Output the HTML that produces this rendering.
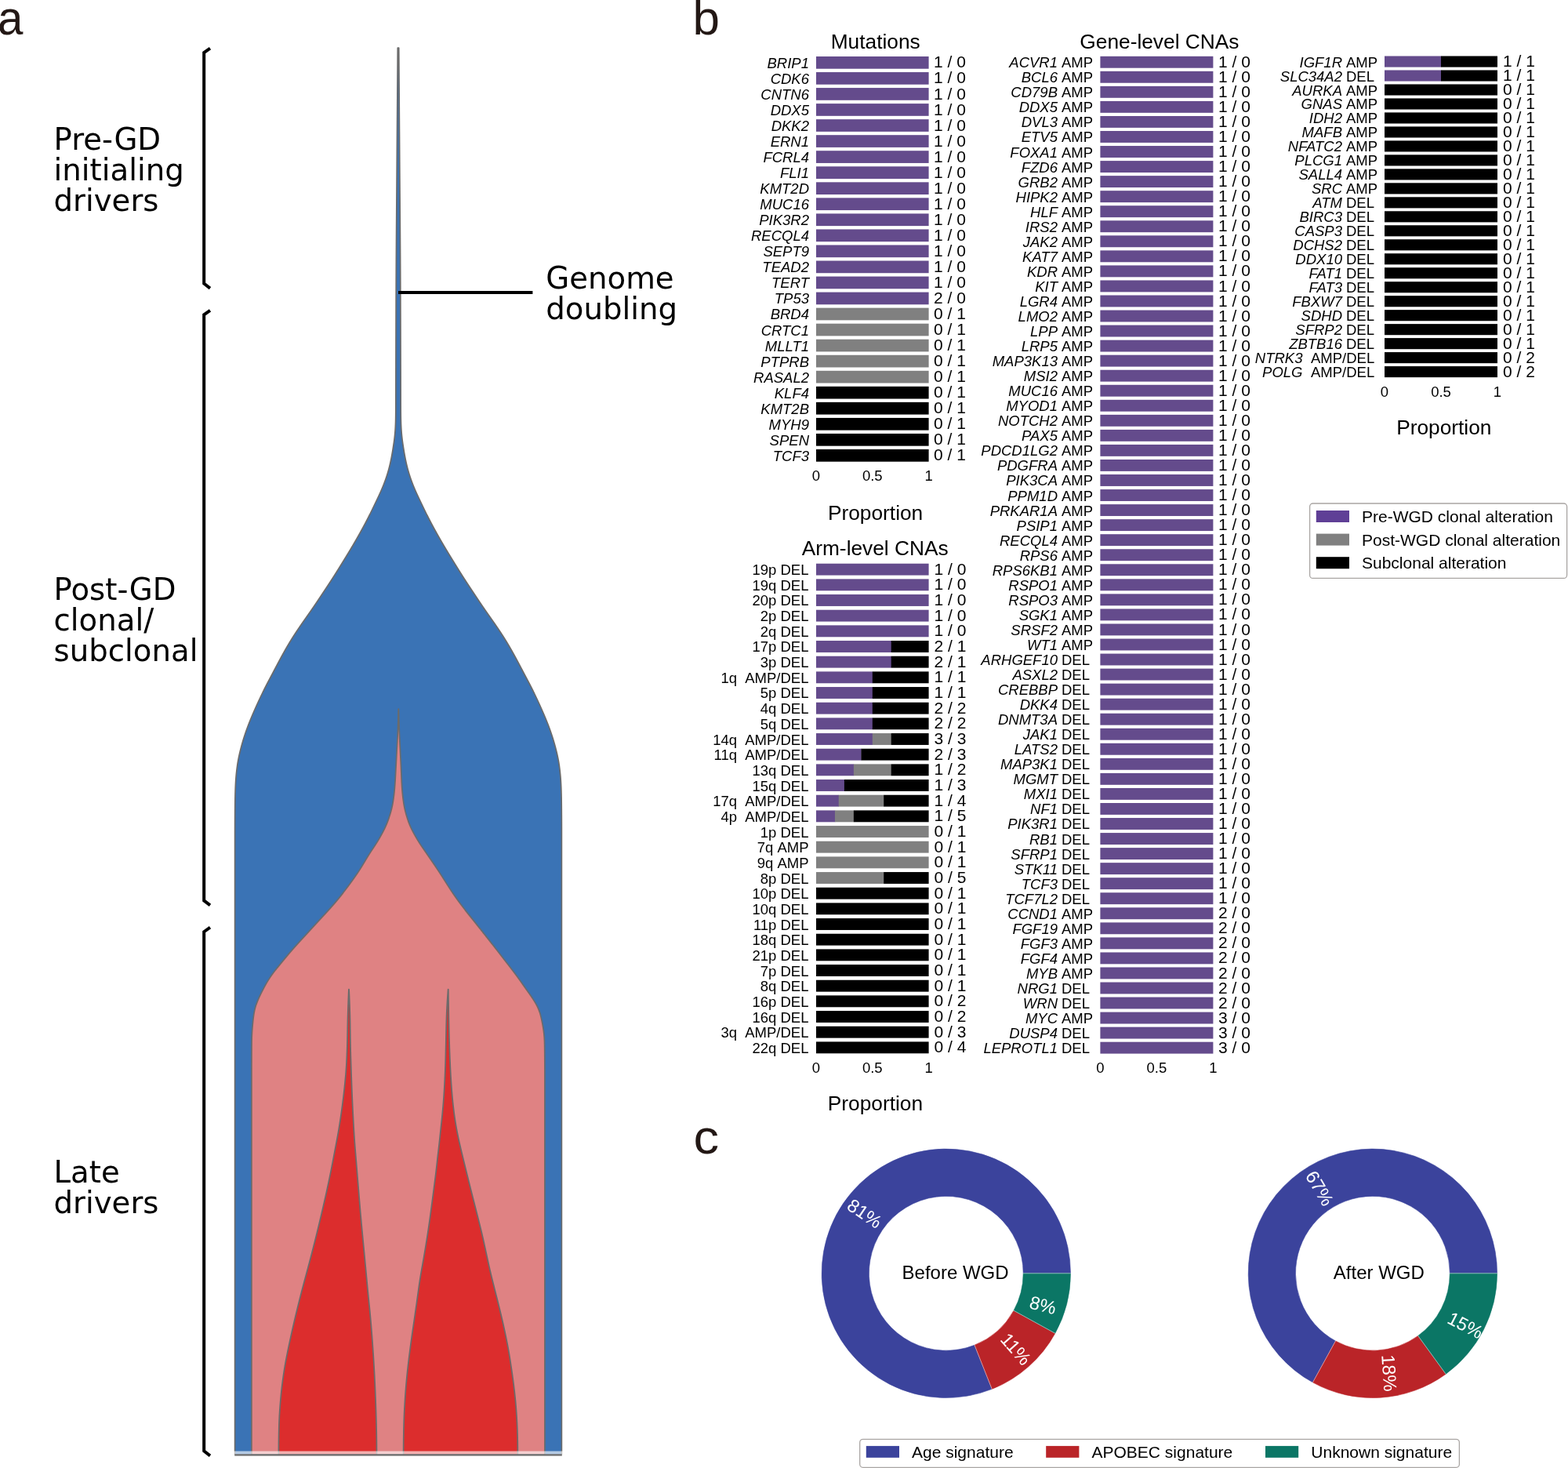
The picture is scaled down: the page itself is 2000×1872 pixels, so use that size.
<!DOCTYPE html>
<html><head><meta charset="utf-8"><title>Figure</title>
<style>html,body{margin:0;padding:0;background:#fff;}svg{display:block;}</style>
</head><body>
<svg xmlns="http://www.w3.org/2000/svg" width="2000" height="1872" viewBox="0 0 2000 1872">
<rect width="2000" height="1872" fill="#ffffff"/>
<g font-family="'Liberation Sans', Arial, Helvetica, sans-serif" font-size="62" fill="#231815">
<text transform="translate(-3.0,44.4) scale(0.94,1)">a</text>
<text x="883.5" y="44.2">b</text>
<text transform="translate(884.5,1470.8) scale(1.05,1)">c</text>
</g>
<g>
<path d="M299.6,1854.2 L299.6,1854 L299.6,1853 L299.6,1852 L299.6,1851 L299.6,1850 L299.6,1849 L299.6,1848 L299.6,1847 L299.6,1846 L299.6,1845 L299.6,1844 L299.6,1843 L299.6,1842 L299.6,1841 L299.6,1840 L299.6,1839 L299.6,1838 L299.6,1837 L299.6,1836 L299.6,1835 L299.6,1834 L299.6,1833 L299.6,1832 L299.6,1831 L299.6,1830 L299.6,1829 L299.6,1828 L299.6,1827 L299.6,1826 L299.6,1825 L299.6,1824 L299.6,1823 L299.6,1822 L299.6,1821 L299.6,1820 L299.6,1819 L299.6,1818 L299.6,1817 L299.6,1816 L299.6,1815 L299.6,1814 L299.6,1813 L299.6,1812 L299.6,1811 L299.6,1810 L299.6,1809 L299.6,1808 L299.6,1807 L299.6,1806 L299.6,1805 L299.6,1804 L299.6,1803 L299.6,1802 L299.6,1801 L299.6,1800 L299.6,1799 L299.6,1798 L299.6,1797 L299.6,1796 L299.6,1795 L299.6,1794 L299.6,1793 L299.6,1792 L299.6,1791 L299.6,1790 L299.6,1789 L299.6,1788 L299.6,1787 L299.6,1786 L299.6,1785 L299.6,1784 L299.6,1783 L299.6,1782 L299.6,1781 L299.6,1780 L299.6,1779 L299.6,1778 L299.6,1777 L299.6,1776 L299.6,1775 L299.6,1774 L299.6,1773 L299.6,1772 L299.6,1771 L299.6,1770 L299.6,1769 L299.6,1768 L299.6,1767 L299.6,1766 L299.6,1765 L299.6,1764 L299.6,1763 L299.6,1762 L299.6,1761 L299.6,1760 L299.6,1759 L299.6,1758 L299.6,1757 L299.6,1756 L299.6,1755 L299.6,1754 L299.6,1753 L299.6,1752 L299.6,1751 L299.6,1750 L299.6,1749 L299.6,1748 L299.6,1747 L299.6,1746 L299.6,1745 L299.6,1744 L299.6,1743 L299.6,1742 L299.6,1741 L299.6,1740 L299.6,1739 L299.6,1738 L299.6,1737 L299.6,1736 L299.6,1735 L299.6,1734 L299.6,1733 L299.6,1732 L299.6,1731 L299.6,1730 L299.6,1729 L299.6,1728 L299.6,1727 L299.6,1726 L299.6,1725 L299.6,1724 L299.6,1723 L299.6,1722 L299.6,1721 L299.6,1720 L299.6,1719 L299.6,1718 L299.6,1717 L299.6,1716 L299.6,1715 L299.6,1714 L299.6,1713 L299.6,1712 L299.6,1711 L299.6,1710 L299.6,1709 L299.6,1708 L299.6,1707 L299.6,1706 L299.6,1705 L299.6,1704 L299.6,1703 L299.6,1702 L299.6,1701 L299.6,1700 L299.6,1699 L299.6,1698 L299.6,1697 L299.6,1696 L299.6,1695 L299.6,1694 L299.6,1693 L299.6,1692 L299.6,1691 L299.6,1690 L299.6,1689 L299.6,1688 L299.6,1687 L299.6,1686 L299.6,1685 L299.6,1684 L299.6,1683 L299.6,1682 L299.6,1681 L299.6,1680 L299.6,1679 L299.6,1678 L299.6,1677 L299.6,1676 L299.6,1675 L299.6,1674 L299.6,1673 L299.6,1672 L299.6,1671 L299.6,1670 L299.6,1669 L299.6,1668 L299.6,1667 L299.6,1666 L299.6,1665 L299.6,1664 L299.6,1663 L299.6,1662 L299.6,1661 L299.6,1660 L299.6,1659 L299.6,1658 L299.6,1657 L299.6,1656 L299.6,1655 L299.6,1654 L299.6,1653 L299.6,1652 L299.6,1651 L299.6,1650 L299.6,1649 L299.6,1648 L299.6,1647 L299.6,1646 L299.6,1645 L299.6,1644 L299.6,1643 L299.6,1642 L299.6,1641 L299.6,1640 L299.6,1639 L299.6,1638 L299.6,1637 L299.6,1636 L299.6,1635 L299.6,1634 L299.6,1633 L299.6,1632 L299.6,1631 L299.6,1630 L299.6,1629 L299.6,1628 L299.6,1627 L299.6,1626 L299.6,1625 L299.6,1624 L299.6,1623 L299.6,1622 L299.6,1621 L299.6,1620 L299.6,1619 L299.6,1618 L299.6,1617 L299.6,1616 L299.6,1615 L299.6,1614 L299.6,1613 L299.6,1612 L299.6,1611 L299.6,1610 L299.6,1609 L299.6,1608 L299.6,1607 L299.6,1606 L299.6,1605 L299.6,1604 L299.6,1603 L299.6,1602 L299.6,1601 L299.6,1600 L299.6,1599 L299.6,1598 L299.6,1597 L299.6,1596 L299.6,1595 L299.6,1594 L299.6,1593 L299.6,1592 L299.6,1591 L299.6,1590 L299.6,1589 L299.6,1588 L299.6,1587 L299.6,1586 L299.6,1585 L299.6,1584 L299.6,1583 L299.6,1582 L299.6,1581 L299.6,1580 L299.6,1579 L299.6,1578 L299.6,1577 L299.6,1576 L299.6,1575 L299.6,1574 L299.6,1573 L299.6,1572 L299.6,1571 L299.6,1570 L299.6,1569 L299.6,1568 L299.6,1567 L299.6,1566 L299.6,1565 L299.6,1564 L299.6,1563 L299.6,1562 L299.6,1561 L299.6,1560 L299.6,1559 L299.6,1558 L299.6,1557 L299.6,1556 L299.6,1555 L299.6,1554 L299.6,1553 L299.6,1552 L299.6,1551 L299.6,1550 L299.6,1549 L299.6,1548 L299.6,1547 L299.6,1546 L299.6,1545 L299.6,1544 L299.6,1543 L299.6,1542 L299.6,1541 L299.6,1540 L299.6,1539 L299.6,1538 L299.6,1537 L299.6,1536 L299.6,1535 L299.6,1534 L299.6,1533 L299.6,1532 L299.6,1531 L299.6,1530 L299.6,1529 L299.6,1528 L299.6,1527 L299.6,1526 L299.6,1525 L299.6,1524 L299.6,1523 L299.6,1522 L299.6,1521 L299.6,1520 L299.6,1519 L299.6,1518 L299.6,1517 L299.6,1516 L299.6,1515 L299.6,1514 L299.6,1513 L299.6,1512 L299.6,1511 L299.6,1510 L299.6,1509 L299.6,1508 L299.6,1507 L299.6,1506 L299.6,1505 L299.6,1504 L299.6,1503 L299.6,1502 L299.6,1501 L299.6,1500 L299.6,1499 L299.6,1498 L299.6,1497 L299.6,1496 L299.6,1495 L299.6,1494 L299.6,1493 L299.6,1492 L299.6,1491 L299.6,1490 L299.6,1489 L299.6,1488 L299.6,1487 L299.6,1486 L299.6,1485 L299.6,1484 L299.6,1483 L299.6,1482 L299.6,1481 L299.6,1480 L299.6,1479 L299.6,1478 L299.6,1477 L299.6,1476 L299.6,1475 L299.6,1474 L299.6,1473 L299.6,1472 L299.6,1471 L299.6,1470 L299.6,1469 L299.6,1468 L299.6,1467 L299.6,1466 L299.6,1465 L299.6,1464 L299.6,1463 L299.6,1462 L299.6,1461 L299.6,1460 L299.6,1459 L299.6,1458 L299.6,1457 L299.6,1456 L299.6,1455 L299.6,1454 L299.6,1453 L299.6,1452 L299.6,1451 L299.6,1450 L299.6,1449 L299.6,1448 L299.6,1447 L299.6,1446 L299.6,1445 L299.6,1444 L299.6,1443 L299.6,1442 L299.6,1441 L299.6,1440 L299.6,1439 L299.6,1438 L299.6,1437 L299.6,1436 L299.6,1435 L299.6,1434 L299.6,1433 L299.6,1432 L299.6,1431 L299.6,1430 L299.6,1429 L299.6,1428 L299.6,1427 L299.6,1426 L299.6,1425 L299.6,1424 L299.6,1423 L299.6,1422 L299.6,1421 L299.6,1420 L299.6,1419 L299.6,1418 L299.6,1417 L299.6,1416 L299.6,1415 L299.6,1414 L299.6,1413 L299.6,1412 L299.6,1411 L299.6,1410 L299.6,1409 L299.6,1408 L299.6,1407 L299.6,1406 L299.6,1405 L299.6,1404 L299.6,1403 L299.6,1402 L299.6,1401 L299.6,1400 L299.6,1399 L299.6,1398 L299.6,1397 L299.6,1396 L299.6,1395 L299.6,1394 L299.6,1393 L299.6,1392 L299.6,1391 L299.6,1390 L299.6,1389 L299.6,1388 L299.6,1387 L299.6,1386 L299.6,1385 L299.6,1384 L299.6,1383 L299.6,1382 L299.6,1381 L299.6,1380 L299.6,1379 L299.6,1378 L299.6,1377 L299.6,1376 L299.6,1375 L299.6,1374 L299.6,1373 L299.6,1372 L299.6,1371 L299.6,1370 L299.6,1369 L299.6,1368 L299.6,1367 L299.6,1366 L299.6,1365 L299.6,1364 L299.6,1363 L299.6,1362 L299.6,1361 L299.6,1360 L299.6,1359 L299.6,1358 L299.6,1357 L299.6,1356 L299.6,1355 L299.6,1354 L299.6,1353 L299.6,1352 L299.6,1351 L299.6,1350 L299.6,1349 L299.6,1348 L299.6,1347 L299.6,1346 L299.6,1345 L299.6,1344 L299.6,1343 L299.6,1342 L299.6,1341 L299.6,1340 L299.6,1339 L299.6,1338 L299.6,1337 L299.6,1336 L299.6,1335 L299.6,1334 L299.6,1333 L299.6,1332 L299.6,1331 L299.6,1330 L299.6,1329 L299.6,1328 L299.6,1327 L299.6,1326 L299.6,1325 L299.6,1324 L299.6,1323 L299.6,1322 L299.6,1321 L299.6,1320 L299.6,1319 L299.6,1318 L299.6,1317 L299.6,1316 L299.6,1315 L299.6,1314 L299.6,1313 L299.6,1312 L299.6,1311 L299.6,1310 L299.6,1309 L299.6,1308 L299.6,1307 L299.6,1306 L299.6,1305 L299.6,1304 L299.6,1303 L299.6,1302 L299.6,1301 L299.6,1300 L299.6,1299 L299.6,1298 L299.6,1297 L299.6,1296 L299.6,1295 L299.6,1294 L299.6,1293 L299.6,1292 L299.6,1291 L299.6,1290 L299.6,1289 L299.6,1288 L299.6,1287 L299.6,1286 L299.6,1285 L299.6,1284 L299.6,1283 L299.6,1282 L299.6,1281 L299.6,1280 L299.6,1279 L299.6,1278 L299.6,1277 L299.6,1276 L299.6,1275 L299.6,1274 L299.6,1273 L299.6,1272 L299.6,1271 L299.6,1270 L299.6,1269 L299.6,1268 L299.6,1267 L299.6,1266 L299.6,1265 L299.6,1264 L299.6,1263 L299.6,1262 L299.6,1261 L299.6,1260 L299.6,1259 L299.6,1258 L299.6,1257 L299.6,1256 L299.6,1255 L299.6,1254 L299.6,1253 L299.6,1252 L299.6,1251 L299.6,1250 L299.6,1249 L299.6,1248 L299.6,1247 L299.6,1246 L299.6,1245 L299.6,1244 L299.6,1243 L299.6,1242 L299.6,1241 L299.6,1240 L299.6,1239 L299.6,1238 L299.6,1237 L299.6,1236 L299.6,1235 L299.6,1234 L299.6,1233 L299.6,1232 L299.6,1231 L299.6,1230 L299.6,1229 L299.6,1228 L299.6,1227 L299.6,1226 L299.6,1225 L299.6,1224 L299.6,1223 L299.6,1222 L299.6,1221 L299.6,1220 L299.6,1219 L299.6,1218 L299.6,1217 L299.6,1216 L299.6,1215 L299.6,1214 L299.6,1213 L299.6,1212 L299.6,1211 L299.6,1210 L299.6,1209 L299.6,1208 L299.6,1207 L299.6,1206 L299.6,1205 L299.6,1204 L299.6,1203 L299.6,1202 L299.6,1201 L299.6,1200 L299.6,1199 L299.6,1198 L299.6,1197 L299.6,1196 L299.6,1195 L299.6,1194 L299.6,1193 L299.6,1192 L299.6,1191 L299.6,1190 L299.6,1189 L299.6,1188 L299.6,1187 L299.6,1186 L299.6,1185 L299.6,1184 L299.6,1183 L299.6,1182 L299.6,1181 L299.6,1180 L299.6,1179 L299.6,1178 L299.6,1177 L299.6,1176 L299.6,1175 L299.6,1174 L299.6,1173 L299.6,1172 L299.6,1171 L299.6,1170 L299.6,1169 L299.6,1168 L299.6,1167 L299.6,1166 L299.6,1165 L299.6,1164 L299.6,1163 L299.6,1162 L299.6,1161 L299.6,1160 L299.6,1159 L299.6,1158 L299.6,1157 L299.6,1156 L299.6,1155 L299.6,1154 L299.6,1153 L299.6,1152 L299.6,1151 L299.6,1150 L299.6,1149 L299.6,1148 L299.6,1147 L299.6,1146 L299.6,1145 L299.6,1144 L299.6,1143 L299.6,1142 L299.6,1141 L299.6,1140 L299.6,1139 L299.6,1138 L299.6,1137 L299.6,1136 L299.6,1135 L299.6,1134 L299.6,1133 L299.6,1132 L299.6,1131 L299.6,1130 L299.6,1129 L299.6,1128 L299.6,1127 L299.6,1126 L299.6,1125 L299.6,1124 L299.6,1123 L299.6,1122 L299.6,1121 L299.6,1120 L299.6,1119 L299.6,1118 L299.6,1117 L299.6,1116 L299.6,1115 L299.6,1114 L299.6,1113 L299.6,1112 L299.6,1111 L299.6,1110 L299.6,1109 L299.6,1108 L299.6,1107 L299.6,1106 L299.6,1105 L299.6,1104 L299.6,1103 L299.6,1102 L299.6,1101 L299.6,1100 L299.6,1099 L299.6,1098 L299.6,1097 L299.6,1096 L299.6,1095 L299.6,1094 L299.6,1093 L299.6,1092 L299.6,1091 L299.6,1090 L299.6,1089 L299.6,1088 L299.6,1087 L299.6,1086 L299.6,1085 L299.6,1084 L299.6,1083 L299.6,1082 L299.6,1081 L299.6,1080 L299.6,1079 L299.6,1078 L299.6,1077 L299.6,1076 L299.6,1075 L299.6,1074 L299.6,1073 L299.6,1072 L299.6,1071 L299.6,1070 L299.6,1069 L299.6,1068 L299.6,1067 L299.6,1066 L299.6,1065 L299.6,1064 L299.6,1063 L299.6,1062 L299.6,1061 L299.61,1060 L299.61,1059 L299.61,1058 L299.61,1057 L299.61,1056 L299.61,1055 L299.62,1054 L299.62,1053 L299.62,1052 L299.62,1051 L299.63,1050 L299.63,1049 L299.63,1048 L299.64,1047 L299.64,1046 L299.65,1045 L299.65,1044 L299.66,1043 L299.66,1042 L299.67,1041 L299.67,1040 L299.68,1039 L299.69,1038 L299.69,1037 L299.7,1036 L299.71,1035 L299.71,1034 L299.72,1033 L299.73,1032 L299.74,1031 L299.75,1030 L299.76,1029 L299.77,1028 L299.78,1027 L299.79,1026 L299.8,1025 L299.81,1024 L299.82,1023 L299.84,1022 L299.85,1021 L299.87,1020 L299.88,1019 L299.9,1018 L299.92,1017 L299.94,1016 L299.96,1015 L299.98,1014 L300,1013 L300.03,1012 L300.05,1011 L300.08,1010 L300.11,1009 L300.14,1008 L300.17,1007 L300.21,1006 L300.24,1005 L300.28,1004 L300.32,1003 L300.37,1002 L300.41,1001 L300.46,1000 L300.51,999 L300.57,998 L300.62,997 L300.68,996 L300.75,995 L300.82,994 L300.89,993 L300.96,992 L301.04,991 L301.12,990 L301.21,989 L301.3,988 L301.4,987 L301.5,986 L301.6,985 L301.71,984 L301.82,983 L301.93,982 L302.05,981 L302.18,980 L302.31,979 L302.44,978 L302.58,977 L302.73,976 L302.88,975 L303.03,974 L303.19,973 L303.36,972 L303.53,971 L303.71,970 L303.89,969 L304.09,968 L304.28,967 L304.48,966 L304.69,965 L304.9,964 L305.12,963 L305.34,962 L305.57,961 L305.8,960 L306.04,959 L306.28,958 L306.53,957 L306.78,956 L307.03,955 L307.29,954 L307.55,953 L307.82,952 L308.09,951 L308.36,950 L308.64,949 L308.92,948 L309.21,947 L309.5,946 L309.79,945 L310.09,944 L310.4,943 L310.7,942 L311.02,941 L311.33,940 L311.65,939 L311.98,938 L312.31,937 L312.64,936 L312.98,935 L313.32,934 L313.66,933 L314.01,932 L314.36,931 L314.72,930 L315.08,929 L315.45,928 L315.82,927 L316.19,926 L316.57,925 L316.95,924 L317.34,923 L317.73,922 L318.13,921 L318.53,920 L318.93,919 L319.33,918 L319.74,917 L320.16,916 L320.57,915 L320.99,914 L321.41,913 L321.84,912 L322.26,911 L322.69,910 L323.13,909 L323.56,908 L324,907 L324.43,906 L324.88,905 L325.32,904 L325.76,903 L326.21,902 L326.66,901 L327.11,900 L327.56,899 L328.01,898 L328.47,897 L328.93,896 L329.39,895 L329.85,894 L330.32,893 L330.78,892 L331.25,891 L331.73,890 L332.2,889 L332.68,888 L333.16,887 L333.64,886 L334.13,885 L334.62,884 L335.11,883 L335.61,882 L336.1,881 L336.6,880 L337.11,879 L337.61,878 L338.12,877 L338.63,876 L339.15,875 L339.66,874 L340.18,873 L340.7,872 L341.22,871 L341.75,870 L342.27,869 L342.8,868 L343.33,867 L343.86,866 L344.39,865 L344.92,864 L345.45,863 L345.98,862 L346.51,861 L347.04,860 L347.57,859 L348.1,858 L348.63,857 L349.16,856 L349.68,855 L350.21,854 L350.74,853 L351.27,852 L351.8,851 L352.32,850 L352.85,849 L353.38,848 L353.91,847 L354.44,846 L354.97,845 L355.5,844 L356.04,843 L356.57,842 L357.11,841 L357.65,840 L358.19,839 L358.73,838 L359.27,837 L359.82,836 L360.37,835 L360.92,834 L361.48,833 L362.04,832 L362.6,831 L363.16,830 L363.73,829 L364.3,828 L364.87,827 L365.45,826 L366.03,825 L366.61,824 L367.2,823 L367.79,822 L368.38,821 L368.98,820 L369.58,819 L370.19,818 L370.8,817 L371.42,816 L372.04,815 L372.66,814 L373.29,813 L373.92,812 L374.56,811 L375.2,810 L375.85,809 L376.5,808 L377.15,807 L377.81,806 L378.47,805 L379.14,804 L379.81,803 L380.48,802 L381.16,801 L381.84,800 L382.52,799 L383.2,798 L383.89,797 L384.58,796 L385.27,795 L385.97,794 L386.66,793 L387.36,792 L388.06,791 L388.76,790 L389.47,789 L390.17,788 L390.87,787 L391.58,786 L392.28,785 L392.99,784 L393.69,783 L394.39,782 L395.09,781 L395.79,780 L396.49,779 L397.19,778 L397.88,777 L398.57,776 L399.26,775 L399.95,774 L400.64,773 L401.32,772 L402,771 L402.67,770 L403.35,769 L404.02,768 L404.69,767 L405.36,766 L406.03,765 L406.7,764 L407.37,763 L408.03,762 L408.7,761 L409.36,760 L410.03,759 L410.69,758 L411.36,757 L412.02,756 L412.68,755 L413.35,754 L414.01,753 L414.68,752 L415.34,751 L416,750 L416.67,749 L417.33,748 L417.99,747 L418.65,746 L419.31,745 L419.96,744 L420.62,743 L421.28,742 L421.93,741 L422.58,740 L423.23,739 L423.87,738 L424.52,737 L425.16,736 L425.8,735 L426.44,734 L427.07,733 L427.71,732 L428.34,731 L428.97,730 L429.6,729 L430.22,728 L430.85,727 L431.47,726 L432.1,725 L432.72,724 L433.34,723 L433.96,722 L434.58,721 L435.2,720 L435.82,719 L436.43,718 L437.05,717 L437.67,716 L438.29,715 L438.9,714 L439.52,713 L440.13,712 L440.75,711 L441.36,710 L441.97,709 L442.59,708 L443.2,707 L443.81,706 L444.42,705 L445.02,704 L445.63,703 L446.23,702 L446.83,701 L447.43,700 L448.03,699 L448.63,698 L449.22,697 L449.82,696 L450.41,695 L450.99,694 L451.58,693 L452.16,692 L452.75,691 L453.33,690 L453.9,689 L454.48,688 L455.05,687 L455.63,686 L456.2,685 L456.76,684 L457.33,683 L457.89,682 L458.46,681 L459.02,680 L459.57,679 L460.13,678 L460.68,677 L461.24,676 L461.79,675 L462.33,674 L462.88,673 L463.42,672 L463.96,671 L464.5,670 L465.04,669 L465.57,668 L466.1,667 L466.63,666 L467.15,665 L467.67,664 L468.19,663 L468.71,662 L469.22,661 L469.73,660 L470.23,659 L470.73,658 L471.23,657 L471.73,656 L472.22,655 L472.71,654 L473.2,653 L473.69,652 L474.18,651 L474.66,650 L475.14,649 L475.62,648 L476.1,647 L476.58,646 L477.06,645 L477.54,644 L478.01,643 L478.49,642 L478.97,641 L479.45,640 L479.92,639 L480.4,638 L480.88,637 L481.35,636 L481.83,635 L482.3,634 L482.77,633 L483.24,632 L483.71,631 L484.17,630 L484.63,629 L485.08,628 L485.53,627 L485.97,626 L486.41,625 L486.84,624 L487.27,623 L487.69,622 L488.11,621 L488.52,620 L488.92,619 L489.32,618 L489.71,617 L490.09,616 L490.47,615 L490.84,614 L491.21,613 L491.57,612 L491.93,611 L492.28,610 L492.62,609 L492.96,608 L493.29,607 L493.61,606 L493.93,605 L494.24,604 L494.54,603 L494.84,602 L495.13,601 L495.42,600 L495.69,599 L495.97,598 L496.23,597 L496.49,596 L496.74,595 L496.99,594 L497.23,593 L497.47,592 L497.7,591 L497.92,590 L498.14,589 L498.36,588 L498.57,587 L498.77,586 L498.98,585 L499.17,584 L499.37,583 L499.56,582 L499.74,581 L499.93,580 L500.11,579 L500.28,578 L500.46,577 L500.63,576 L500.79,575 L500.96,574 L501.12,573 L501.28,572 L501.44,571 L501.59,570 L501.74,569 L501.89,568 L502.04,567 L502.19,566 L502.33,565 L502.47,564 L502.6,563 L502.74,562 L502.87,561 L502.99,560 L503.11,559 L503.23,558 L503.34,557 L503.45,556 L503.55,555 L503.65,554 L503.74,553 L503.83,552 L503.91,551 L503.99,550 L504.07,549 L504.13,548 L504.2,547 L504.26,546 L504.31,545 L504.36,544 L504.41,543 L504.45,542 L504.49,541 L504.53,540 L504.56,539 L504.59,538 L504.62,537 L504.64,536 L504.67,535 L504.69,534 L504.71,533 L504.72,532 L504.74,531 L504.75,530 L504.76,529 L504.77,528 L504.78,527 L504.79,526 L504.8,525 L504.81,524 L504.81,523 L504.82,522 L504.82,521 L504.83,520 L504.83,519 L504.83,518 L504.84,517 L504.84,516 L504.84,515 L504.84,514 L504.85,513 L504.85,512 L504.85,511 L504.85,510 L504.85,509 L504.86,508 L504.86,507 L504.86,506 L504.86,505 L504.86,504 L504.86,503 L504.87,502 L504.87,501 L504.87,500 L504.87,499 L504.87,498 L504.87,497 L504.87,496 L504.88,495 L504.88,494 L504.88,493 L504.88,492 L504.88,491 L504.88,490 L504.89,489 L504.89,488 L504.89,487 L504.89,486 L504.89,485 L504.89,484 L504.9,483 L504.9,482 L504.9,481 L504.9,480 L504.9,479 L504.91,478 L504.91,477 L504.91,476 L504.91,475 L504.91,474 L504.92,473 L504.92,472 L504.92,471 L504.92,470 L504.93,469 L504.93,468 L504.93,467 L504.93,466 L504.93,465 L504.94,464 L504.94,463 L504.94,462 L504.94,461 L504.95,460 L504.95,459 L504.95,458 L504.95,457 L504.95,456 L504.96,455 L504.96,454 L504.96,453 L504.96,452 L504.97,451 L504.97,450 L504.97,449 L504.97,448 L504.98,447 L504.98,446 L504.98,445 L504.98,444 L504.99,443 L504.99,442 L504.99,441 L504.99,440 L505,439 L505,438 L505,437 L505,436 L505,435 L505.01,434 L505.01,433 L505.01,432 L505.01,431 L505.02,430 L505.02,429 L505.02,428 L505.03,427 L505.03,426 L505.03,425 L505.03,424 L505.04,423 L505.04,422 L505.04,421 L505.04,420 L505.05,419 L505.05,418 L505.05,417 L505.05,416 L505.06,415 L505.06,414 L505.06,413 L505.07,412 L505.07,411 L505.07,410 L505.07,409 L505.08,408 L505.08,407 L505.08,406 L505.09,405 L505.09,404 L505.09,403 L505.09,402 L505.1,401 L505.1,400 L505.1,399 L505.11,398 L505.11,397 L505.11,396 L505.12,395 L505.12,394 L505.12,393 L505.12,392 L505.13,391 L505.13,390 L505.13,389 L505.14,388 L505.14,387 L505.14,386 L505.15,385 L505.15,384 L505.15,383 L505.16,382 L505.16,381 L505.16,380 L505.17,379 L505.17,378 L505.18,377 L505.18,376 L505.18,375 L505.19,374 L505.19,373 L505.19,372 L505.2,371 L505.2,370 L505.21,369 L505.21,368 L505.21,367 L505.22,366 L505.22,365 L505.23,364 L505.23,363 L505.23,362 L505.24,361 L505.24,360 L505.25,359 L505.25,358 L505.26,357 L505.26,356 L505.26,355 L505.27,354 L505.27,353 L505.28,352 L505.28,351 L505.29,350 L505.29,349 L505.3,348 L505.3,347 L505.31,346 L505.31,345 L505.32,344 L505.32,343 L505.33,342 L505.33,341 L505.34,340 L505.34,339 L505.35,338 L505.35,337 L505.36,336 L505.37,335 L505.37,334 L505.38,333 L505.38,332 L505.39,331 L505.39,330 L505.4,329 L505.4,328 L505.41,327 L505.42,326 L505.42,325 L505.43,324 L505.43,323 L505.44,322 L505.45,321 L505.45,320 L505.46,319 L505.46,318 L505.47,317 L505.48,316 L505.48,315 L505.49,314 L505.5,313 L505.5,312 L505.51,311 L505.52,310 L505.52,309 L505.53,308 L505.53,307 L505.54,306 L505.55,305 L505.55,304 L505.56,303 L505.57,302 L505.57,301 L505.58,300 L505.59,299 L505.59,298 L505.6,297 L505.61,296 L505.62,295 L505.62,294 L505.63,293 L505.64,292 L505.64,291 L505.65,290 L505.66,289 L505.66,288 L505.67,287 L505.68,286 L505.68,285 L505.69,284 L505.7,283 L505.71,282 L505.71,281 L505.72,280 L505.73,279 L505.73,278 L505.74,277 L505.75,276 L505.76,275 L505.76,274 L505.77,273 L505.78,272 L505.79,271 L505.79,270 L505.8,269 L505.81,268 L505.81,267 L505.82,266 L505.83,265 L505.84,264 L505.84,263 L505.85,262 L505.86,261 L505.87,260 L505.87,259 L505.88,258 L505.89,257 L505.89,256 L505.9,255 L505.91,254 L505.92,253 L505.92,252 L505.93,251 L505.94,250 L505.95,249 L505.95,248 L505.96,247 L505.97,246 L505.98,245 L505.98,244 L505.99,243 L506,242 L506.01,241 L506.01,240 L506.02,239 L506.03,238 L506.04,237 L506.04,236 L506.05,235 L506.06,234 L506.06,233 L506.07,232 L506.08,231 L506.09,230 L506.09,229 L506.1,228 L506.11,227 L506.12,226 L506.12,225 L506.13,224 L506.14,223 L506.14,222 L506.15,221 L506.16,220 L506.17,219 L506.17,218 L506.18,217 L506.19,216 L506.19,215 L506.2,214 L506.21,213 L506.22,212 L506.22,211 L506.23,210 L506.24,209 L506.24,208 L506.25,207 L506.26,206 L506.27,205 L506.27,204 L506.28,203 L506.29,202 L506.29,201 L506.3,200 L506.31,199 L506.31,198 L506.32,197 L506.33,196 L506.33,195 L506.34,194 L506.35,193 L506.35,192 L506.36,191 L506.37,190 L506.38,189 L506.38,188 L506.39,187 L506.4,186 L506.4,185 L506.41,184 L506.42,183 L506.42,182 L506.43,181 L506.44,180 L506.44,179 L506.45,178 L506.46,177 L506.47,176 L506.47,175 L506.48,174 L506.49,173 L506.49,172 L506.5,171 L506.51,170 L506.51,169 L506.52,168 L506.53,167 L506.54,166 L506.54,165 L506.55,164 L506.56,163 L506.56,162 L506.57,161 L506.58,160 L506.58,159 L506.59,158 L506.6,157 L506.61,156 L506.61,155 L506.62,154 L506.63,153 L506.63,152 L506.64,151 L506.65,150 L506.66,149 L506.66,148 L506.67,147 L506.68,146 L506.68,145 L506.69,144 L506.7,143 L506.71,142 L506.71,141 L506.72,140 L506.73,139 L506.73,138 L506.74,137 L506.75,136 L506.76,135 L506.76,134 L506.77,133 L506.78,132 L506.78,131 L506.79,130 L506.8,129 L506.81,128 L506.81,127 L506.82,126 L506.83,125 L506.84,124 L506.84,123 L506.85,122 L506.86,121 L506.86,120 L506.87,119 L506.88,118 L506.89,117 L506.89,116 L506.9,115 L506.91,114 L506.91,113 L506.92,112 L506.93,111 L506.94,110 L506.94,109 L506.95,108 L506.96,107 L506.97,106 L506.97,105 L506.98,104 L506.99,103 L507,102 L507,101 L507.01,100 L507.02,99 L507.02,98 L507.03,97 L507.04,96 L507.05,95 L507.05,94 L507.06,93 L507.07,92 L507.08,91 L507.08,90 L507.09,89 L507.1,88 L507.11,87 L507.11,86 L507.12,85 L507.13,84 L507.14,83 L507.14,82 L507.15,81 L507.16,80 L507.17,79 L507.17,78 L507.18,77 L507.19,76 L507.19,75 L507.2,74 L507.21,73 L507.22,72 L507.22,71 L507.23,70 L507.24,69 L507.25,68 L507.25,67 L507.26,66 L507.27,65 L507.28,64 L507.28,63 L507.29,62 L507.3,61 L508.7,61 L508.71,62 L508.72,63 L508.72,64 L508.73,65 L508.74,66 L508.75,67 L508.75,68 L508.76,69 L508.77,70 L508.78,71 L508.78,72 L508.79,73 L508.8,74 L508.81,75 L508.81,76 L508.82,77 L508.83,78 L508.83,79 L508.84,80 L508.85,81 L508.86,82 L508.86,83 L508.87,84 L508.88,85 L508.89,86 L508.89,87 L508.9,88 L508.91,89 L508.92,90 L508.92,91 L508.93,92 L508.94,93 L508.95,94 L508.95,95 L508.96,96 L508.97,97 L508.98,98 L508.98,99 L508.99,100 L509,101 L509,102 L509.01,103 L509.02,104 L509.03,105 L509.03,106 L509.04,107 L509.05,108 L509.06,109 L509.06,110 L509.07,111 L509.08,112 L509.09,113 L509.09,114 L509.1,115 L509.11,116 L509.11,117 L509.12,118 L509.13,119 L509.14,120 L509.14,121 L509.15,122 L509.16,123 L509.16,124 L509.17,125 L509.18,126 L509.19,127 L509.19,128 L509.2,129 L509.21,130 L509.22,131 L509.22,132 L509.23,133 L509.24,134 L509.24,135 L509.25,136 L509.26,137 L509.27,138 L509.27,139 L509.28,140 L509.29,141 L509.29,142 L509.3,143 L509.31,144 L509.32,145 L509.32,146 L509.33,147 L509.34,148 L509.34,149 L509.35,150 L509.36,151 L509.37,152 L509.37,153 L509.38,154 L509.39,155 L509.39,156 L509.4,157 L509.41,158 L509.42,159 L509.42,160 L509.43,161 L509.44,162 L509.44,163 L509.45,164 L509.46,165 L509.46,166 L509.47,167 L509.48,168 L509.49,169 L509.49,170 L509.5,171 L509.51,172 L509.51,173 L509.52,174 L509.53,175 L509.53,176 L509.54,177 L509.55,178 L509.56,179 L509.56,180 L509.57,181 L509.58,182 L509.58,183 L509.59,184 L509.6,185 L509.6,186 L509.61,187 L509.62,188 L509.62,189 L509.63,190 L509.64,191 L509.65,192 L509.65,193 L509.66,194 L509.67,195 L509.67,196 L509.68,197 L509.69,198 L509.69,199 L509.7,200 L509.71,201 L509.71,202 L509.72,203 L509.73,204 L509.73,205 L509.74,206 L509.75,207 L509.76,208 L509.76,209 L509.77,210 L509.78,211 L509.78,212 L509.79,213 L509.8,214 L509.81,215 L509.81,216 L509.82,217 L509.83,218 L509.83,219 L509.84,220 L509.85,221 L509.86,222 L509.86,223 L509.87,224 L509.88,225 L509.88,226 L509.89,227 L509.9,228 L509.91,229 L509.91,230 L509.92,231 L509.93,232 L509.94,233 L509.94,234 L509.95,235 L509.96,236 L509.96,237 L509.97,238 L509.98,239 L509.99,240 L509.99,241 L510,242 L510.01,243 L510.02,244 L510.02,245 L510.03,246 L510.04,247 L510.05,248 L510.05,249 L510.06,250 L510.07,251 L510.08,252 L510.08,253 L510.09,254 L510.1,255 L510.11,256 L510.11,257 L510.12,258 L510.13,259 L510.13,260 L510.14,261 L510.15,262 L510.16,263 L510.16,264 L510.17,265 L510.18,266 L510.19,267 L510.19,268 L510.2,269 L510.21,270 L510.21,271 L510.22,272 L510.23,273 L510.24,274 L510.24,275 L510.25,276 L510.26,277 L510.27,278 L510.27,279 L510.28,280 L510.29,281 L510.29,282 L510.3,283 L510.31,284 L510.32,285 L510.32,286 L510.33,287 L510.34,288 L510.34,289 L510.35,290 L510.36,291 L510.36,292 L510.37,293 L510.38,294 L510.38,295 L510.39,296 L510.4,297 L510.41,298 L510.41,299 L510.42,300 L510.43,301 L510.43,302 L510.44,303 L510.45,304 L510.45,305 L510.46,306 L510.47,307 L510.47,308 L510.48,309 L510.48,310 L510.49,311 L510.5,312 L510.5,313 L510.51,314 L510.52,315 L510.52,316 L510.53,317 L510.54,318 L510.54,319 L510.55,320 L510.55,321 L510.56,322 L510.57,323 L510.57,324 L510.58,325 L510.58,326 L510.59,327 L510.6,328 L510.6,329 L510.61,330 L510.61,331 L510.62,332 L510.62,333 L510.63,334 L510.63,335 L510.64,336 L510.65,337 L510.65,338 L510.66,339 L510.66,340 L510.67,341 L510.67,342 L510.68,343 L510.68,344 L510.69,345 L510.69,346 L510.7,347 L510.7,348 L510.71,349 L510.71,350 L510.72,351 L510.72,352 L510.73,353 L510.73,354 L510.74,355 L510.74,356 L510.74,357 L510.75,358 L510.75,359 L510.76,360 L510.76,361 L510.77,362 L510.77,363 L510.77,364 L510.78,365 L510.78,366 L510.79,367 L510.79,368 L510.79,369 L510.8,370 L510.8,371 L510.81,372 L510.81,373 L510.81,374 L510.82,375 L510.82,376 L510.82,377 L510.83,378 L510.83,379 L510.84,380 L510.84,381 L510.84,382 L510.85,383 L510.85,384 L510.85,385 L510.86,386 L510.86,387 L510.86,388 L510.87,389 L510.87,390 L510.87,391 L510.88,392 L510.88,393 L510.88,394 L510.88,395 L510.89,396 L510.89,397 L510.89,398 L510.9,399 L510.9,400 L510.9,401 L510.91,402 L510.91,403 L510.91,404 L510.91,405 L510.92,406 L510.92,407 L510.92,408 L510.93,409 L510.93,410 L510.93,411 L510.93,412 L510.94,413 L510.94,414 L510.94,415 L510.95,416 L510.95,417 L510.95,418 L510.95,419 L510.96,420 L510.96,421 L510.96,422 L510.96,423 L510.97,424 L510.97,425 L510.97,426 L510.97,427 L510.98,428 L510.98,429 L510.98,430 L510.99,431 L510.99,432 L510.99,433 L510.99,434 L511,435 L511,436 L511,437 L511,438 L511,439 L511.01,440 L511.01,441 L511.01,442 L511.01,443 L511.02,444 L511.02,445 L511.02,446 L511.02,447 L511.03,448 L511.03,449 L511.03,450 L511.03,451 L511.04,452 L511.04,453 L511.04,454 L511.04,455 L511.05,456 L511.05,457 L511.05,458 L511.05,459 L511.05,460 L511.06,461 L511.06,462 L511.06,463 L511.06,464 L511.07,465 L511.07,466 L511.07,467 L511.07,468 L511.07,469 L511.08,470 L511.08,471 L511.08,472 L511.08,473 L511.09,474 L511.09,475 L511.09,476 L511.09,477 L511.09,478 L511.1,479 L511.1,480 L511.1,481 L511.1,482 L511.1,483 L511.11,484 L511.11,485 L511.11,486 L511.11,487 L511.11,488 L511.11,489 L511.12,490 L511.12,491 L511.12,492 L511.12,493 L511.12,494 L511.12,495 L511.13,496 L511.13,497 L511.13,498 L511.13,499 L511.13,500 L511.13,501 L511.13,502 L511.14,503 L511.14,504 L511.14,505 L511.14,506 L511.14,507 L511.14,508 L511.15,509 L511.15,510 L511.15,511 L511.15,512 L511.15,513 L511.16,514 L511.16,515 L511.16,516 L511.16,517 L511.17,518 L511.17,519 L511.17,520 L511.18,521 L511.18,522 L511.19,523 L511.19,524 L511.2,525 L511.21,526 L511.22,527 L511.23,528 L511.24,529 L511.25,530 L511.26,531 L511.28,532 L511.29,533 L511.31,534 L511.33,535 L511.36,536 L511.38,537 L511.41,538 L511.44,539 L511.47,540 L511.51,541 L511.55,542 L511.59,543 L511.64,544 L511.69,545 L511.74,546 L511.8,547 L511.87,548 L511.93,549 L512.01,550 L512.09,551 L512.17,552 L512.26,553 L512.35,554 L512.45,555 L512.55,556 L512.66,557 L512.77,558 L512.89,559 L513.01,560 L513.13,561 L513.26,562 L513.4,563 L513.53,564 L513.67,565 L513.81,566 L513.96,567 L514.11,568 L514.26,569 L514.41,570 L514.56,571 L514.72,572 L514.88,573 L515.04,574 L515.21,575 L515.37,576 L515.54,577 L515.72,578 L515.89,579 L516.07,580 L516.26,581 L516.44,582 L516.63,583 L516.83,584 L517.02,585 L517.23,586 L517.43,587 L517.64,588 L517.86,589 L518.08,590 L518.3,591 L518.53,592 L518.77,593 L519.01,594 L519.26,595 L519.51,596 L519.77,597 L520.03,598 L520.31,599 L520.58,600 L520.87,601 L521.16,602 L521.46,603 L521.76,604 L522.07,605 L522.39,606 L522.71,607 L523.04,608 L523.38,609 L523.72,610 L524.07,611 L524.43,612 L524.79,613 L525.16,614 L525.53,615 L525.91,616 L526.29,617 L526.68,618 L527.08,619 L527.48,620 L527.89,621 L528.31,622 L528.73,623 L529.16,624 L529.59,625 L530.03,626 L530.47,627 L530.92,628 L531.37,629 L531.83,630 L532.29,631 L532.76,632 L533.23,633 L533.7,634 L534.17,635 L534.65,636 L535.12,637 L535.6,638 L536.08,639 L536.55,640 L537.03,641 L537.51,642 L537.99,643 L538.46,644 L538.94,645 L539.42,646 L539.9,647 L540.38,648 L540.86,649 L541.34,650 L541.82,651 L542.31,652 L542.8,653 L543.29,654 L543.78,655 L544.27,656 L544.77,657 L545.27,658 L545.77,659 L546.27,660 L546.78,661 L547.29,662 L547.81,663 L548.33,664 L548.85,665 L549.37,666 L549.9,667 L550.43,668 L550.96,669 L551.5,670 L552.04,671 L552.58,672 L553.12,673 L553.67,674 L554.21,675 L554.76,676 L555.32,677 L555.87,678 L556.43,679 L556.98,680 L557.54,681 L558.11,682 L558.67,683 L559.24,684 L559.8,685 L560.37,686 L560.95,687 L561.52,688 L562.1,689 L562.67,690 L563.25,691 L563.84,692 L564.42,693 L565.01,694 L565.59,695 L566.18,696 L566.78,697 L567.37,698 L567.97,699 L568.57,700 L569.17,701 L569.77,702 L570.37,703 L570.98,704 L571.58,705 L572.19,706 L572.8,707 L573.41,708 L574.03,709 L574.64,710 L575.25,711 L575.87,712 L576.48,713 L577.1,714 L577.71,715 L578.33,716 L578.95,717 L579.57,718 L580.18,719 L580.8,720 L581.42,721 L582.04,722 L582.66,723 L583.28,724 L583.9,725 L584.53,726 L585.15,727 L585.78,728 L586.4,729 L587.03,730 L587.66,731 L588.29,732 L588.93,733 L589.56,734 L590.2,735 L590.84,736 L591.48,737 L592.13,738 L592.77,739 L593.42,740 L594.07,741 L594.72,742 L595.38,743 L596.04,744 L596.69,745 L597.35,746 L598.01,747 L598.67,748 L599.33,749 L600,750 L600.66,751 L601.32,752 L601.99,753 L602.65,754 L603.32,755 L603.98,756 L604.64,757 L605.31,758 L605.97,759 L606.64,760 L607.3,761 L607.97,762 L608.63,763 L609.3,764 L609.97,765 L610.64,766 L611.31,767 L611.98,768 L612.65,769 L613.33,770 L614,771 L614.68,772 L615.36,773 L616.05,774 L616.74,775 L617.43,776 L618.12,777 L618.81,778 L619.51,779 L620.21,780 L620.91,781 L621.61,782 L622.31,783 L623.01,784 L623.72,785 L624.42,786 L625.13,787 L625.83,788 L626.53,789 L627.24,790 L627.94,791 L628.64,792 L629.34,793 L630.03,794 L630.73,795 L631.42,796 L632.11,797 L632.8,798 L633.48,799 L634.16,800 L634.84,801 L635.52,802 L636.19,803 L636.86,804 L637.53,805 L638.19,806 L638.85,807 L639.5,808 L640.15,809 L640.8,810 L641.44,811 L642.08,812 L642.71,813 L643.34,814 L643.96,815 L644.58,816 L645.2,817 L645.81,818 L646.42,819 L647.02,820 L647.62,821 L648.21,822 L648.8,823 L649.39,824 L649.97,825 L650.55,826 L651.13,827 L651.7,828 L652.27,829 L652.84,830 L653.4,831 L653.96,832 L654.52,833 L655.08,834 L655.63,835 L656.18,836 L656.73,837 L657.27,838 L657.81,839 L658.35,840 L658.89,841 L659.43,842 L659.96,843 L660.5,844 L661.03,845 L661.56,846 L662.09,847 L662.62,848 L663.15,849 L663.68,850 L664.2,851 L664.73,852 L665.26,853 L665.79,854 L666.32,855 L666.84,856 L667.37,857 L667.9,858 L668.43,859 L668.96,860 L669.49,861 L670.02,862 L670.55,863 L671.08,864 L671.61,865 L672.14,866 L672.67,867 L673.2,868 L673.73,869 L674.25,870 L674.78,871 L675.3,872 L675.82,873 L676.34,874 L676.85,875 L677.37,876 L677.88,877 L678.39,878 L678.89,879 L679.4,880 L679.9,881 L680.39,882 L680.89,883 L681.38,884 L681.87,885 L682.36,886 L682.84,887 L683.32,888 L683.8,889 L684.27,890 L684.75,891 L685.22,892 L685.68,893 L686.15,894 L686.61,895 L687.07,896 L687.53,897 L687.99,898 L688.44,899 L688.89,900 L689.34,901 L689.79,902 L690.24,903 L690.68,904 L691.12,905 L691.57,906 L692,907 L692.44,908 L692.87,909 L693.31,910 L693.74,911 L694.16,912 L694.59,913 L695.01,914 L695.43,915 L695.84,916 L696.26,917 L696.67,918 L697.07,919 L697.47,920 L697.87,921 L698.27,922 L698.66,923 L699.05,924 L699.43,925 L699.81,926 L700.18,927 L700.55,928 L700.92,929 L701.28,930 L701.64,931 L701.99,932 L702.34,933 L702.68,934 L703.02,935 L703.36,936 L703.69,937 L704.02,938 L704.35,939 L704.67,940 L704.98,941 L705.3,942 L705.6,943 L705.91,944 L706.21,945 L706.5,946 L706.79,947 L707.08,948 L707.36,949 L707.64,950 L707.91,951 L708.18,952 L708.45,953 L708.71,954 L708.97,955 L709.22,956 L709.47,957 L709.72,958 L709.96,959 L710.2,960 L710.43,961 L710.66,962 L710.88,963 L711.1,964 L711.31,965 L711.52,966 L711.72,967 L711.91,968 L712.11,969 L712.29,970 L712.47,971 L712.64,972 L712.81,973 L712.97,974 L713.12,975 L713.27,976 L713.42,977 L713.56,978 L713.69,979 L713.82,980 L713.95,981 L714.07,982 L714.18,983 L714.29,984 L714.4,985 L714.5,986 L714.6,987 L714.7,988 L714.79,989 L714.88,990 L714.96,991 L715.04,992 L715.11,993 L715.18,994 L715.25,995 L715.32,996 L715.38,997 L715.43,998 L715.49,999 L715.54,1000 L715.59,1001 L715.63,1002 L715.68,1003 L715.72,1004 L715.76,1005 L715.79,1006 L715.83,1007 L715.86,1008 L715.89,1009 L715.92,1010 L715.95,1011 L715.97,1012 L716,1013 L716.02,1014 L716.04,1015 L716.06,1016 L716.08,1017 L716.1,1018 L716.12,1019 L716.13,1020 L716.15,1021 L716.16,1022 L716.18,1023 L716.19,1024 L716.2,1025 L716.21,1026 L716.22,1027 L716.23,1028 L716.24,1029 L716.25,1030 L716.26,1031 L716.27,1032 L716.28,1033 L716.29,1034 L716.29,1035 L716.3,1036 L716.31,1037 L716.31,1038 L716.32,1039 L716.33,1040 L716.33,1041 L716.34,1042 L716.34,1043 L716.35,1044 L716.35,1045 L716.36,1046 L716.36,1047 L716.37,1048 L716.37,1049 L716.37,1050 L716.38,1051 L716.38,1052 L716.38,1053 L716.38,1054 L716.39,1055 L716.39,1056 L716.39,1057 L716.39,1058 L716.39,1059 L716.39,1060 L716.4,1061 L716.4,1062 L716.4,1063 L716.4,1064 L716.4,1065 L716.4,1066 L716.4,1067 L716.4,1068 L716.4,1069 L716.4,1070 L716.4,1071 L716.4,1072 L716.4,1073 L716.4,1074 L716.4,1075 L716.4,1076 L716.4,1077 L716.4,1078 L716.4,1079 L716.4,1080 L716.4,1081 L716.4,1082 L716.4,1083 L716.4,1084 L716.4,1085 L716.4,1086 L716.4,1087 L716.4,1088 L716.4,1089 L716.4,1090 L716.4,1091 L716.4,1092 L716.4,1093 L716.4,1094 L716.4,1095 L716.4,1096 L716.4,1097 L716.4,1098 L716.4,1099 L716.4,1100 L716.4,1101 L716.4,1102 L716.4,1103 L716.4,1104 L716.4,1105 L716.4,1106 L716.4,1107 L716.4,1108 L716.4,1109 L716.4,1110 L716.4,1111 L716.4,1112 L716.4,1113 L716.4,1114 L716.4,1115 L716.4,1116 L716.4,1117 L716.4,1118 L716.4,1119 L716.4,1120 L716.4,1121 L716.4,1122 L716.4,1123 L716.4,1124 L716.4,1125 L716.4,1126 L716.4,1127 L716.4,1128 L716.4,1129 L716.4,1130 L716.4,1131 L716.4,1132 L716.4,1133 L716.4,1134 L716.4,1135 L716.4,1136 L716.4,1137 L716.4,1138 L716.4,1139 L716.4,1140 L716.4,1141 L716.4,1142 L716.4,1143 L716.4,1144 L716.4,1145 L716.4,1146 L716.4,1147 L716.4,1148 L716.4,1149 L716.4,1150 L716.4,1151 L716.4,1152 L716.4,1153 L716.4,1154 L716.4,1155 L716.4,1156 L716.4,1157 L716.4,1158 L716.4,1159 L716.4,1160 L716.4,1161 L716.4,1162 L716.4,1163 L716.4,1164 L716.4,1165 L716.4,1166 L716.4,1167 L716.4,1168 L716.4,1169 L716.4,1170 L716.4,1171 L716.4,1172 L716.4,1173 L716.4,1174 L716.4,1175 L716.4,1176 L716.4,1177 L716.4,1178 L716.4,1179 L716.4,1180 L716.4,1181 L716.4,1182 L716.4,1183 L716.4,1184 L716.4,1185 L716.4,1186 L716.4,1187 L716.4,1188 L716.4,1189 L716.4,1190 L716.4,1191 L716.4,1192 L716.4,1193 L716.4,1194 L716.4,1195 L716.4,1196 L716.4,1197 L716.4,1198 L716.4,1199 L716.4,1200 L716.4,1201 L716.4,1202 L716.4,1203 L716.4,1204 L716.4,1205 L716.4,1206 L716.4,1207 L716.4,1208 L716.4,1209 L716.4,1210 L716.4,1211 L716.4,1212 L716.4,1213 L716.4,1214 L716.4,1215 L716.4,1216 L716.4,1217 L716.4,1218 L716.4,1219 L716.4,1220 L716.4,1221 L716.4,1222 L716.4,1223 L716.4,1224 L716.4,1225 L716.4,1226 L716.4,1227 L716.4,1228 L716.4,1229 L716.4,1230 L716.4,1231 L716.4,1232 L716.4,1233 L716.4,1234 L716.4,1235 L716.4,1236 L716.4,1237 L716.4,1238 L716.4,1239 L716.4,1240 L716.4,1241 L716.4,1242 L716.4,1243 L716.4,1244 L716.4,1245 L716.4,1246 L716.4,1247 L716.4,1248 L716.4,1249 L716.4,1250 L716.4,1251 L716.4,1252 L716.4,1253 L716.4,1254 L716.4,1255 L716.4,1256 L716.4,1257 L716.4,1258 L716.4,1259 L716.4,1260 L716.4,1261 L716.4,1262 L716.4,1263 L716.4,1264 L716.4,1265 L716.4,1266 L716.4,1267 L716.4,1268 L716.4,1269 L716.4,1270 L716.4,1271 L716.4,1272 L716.4,1273 L716.4,1274 L716.4,1275 L716.4,1276 L716.4,1277 L716.4,1278 L716.4,1279 L716.4,1280 L716.4,1281 L716.4,1282 L716.4,1283 L716.4,1284 L716.4,1285 L716.4,1286 L716.4,1287 L716.4,1288 L716.4,1289 L716.4,1290 L716.4,1291 L716.4,1292 L716.4,1293 L716.4,1294 L716.4,1295 L716.4,1296 L716.4,1297 L716.4,1298 L716.4,1299 L716.4,1300 L716.4,1301 L716.4,1302 L716.4,1303 L716.4,1304 L716.4,1305 L716.4,1306 L716.4,1307 L716.4,1308 L716.4,1309 L716.4,1310 L716.4,1311 L716.4,1312 L716.4,1313 L716.4,1314 L716.4,1315 L716.4,1316 L716.4,1317 L716.4,1318 L716.4,1319 L716.4,1320 L716.4,1321 L716.4,1322 L716.4,1323 L716.4,1324 L716.4,1325 L716.4,1326 L716.4,1327 L716.4,1328 L716.4,1329 L716.4,1330 L716.4,1331 L716.4,1332 L716.4,1333 L716.4,1334 L716.4,1335 L716.4,1336 L716.4,1337 L716.4,1338 L716.4,1339 L716.4,1340 L716.4,1341 L716.4,1342 L716.4,1343 L716.4,1344 L716.4,1345 L716.4,1346 L716.4,1347 L716.4,1348 L716.4,1349 L716.4,1350 L716.4,1351 L716.4,1352 L716.4,1353 L716.4,1354 L716.4,1355 L716.4,1356 L716.4,1357 L716.4,1358 L716.4,1359 L716.4,1360 L716.4,1361 L716.4,1362 L716.4,1363 L716.4,1364 L716.4,1365 L716.4,1366 L716.4,1367 L716.4,1368 L716.4,1369 L716.4,1370 L716.4,1371 L716.4,1372 L716.4,1373 L716.4,1374 L716.4,1375 L716.4,1376 L716.4,1377 L716.4,1378 L716.4,1379 L716.4,1380 L716.4,1381 L716.4,1382 L716.4,1383 L716.4,1384 L716.4,1385 L716.4,1386 L716.4,1387 L716.4,1388 L716.4,1389 L716.4,1390 L716.4,1391 L716.4,1392 L716.4,1393 L716.4,1394 L716.4,1395 L716.4,1396 L716.4,1397 L716.4,1398 L716.4,1399 L716.4,1400 L716.4,1401 L716.4,1402 L716.4,1403 L716.4,1404 L716.4,1405 L716.4,1406 L716.4,1407 L716.4,1408 L716.4,1409 L716.4,1410 L716.4,1411 L716.4,1412 L716.4,1413 L716.4,1414 L716.4,1415 L716.4,1416 L716.4,1417 L716.4,1418 L716.4,1419 L716.4,1420 L716.4,1421 L716.4,1422 L716.4,1423 L716.4,1424 L716.4,1425 L716.4,1426 L716.4,1427 L716.4,1428 L716.4,1429 L716.4,1430 L716.4,1431 L716.4,1432 L716.4,1433 L716.4,1434 L716.4,1435 L716.4,1436 L716.4,1437 L716.4,1438 L716.4,1439 L716.4,1440 L716.4,1441 L716.4,1442 L716.4,1443 L716.4,1444 L716.4,1445 L716.4,1446 L716.4,1447 L716.4,1448 L716.4,1449 L716.4,1450 L716.4,1451 L716.4,1452 L716.4,1453 L716.4,1454 L716.4,1455 L716.4,1456 L716.4,1457 L716.4,1458 L716.4,1459 L716.4,1460 L716.4,1461 L716.4,1462 L716.4,1463 L716.4,1464 L716.4,1465 L716.4,1466 L716.4,1467 L716.4,1468 L716.4,1469 L716.4,1470 L716.4,1471 L716.4,1472 L716.4,1473 L716.4,1474 L716.4,1475 L716.4,1476 L716.4,1477 L716.4,1478 L716.4,1479 L716.4,1480 L716.4,1481 L716.4,1482 L716.4,1483 L716.4,1484 L716.4,1485 L716.4,1486 L716.4,1487 L716.4,1488 L716.4,1489 L716.4,1490 L716.4,1491 L716.4,1492 L716.4,1493 L716.4,1494 L716.4,1495 L716.4,1496 L716.4,1497 L716.4,1498 L716.4,1499 L716.4,1500 L716.4,1501 L716.4,1502 L716.4,1503 L716.4,1504 L716.4,1505 L716.4,1506 L716.4,1507 L716.4,1508 L716.4,1509 L716.4,1510 L716.4,1511 L716.4,1512 L716.4,1513 L716.4,1514 L716.4,1515 L716.4,1516 L716.4,1517 L716.4,1518 L716.4,1519 L716.4,1520 L716.4,1521 L716.4,1522 L716.4,1523 L716.4,1524 L716.4,1525 L716.4,1526 L716.4,1527 L716.4,1528 L716.4,1529 L716.4,1530 L716.4,1531 L716.4,1532 L716.4,1533 L716.4,1534 L716.4,1535 L716.4,1536 L716.4,1537 L716.4,1538 L716.4,1539 L716.4,1540 L716.4,1541 L716.4,1542 L716.4,1543 L716.4,1544 L716.4,1545 L716.4,1546 L716.4,1547 L716.4,1548 L716.4,1549 L716.4,1550 L716.4,1551 L716.4,1552 L716.4,1553 L716.4,1554 L716.4,1555 L716.4,1556 L716.4,1557 L716.4,1558 L716.4,1559 L716.4,1560 L716.4,1561 L716.4,1562 L716.4,1563 L716.4,1564 L716.4,1565 L716.4,1566 L716.4,1567 L716.4,1568 L716.4,1569 L716.4,1570 L716.4,1571 L716.4,1572 L716.4,1573 L716.4,1574 L716.4,1575 L716.4,1576 L716.4,1577 L716.4,1578 L716.4,1579 L716.4,1580 L716.4,1581 L716.4,1582 L716.4,1583 L716.4,1584 L716.4,1585 L716.4,1586 L716.4,1587 L716.4,1588 L716.4,1589 L716.4,1590 L716.4,1591 L716.4,1592 L716.4,1593 L716.4,1594 L716.4,1595 L716.4,1596 L716.4,1597 L716.4,1598 L716.4,1599 L716.4,1600 L716.4,1601 L716.4,1602 L716.4,1603 L716.4,1604 L716.4,1605 L716.4,1606 L716.4,1607 L716.4,1608 L716.4,1609 L716.4,1610 L716.4,1611 L716.4,1612 L716.4,1613 L716.4,1614 L716.4,1615 L716.4,1616 L716.4,1617 L716.4,1618 L716.4,1619 L716.4,1620 L716.4,1621 L716.4,1622 L716.4,1623 L716.4,1624 L716.4,1625 L716.4,1626 L716.4,1627 L716.4,1628 L716.4,1629 L716.4,1630 L716.4,1631 L716.4,1632 L716.4,1633 L716.4,1634 L716.4,1635 L716.4,1636 L716.4,1637 L716.4,1638 L716.4,1639 L716.4,1640 L716.4,1641 L716.4,1642 L716.4,1643 L716.4,1644 L716.4,1645 L716.4,1646 L716.4,1647 L716.4,1648 L716.4,1649 L716.4,1650 L716.4,1651 L716.4,1652 L716.4,1653 L716.4,1654 L716.4,1655 L716.4,1656 L716.4,1657 L716.4,1658 L716.4,1659 L716.4,1660 L716.4,1661 L716.4,1662 L716.4,1663 L716.4,1664 L716.4,1665 L716.4,1666 L716.4,1667 L716.4,1668 L716.4,1669 L716.4,1670 L716.4,1671 L716.4,1672 L716.4,1673 L716.4,1674 L716.4,1675 L716.4,1676 L716.4,1677 L716.4,1678 L716.4,1679 L716.4,1680 L716.4,1681 L716.4,1682 L716.4,1683 L716.4,1684 L716.4,1685 L716.4,1686 L716.4,1687 L716.4,1688 L716.4,1689 L716.4,1690 L716.4,1691 L716.4,1692 L716.4,1693 L716.4,1694 L716.4,1695 L716.4,1696 L716.4,1697 L716.4,1698 L716.4,1699 L716.4,1700 L716.4,1701 L716.4,1702 L716.4,1703 L716.4,1704 L716.4,1705 L716.4,1706 L716.4,1707 L716.4,1708 L716.4,1709 L716.4,1710 L716.4,1711 L716.4,1712 L716.4,1713 L716.4,1714 L716.4,1715 L716.4,1716 L716.4,1717 L716.4,1718 L716.4,1719 L716.4,1720 L716.4,1721 L716.4,1722 L716.4,1723 L716.4,1724 L716.4,1725 L716.4,1726 L716.4,1727 L716.4,1728 L716.4,1729 L716.4,1730 L716.4,1731 L716.4,1732 L716.4,1733 L716.4,1734 L716.4,1735 L716.4,1736 L716.4,1737 L716.4,1738 L716.4,1739 L716.4,1740 L716.4,1741 L716.4,1742 L716.4,1743 L716.4,1744 L716.4,1745 L716.4,1746 L716.4,1747 L716.4,1748 L716.4,1749 L716.4,1750 L716.4,1751 L716.4,1752 L716.4,1753 L716.4,1754 L716.4,1755 L716.4,1756 L716.4,1757 L716.4,1758 L716.4,1759 L716.4,1760 L716.4,1761 L716.4,1762 L716.4,1763 L716.4,1764 L716.4,1765 L716.4,1766 L716.4,1767 L716.4,1768 L716.4,1769 L716.4,1770 L716.4,1771 L716.4,1772 L716.4,1773 L716.4,1774 L716.4,1775 L716.4,1776 L716.4,1777 L716.4,1778 L716.4,1779 L716.4,1780 L716.4,1781 L716.4,1782 L716.4,1783 L716.4,1784 L716.4,1785 L716.4,1786 L716.4,1787 L716.4,1788 L716.4,1789 L716.4,1790 L716.4,1791 L716.4,1792 L716.4,1793 L716.4,1794 L716.4,1795 L716.4,1796 L716.4,1797 L716.4,1798 L716.4,1799 L716.4,1800 L716.4,1801 L716.4,1802 L716.4,1803 L716.4,1804 L716.4,1805 L716.4,1806 L716.4,1807 L716.4,1808 L716.4,1809 L716.4,1810 L716.4,1811 L716.4,1812 L716.4,1813 L716.4,1814 L716.4,1815 L716.4,1816 L716.4,1817 L716.4,1818 L716.4,1819 L716.4,1820 L716.4,1821 L716.4,1822 L716.4,1823 L716.4,1824 L716.4,1825 L716.4,1826 L716.4,1827 L716.4,1828 L716.4,1829 L716.4,1830 L716.4,1831 L716.4,1832 L716.4,1833 L716.4,1834 L716.4,1835 L716.4,1836 L716.4,1837 L716.4,1838 L716.4,1839 L716.4,1840 L716.4,1841 L716.4,1842 L716.4,1843 L716.4,1844 L716.4,1845 L716.4,1846 L716.4,1847 L716.4,1848 L716.4,1849 L716.4,1850 L716.4,1851 L716.4,1852 L716.4,1853 L716.4,1854 L716.4,1854.2 Z" fill="#3a73b5"/>
<path d="M299.6,1854.2 L299.6,1854 L299.6,1853 L299.6,1852 L299.6,1851 L299.6,1850 L299.6,1849 L299.6,1848 L299.6,1847 L299.6,1846 L299.6,1845 L299.6,1844 L299.6,1843 L299.6,1842 L299.6,1841 L299.6,1840 L299.6,1839 L299.6,1838 L299.6,1837 L299.6,1836 L299.6,1835 L299.6,1834 L299.6,1833 L299.6,1832 L299.6,1831 L299.6,1830 L299.6,1829 L299.6,1828 L299.6,1827 L299.6,1826 L299.6,1825 L299.6,1824 L299.6,1823 L299.6,1822 L299.6,1821 L299.6,1820 L299.6,1819 L299.6,1818 L299.6,1817 L299.6,1816 L299.6,1815 L299.6,1814 L299.6,1813 L299.6,1812 L299.6,1811 L299.6,1810 L299.6,1809 L299.6,1808 L299.6,1807 L299.6,1806 L299.6,1805 L299.6,1804 L299.6,1803 L299.6,1802 L299.6,1801 L299.6,1800 L299.6,1799 L299.6,1798 L299.6,1797 L299.6,1796 L299.6,1795 L299.6,1794 L299.6,1793 L299.6,1792 L299.6,1791 L299.6,1790 L299.6,1789 L299.6,1788 L299.6,1787 L299.6,1786 L299.6,1785 L299.6,1784 L299.6,1783 L299.6,1782 L299.6,1781 L299.6,1780 L299.6,1779 L299.6,1778 L299.6,1777 L299.6,1776 L299.6,1775 L299.6,1774 L299.6,1773 L299.6,1772 L299.6,1771 L299.6,1770 L299.6,1769 L299.6,1768 L299.6,1767 L299.6,1766 L299.6,1765 L299.6,1764 L299.6,1763 L299.6,1762 L299.6,1761 L299.6,1760 L299.6,1759 L299.6,1758 L299.6,1757 L299.6,1756 L299.6,1755 L299.6,1754 L299.6,1753 L299.6,1752 L299.6,1751 L299.6,1750 L299.6,1749 L299.6,1748 L299.6,1747 L299.6,1746 L299.6,1745 L299.6,1744 L299.6,1743 L299.6,1742 L299.6,1741 L299.6,1740 L299.6,1739 L299.6,1738 L299.6,1737 L299.6,1736 L299.6,1735 L299.6,1734 L299.6,1733 L299.6,1732 L299.6,1731 L299.6,1730 L299.6,1729 L299.6,1728 L299.6,1727 L299.6,1726 L299.6,1725 L299.6,1724 L299.6,1723 L299.6,1722 L299.6,1721 L299.6,1720 L299.6,1719 L299.6,1718 L299.6,1717 L299.6,1716 L299.6,1715 L299.6,1714 L299.6,1713 L299.6,1712 L299.6,1711 L299.6,1710 L299.6,1709 L299.6,1708 L299.6,1707 L299.6,1706 L299.6,1705 L299.6,1704 L299.6,1703 L299.6,1702 L299.6,1701 L299.6,1700 L299.6,1699 L299.6,1698 L299.6,1697 L299.6,1696 L299.6,1695 L299.6,1694 L299.6,1693 L299.6,1692 L299.6,1691 L299.6,1690 L299.6,1689 L299.6,1688 L299.6,1687 L299.6,1686 L299.6,1685 L299.6,1684 L299.6,1683 L299.6,1682 L299.6,1681 L299.6,1680 L299.6,1679 L299.6,1678 L299.6,1677 L299.6,1676 L299.6,1675 L299.6,1674 L299.6,1673 L299.6,1672 L299.6,1671 L299.6,1670 L299.6,1669 L299.6,1668 L299.6,1667 L299.6,1666 L299.6,1665 L299.6,1664 L299.6,1663 L299.6,1662 L299.6,1661 L299.6,1660 L299.6,1659 L299.6,1658 L299.6,1657 L299.6,1656 L299.6,1655 L299.6,1654 L299.6,1653 L299.6,1652 L299.6,1651 L299.6,1650 L299.6,1649 L299.6,1648 L299.6,1647 L299.6,1646 L299.6,1645 L299.6,1644 L299.6,1643 L299.6,1642 L299.6,1641 L299.6,1640 L299.6,1639 L299.6,1638 L299.6,1637 L299.6,1636 L299.6,1635 L299.6,1634 L299.6,1633 L299.6,1632 L299.6,1631 L299.6,1630 L299.6,1629 L299.6,1628 L299.6,1627 L299.6,1626 L299.6,1625 L299.6,1624 L299.6,1623 L299.6,1622 L299.6,1621 L299.6,1620 L299.6,1619 L299.6,1618 L299.6,1617 L299.6,1616 L299.6,1615 L299.6,1614 L299.6,1613 L299.6,1612 L299.6,1611 L299.6,1610 L299.6,1609 L299.6,1608 L299.6,1607 L299.6,1606 L299.6,1605 L299.6,1604 L299.6,1603 L299.6,1602 L299.6,1601 L299.6,1600 L299.6,1599 L299.6,1598 L299.6,1597 L299.6,1596 L299.6,1595 L299.6,1594 L299.6,1593 L299.6,1592 L299.6,1591 L299.6,1590 L299.6,1589 L299.6,1588 L299.6,1587 L299.6,1586 L299.6,1585 L299.6,1584 L299.6,1583 L299.6,1582 L299.6,1581 L299.6,1580 L299.6,1579 L299.6,1578 L299.6,1577 L299.6,1576 L299.6,1575 L299.6,1574 L299.6,1573 L299.6,1572 L299.6,1571 L299.6,1570 L299.6,1569 L299.6,1568 L299.6,1567 L299.6,1566 L299.6,1565 L299.6,1564 L299.6,1563 L299.6,1562 L299.6,1561 L299.6,1560 L299.6,1559 L299.6,1558 L299.6,1557 L299.6,1556 L299.6,1555 L299.6,1554 L299.6,1553 L299.6,1552 L299.6,1551 L299.6,1550 L299.6,1549 L299.6,1548 L299.6,1547 L299.6,1546 L299.6,1545 L299.6,1544 L299.6,1543 L299.6,1542 L299.6,1541 L299.6,1540 L299.6,1539 L299.6,1538 L299.6,1537 L299.6,1536 L299.6,1535 L299.6,1534 L299.6,1533 L299.6,1532 L299.6,1531 L299.6,1530 L299.6,1529 L299.6,1528 L299.6,1527 L299.6,1526 L299.6,1525 L299.6,1524 L299.6,1523 L299.6,1522 L299.6,1521 L299.6,1520 L299.6,1519 L299.6,1518 L299.6,1517 L299.6,1516 L299.6,1515 L299.6,1514 L299.6,1513 L299.6,1512 L299.6,1511 L299.6,1510 L299.6,1509 L299.6,1508 L299.6,1507 L299.6,1506 L299.6,1505 L299.6,1504 L299.6,1503 L299.6,1502 L299.6,1501 L299.6,1500 L299.6,1499 L299.6,1498 L299.6,1497 L299.6,1496 L299.6,1495 L299.6,1494 L299.6,1493 L299.6,1492 L299.6,1491 L299.6,1490 L299.6,1489 L299.6,1488 L299.6,1487 L299.6,1486 L299.6,1485 L299.6,1484 L299.6,1483 L299.6,1482 L299.6,1481 L299.6,1480 L299.6,1479 L299.6,1478 L299.6,1477 L299.6,1476 L299.6,1475 L299.6,1474 L299.6,1473 L299.6,1472 L299.6,1471 L299.6,1470 L299.6,1469 L299.6,1468 L299.6,1467 L299.6,1466 L299.6,1465 L299.6,1464 L299.6,1463 L299.6,1462 L299.6,1461 L299.6,1460 L299.6,1459 L299.6,1458 L299.6,1457 L299.6,1456 L299.6,1455 L299.6,1454 L299.6,1453 L299.6,1452 L299.6,1451 L299.6,1450 L299.6,1449 L299.6,1448 L299.6,1447 L299.6,1446 L299.6,1445 L299.6,1444 L299.6,1443 L299.6,1442 L299.6,1441 L299.6,1440 L299.6,1439 L299.6,1438 L299.6,1437 L299.6,1436 L299.6,1435 L299.6,1434 L299.6,1433 L299.6,1432 L299.6,1431 L299.6,1430 L299.6,1429 L299.6,1428 L299.6,1427 L299.6,1426 L299.6,1425 L299.6,1424 L299.6,1423 L299.6,1422 L299.6,1421 L299.6,1420 L299.6,1419 L299.6,1418 L299.6,1417 L299.6,1416 L299.6,1415 L299.6,1414 L299.6,1413 L299.6,1412 L299.6,1411 L299.6,1410 L299.6,1409 L299.6,1408 L299.6,1407 L299.6,1406 L299.6,1405 L299.6,1404 L299.6,1403 L299.6,1402 L299.6,1401 L299.6,1400 L299.6,1399 L299.6,1398 L299.6,1397 L299.6,1396 L299.6,1395 L299.6,1394 L299.6,1393 L299.6,1392 L299.6,1391 L299.6,1390 L299.6,1389 L299.6,1388 L299.6,1387 L299.6,1386 L299.6,1385 L299.6,1384 L299.6,1383 L299.6,1382 L299.6,1381 L299.6,1380 L299.6,1379 L299.6,1378 L299.6,1377 L299.6,1376 L299.6,1375 L299.6,1374 L299.6,1373 L299.6,1372 L299.6,1371 L299.6,1370 L299.6,1369 L299.6,1368 L299.6,1367 L299.6,1366 L299.6,1365 L299.6,1364 L299.6,1363 L299.6,1362 L299.6,1361 L299.6,1360 L299.6,1359 L299.6,1358 L299.6,1357 L299.6,1356 L299.6,1355 L299.6,1354 L299.6,1353 L299.6,1352 L299.6,1351 L299.6,1350 L299.6,1349 L299.6,1348 L299.6,1347 L299.6,1346 L299.6,1345 L299.6,1344 L299.6,1343 L299.6,1342 L299.6,1341 L299.6,1340 L299.6,1339 L299.6,1338 L299.6,1337 L299.6,1336 L299.6,1335 L299.6,1334 L299.6,1333 L299.6,1332 L299.6,1331 L299.6,1330 L299.6,1329 L299.6,1328 L299.6,1327 L299.6,1326 L299.6,1325 L299.6,1324 L299.6,1323 L299.6,1322 L299.6,1321 L299.6,1320 L299.6,1319 L299.6,1318 L299.6,1317 L299.6,1316 L299.6,1315 L299.6,1314 L299.6,1313 L299.6,1312 L299.6,1311 L299.6,1310 L299.6,1309 L299.6,1308 L299.6,1307 L299.6,1306 L299.6,1305 L299.6,1304 L299.6,1303 L299.6,1302 L299.6,1301 L299.6,1300 L299.6,1299 L299.6,1298 L299.6,1297 L299.6,1296 L299.6,1295 L299.6,1294 L299.6,1293 L299.6,1292 L299.6,1291 L299.6,1290 L299.6,1289 L299.6,1288 L299.6,1287 L299.6,1286 L299.6,1285 L299.6,1284 L299.6,1283 L299.6,1282 L299.6,1281 L299.6,1280 L299.6,1279 L299.6,1278 L299.6,1277 L299.6,1276 L299.6,1275 L299.6,1274 L299.6,1273 L299.6,1272 L299.6,1271 L299.6,1270 L299.6,1269 L299.6,1268 L299.6,1267 L299.6,1266 L299.6,1265 L299.6,1264 L299.6,1263 L299.6,1262 L299.6,1261 L299.6,1260 L299.6,1259 L299.6,1258 L299.6,1257 L299.6,1256 L299.6,1255 L299.6,1254 L299.6,1253 L299.6,1252 L299.6,1251 L299.6,1250 L299.6,1249 L299.6,1248 L299.6,1247 L299.6,1246 L299.6,1245 L299.6,1244 L299.6,1243 L299.6,1242 L299.6,1241 L299.6,1240 L299.6,1239 L299.6,1238 L299.6,1237 L299.6,1236 L299.6,1235 L299.6,1234 L299.6,1233 L299.6,1232 L299.6,1231 L299.6,1230 L299.6,1229 L299.6,1228 L299.6,1227 L299.6,1226 L299.6,1225 L299.6,1224 L299.6,1223 L299.6,1222 L299.6,1221 L299.6,1220 L299.6,1219 L299.6,1218 L299.6,1217 L299.6,1216 L299.6,1215 L299.6,1214 L299.6,1213 L299.6,1212 L299.6,1211 L299.6,1210 L299.6,1209 L299.6,1208 L299.6,1207 L299.6,1206 L299.6,1205 L299.6,1204 L299.6,1203 L299.6,1202 L299.6,1201 L299.6,1200 L299.6,1199 L299.6,1198 L299.6,1197 L299.6,1196 L299.6,1195 L299.6,1194 L299.6,1193 L299.6,1192 L299.6,1191 L299.6,1190 L299.6,1189 L299.6,1188 L299.6,1187 L299.6,1186 L299.6,1185 L299.6,1184 L299.6,1183 L299.6,1182 L299.6,1181 L299.6,1180 L299.6,1179 L299.6,1178 L299.6,1177 L299.6,1176 L299.6,1175 L299.6,1174 L299.6,1173 L299.6,1172 L299.6,1171 L299.6,1170 L299.6,1169 L299.6,1168 L299.6,1167 L299.6,1166 L299.6,1165 L299.6,1164 L299.6,1163 L299.6,1162 L299.6,1161 L299.6,1160 L299.6,1159 L299.6,1158 L299.6,1157 L299.6,1156 L299.6,1155 L299.6,1154 L299.6,1153 L299.6,1152 L299.6,1151 L299.6,1150 L299.6,1149 L299.6,1148 L299.6,1147 L299.6,1146 L299.6,1145 L299.6,1144 L299.6,1143 L299.6,1142 L299.6,1141 L299.6,1140 L299.6,1139 L299.6,1138 L299.6,1137 L299.6,1136 L299.6,1135 L299.6,1134 L299.6,1133 L299.6,1132 L299.6,1131 L299.6,1130 L299.6,1129 L299.6,1128 L299.6,1127 L299.6,1126 L299.6,1125 L299.6,1124 L299.6,1123 L299.6,1122 L299.6,1121 L299.6,1120 L299.6,1119 L299.6,1118 L299.6,1117 L299.6,1116 L299.6,1115 L299.6,1114 L299.6,1113 L299.6,1112 L299.6,1111 L299.6,1110 L299.6,1109 L299.6,1108 L299.6,1107 L299.6,1106 L299.6,1105 L299.6,1104 L299.6,1103 L299.6,1102 L299.6,1101 L299.6,1100 L299.6,1099 L299.6,1098 L299.6,1097 L299.6,1096 L299.6,1095 L299.6,1094 L299.6,1093 L299.6,1092 L299.6,1091 L299.6,1090 L299.6,1089 L299.6,1088 L299.6,1087 L299.6,1086 L299.6,1085 L299.6,1084 L299.6,1083 L299.6,1082 L299.6,1081 L299.6,1080 L299.6,1079 L299.6,1078 L299.6,1077 L299.6,1076 L299.6,1075 L299.6,1074 L299.6,1073 L299.6,1072 L299.6,1071 L299.6,1070 L299.6,1069 L299.6,1068 L299.6,1067 L299.6,1066 L299.6,1065 L299.6,1064 L299.6,1063 L299.6,1062 L299.6,1061 L299.61,1060 L299.61,1059 L299.61,1058 L299.61,1057 L299.61,1056 L299.61,1055 L299.62,1054 L299.62,1053 L299.62,1052 L299.62,1051 L299.63,1050 L299.63,1049 L299.63,1048 L299.64,1047 L299.64,1046 L299.65,1045 L299.65,1044 L299.66,1043 L299.66,1042 L299.67,1041 L299.67,1040 L299.68,1039 L299.69,1038 L299.69,1037 L299.7,1036 L299.71,1035 L299.71,1034 L299.72,1033 L299.73,1032 L299.74,1031 L299.75,1030 L299.76,1029 L299.77,1028 L299.78,1027 L299.79,1026 L299.8,1025 L299.81,1024 L299.82,1023 L299.84,1022 L299.85,1021 L299.87,1020 L299.88,1019 L299.9,1018 L299.92,1017 L299.94,1016 L299.96,1015 L299.98,1014 L300,1013 L300.03,1012 L300.05,1011 L300.08,1010 L300.11,1009 L300.14,1008 L300.17,1007 L300.21,1006 L300.24,1005 L300.28,1004 L300.32,1003 L300.37,1002 L300.41,1001 L300.46,1000 L300.51,999 L300.57,998 L300.62,997 L300.68,996 L300.75,995 L300.82,994 L300.89,993 L300.96,992 L301.04,991 L301.12,990 L301.21,989 L301.3,988 L301.4,987 L301.5,986 L301.6,985 L301.71,984 L301.82,983 L301.93,982 L302.05,981 L302.18,980 L302.31,979 L302.44,978 L302.58,977 L302.73,976 L302.88,975 L303.03,974 L303.19,973 L303.36,972 L303.53,971 L303.71,970 L303.89,969 L304.09,968 L304.28,967 L304.48,966 L304.69,965 L304.9,964 L305.12,963 L305.34,962 L305.57,961 L305.8,960 L306.04,959 L306.28,958 L306.53,957 L306.78,956 L307.03,955 L307.29,954 L307.55,953 L307.82,952 L308.09,951 L308.36,950 L308.64,949 L308.92,948 L309.21,947 L309.5,946 L309.79,945 L310.09,944 L310.4,943 L310.7,942 L311.02,941 L311.33,940 L311.65,939 L311.98,938 L312.31,937 L312.64,936 L312.98,935 L313.32,934 L313.66,933 L314.01,932 L314.36,931 L314.72,930 L315.08,929 L315.45,928 L315.82,927 L316.19,926 L316.57,925 L316.95,924 L317.34,923 L317.73,922 L318.13,921 L318.53,920 L318.93,919 L319.33,918 L319.74,917 L320.16,916 L320.57,915 L320.99,914 L321.41,913 L321.84,912 L322.26,911 L322.69,910 L323.13,909 L323.56,908 L324,907 L324.43,906 L324.88,905 L325.32,904 L325.76,903 L326.21,902 L326.66,901 L327.11,900 L327.56,899 L328.01,898 L328.47,897 L328.93,896 L329.39,895 L329.85,894 L330.32,893 L330.78,892 L331.25,891 L331.73,890 L332.2,889 L332.68,888 L333.16,887 L333.64,886 L334.13,885 L334.62,884 L335.11,883 L335.61,882 L336.1,881 L336.6,880 L337.11,879 L337.61,878 L338.12,877 L338.63,876 L339.15,875 L339.66,874 L340.18,873 L340.7,872 L341.22,871 L341.75,870 L342.27,869 L342.8,868 L343.33,867 L343.86,866 L344.39,865 L344.92,864 L345.45,863 L345.98,862 L346.51,861 L347.04,860 L347.57,859 L348.1,858 L348.63,857 L349.16,856 L349.68,855 L350.21,854 L350.74,853 L351.27,852 L351.8,851 L352.32,850 L352.85,849 L353.38,848 L353.91,847 L354.44,846 L354.97,845 L355.5,844 L356.04,843 L356.57,842 L357.11,841 L357.65,840 L358.19,839 L358.73,838 L359.27,837 L359.82,836 L360.37,835 L360.92,834 L361.48,833 L362.04,832 L362.6,831 L363.16,830 L363.73,829 L364.3,828 L364.87,827 L365.45,826 L366.03,825 L366.61,824 L367.2,823 L367.79,822 L368.38,821 L368.98,820 L369.58,819 L370.19,818 L370.8,817 L371.42,816 L372.04,815 L372.66,814 L373.29,813 L373.92,812 L374.56,811 L375.2,810 L375.85,809 L376.5,808 L377.15,807 L377.81,806 L378.47,805 L379.14,804 L379.81,803 L380.48,802 L381.16,801 L381.84,800 L382.52,799 L383.2,798 L383.89,797 L384.58,796 L385.27,795 L385.97,794 L386.66,793 L387.36,792 L388.06,791 L388.76,790 L389.47,789 L390.17,788 L390.87,787 L391.58,786 L392.28,785 L392.99,784 L393.69,783 L394.39,782 L395.09,781 L395.79,780 L396.49,779 L397.19,778 L397.88,777 L398.57,776 L399.26,775 L399.95,774 L400.64,773 L401.32,772 L402,771 L402.67,770 L403.35,769 L404.02,768 L404.69,767 L405.36,766 L406.03,765 L406.7,764 L407.37,763 L408.03,762 L408.7,761 L409.36,760 L410.03,759 L410.69,758 L411.36,757 L412.02,756 L412.68,755 L413.35,754 L414.01,753 L414.68,752 L415.34,751 L416,750 L416.67,749 L417.33,748 L417.99,747 L418.65,746 L419.31,745 L419.96,744 L420.62,743 L421.28,742 L421.93,741 L422.58,740 L423.23,739 L423.87,738 L424.52,737 L425.16,736 L425.8,735 L426.44,734 L427.07,733 L427.71,732 L428.34,731 L428.97,730 L429.6,729 L430.22,728 L430.85,727 L431.47,726 L432.1,725 L432.72,724 L433.34,723 L433.96,722 L434.58,721 L435.2,720 L435.82,719 L436.43,718 L437.05,717 L437.67,716 L438.29,715 L438.9,714 L439.52,713 L440.13,712 L440.75,711 L441.36,710 L441.97,709 L442.59,708 L443.2,707 L443.81,706 L444.42,705 L445.02,704 L445.63,703 L446.23,702 L446.83,701 L447.43,700 L448.03,699 L448.63,698 L449.22,697 L449.82,696 L450.41,695 L450.99,694 L451.58,693 L452.16,692 L452.75,691 L453.33,690 L453.9,689 L454.48,688 L455.05,687 L455.63,686 L456.2,685 L456.76,684 L457.33,683 L457.89,682 L458.46,681 L459.02,680 L459.57,679 L460.13,678 L460.68,677 L461.24,676 L461.79,675 L462.33,674 L462.88,673 L463.42,672 L463.96,671 L464.5,670 L465.04,669 L465.57,668 L466.1,667 L466.63,666 L467.15,665 L467.67,664 L468.19,663 L468.71,662 L469.22,661 L469.73,660 L470.23,659 L470.73,658 L471.23,657 L471.73,656 L472.22,655 L472.71,654 L473.2,653 L473.69,652 L474.18,651 L474.66,650 L475.14,649 L475.62,648 L476.1,647 L476.58,646 L477.06,645 L477.54,644 L478.01,643 L478.49,642 L478.97,641 L479.45,640 L479.92,639 L480.4,638 L480.88,637 L481.35,636 L481.83,635 L482.3,634 L482.77,633 L483.24,632 L483.71,631 L484.17,630 L484.63,629 L485.08,628 L485.53,627 L485.97,626 L486.41,625 L486.84,624 L487.27,623 L487.69,622 L488.11,621 L488.52,620 L488.92,619 L489.32,618 L489.71,617 L490.09,616 L490.47,615 L490.84,614 L491.21,613 L491.57,612 L491.93,611 L492.28,610 L492.62,609 L492.96,608 L493.29,607 L493.61,606 L493.93,605 L494.24,604 L494.54,603 L494.84,602 L495.13,601 L495.42,600 L495.69,599 L495.97,598 L496.23,597 L496.49,596 L496.74,595 L496.99,594 L497.23,593 L497.47,592 L497.7,591 L497.92,590 L498.14,589 L498.36,588 L498.57,587 L498.77,586 L498.98,585 L499.17,584 L499.37,583 L499.56,582 L499.74,581 L499.93,580 L500.11,579 L500.28,578 L500.46,577 L500.63,576 L500.79,575 L500.96,574 L501.12,573 L501.28,572 L501.44,571 L501.59,570 L501.74,569 L501.89,568 L502.04,567 L502.19,566 L502.33,565 L502.47,564 L502.6,563 L502.74,562 L502.87,561 L502.99,560 L503.11,559 L503.23,558 L503.34,557 L503.45,556 L503.55,555 L503.65,554 L503.74,553 L503.83,552 L503.91,551 L503.99,550 L504.07,549 L504.13,548 L504.2,547 L504.26,546 L504.31,545 L504.36,544 L504.41,543 L504.45,542 L504.49,541 L504.53,540 L504.56,539 L504.59,538 L504.62,537 L504.64,536 L504.67,535 L504.69,534 L504.71,533 L504.72,532 L504.74,531 L504.75,530 L504.76,529 L504.77,528 L504.78,527 L504.79,526 L504.8,525 L504.81,524 L504.81,523 L504.82,522 L504.82,521 L504.83,520 L504.83,519 L504.83,518 L504.84,517 L504.84,516 L504.84,515 L504.84,514 L504.85,513 L504.85,512 L504.85,511 L504.85,510 L504.85,509 L504.86,508 L504.86,507 L504.86,506 L504.86,505 L504.86,504 L504.86,503 L504.87,502 L504.87,501 L504.87,500 L504.87,499 L504.87,498 L504.87,497 L504.87,496 L504.88,495 L504.88,494 L504.88,493 L504.88,492 L504.88,491 L504.88,490 L504.89,489 L504.89,488 L504.89,487 L504.89,486 L504.89,485 L504.89,484 L504.9,483 L504.9,482 L504.9,481 L504.9,480 L504.9,479 L504.91,478 L504.91,477 L504.91,476 L504.91,475 L504.91,474 L504.92,473 L504.92,472 L504.92,471 L504.92,470 L504.93,469 L504.93,468 L504.93,467 L504.93,466 L504.93,465 L504.94,464 L504.94,463 L504.94,462 L504.94,461 L504.95,460 L504.95,459 L504.95,458 L504.95,457 L504.95,456 L504.96,455 L504.96,454 L504.96,453 L504.96,452 L504.97,451 L504.97,450 L504.97,449 L504.97,448 L504.98,447 L504.98,446 L504.98,445 L504.98,444 L504.99,443 L504.99,442 L504.99,441 L504.99,440 L505,439 L505,438 L505,437 L505,436 L505,435 L505.01,434 L505.01,433 L505.01,432 L505.01,431 L505.02,430 L505.02,429 L505.02,428 L505.03,427 L505.03,426 L505.03,425 L505.03,424 L505.04,423 L505.04,422 L505.04,421 L505.04,420 L505.05,419 L505.05,418 L505.05,417 L505.05,416 L505.06,415 L505.06,414 L505.06,413 L505.07,412 L505.07,411 L505.07,410 L505.07,409 L505.08,408 L505.08,407 L505.08,406 L505.09,405 L505.09,404 L505.09,403 L505.09,402 L505.1,401 L505.1,400 L505.1,399 L505.11,398 L505.11,397 L505.11,396 L505.12,395 L505.12,394 L505.12,393 L505.12,392 L505.13,391 L505.13,390 L505.13,389 L505.14,388 L505.14,387 L505.14,386 L505.15,385 L505.15,384 L505.15,383 L505.16,382 L505.16,381 L505.16,380 L505.17,379 L505.17,378 L505.18,377 L505.18,376 L505.18,375 L505.19,374 L505.19,373 L505.19,372 L505.2,371 L505.2,370 L505.21,369 L505.21,368 L505.21,367 L505.22,366 L505.22,365 L505.23,364 L505.23,363 L505.23,362 L505.24,361 L505.24,360 L505.25,359 L505.25,358 L505.26,357 L505.26,356 L505.26,355 L505.27,354 L505.27,353 L505.28,352 L505.28,351 L505.29,350 L505.29,349 L505.3,348 L505.3,347 L505.31,346 L505.31,345 L505.32,344 L505.32,343 L505.33,342 L505.33,341 L505.34,340 L505.34,339 L505.35,338 L505.35,337 L505.36,336 L505.37,335 L505.37,334 L505.38,333 L505.38,332 L505.39,331 L505.39,330 L505.4,329 L505.4,328 L505.41,327 L505.42,326 L505.42,325 L505.43,324 L505.43,323 L505.44,322 L505.45,321 L505.45,320 L505.46,319 L505.46,318 L505.47,317 L505.48,316 L505.48,315 L505.49,314 L505.5,313 L505.5,312 L505.51,311 L505.52,310 L505.52,309 L505.53,308 L505.53,307 L505.54,306 L505.55,305 L505.55,304 L505.56,303 L505.57,302 L505.57,301 L505.58,300 L505.59,299 L505.59,298 L505.6,297 L505.61,296 L505.62,295 L505.62,294 L505.63,293 L505.64,292 L505.64,291 L505.65,290 L505.66,289 L505.66,288 L505.67,287 L505.68,286 L505.68,285 L505.69,284 L505.7,283 L505.71,282 L505.71,281 L505.72,280 L505.73,279 L505.73,278 L505.74,277 L505.75,276 L505.76,275 L505.76,274 L505.77,273 L505.78,272 L505.79,271 L505.79,270 L505.8,269 L505.81,268 L505.81,267 L505.82,266 L505.83,265 L505.84,264 L505.84,263 L505.85,262 L505.86,261 L505.87,260 L505.87,259 L505.88,258 L505.89,257 L505.89,256 L505.9,255 L505.91,254 L505.92,253 L505.92,252 L505.93,251 L505.94,250 L505.95,249 L505.95,248 L505.96,247 L505.97,246 L505.98,245 L505.98,244 L505.99,243 L506,242 L506.01,241 L506.01,240 L506.02,239 L506.03,238 L506.04,237 L506.04,236 L506.05,235 L506.06,234 L506.06,233 L506.07,232 L506.08,231 L506.09,230 L506.09,229 L506.1,228 L506.11,227 L506.12,226 L506.12,225 L506.13,224 L506.14,223 L506.14,222 L506.15,221 L506.16,220 L506.17,219 L506.17,218 L506.18,217 L506.19,216 L506.19,215 L506.2,214 L506.21,213 L506.22,212 L506.22,211 L506.23,210 L506.24,209 L506.24,208 L506.25,207 L506.26,206 L506.27,205 L506.27,204 L506.28,203 L506.29,202 L506.29,201 L506.3,200 L506.31,199 L506.31,198 L506.32,197 L506.33,196 L506.33,195 L506.34,194 L506.35,193 L506.35,192 L506.36,191 L506.37,190 L506.38,189 L506.38,188 L506.39,187 L506.4,186 L506.4,185 L506.41,184 L506.42,183 L506.42,182 L506.43,181 L506.44,180 L506.44,179 L506.45,178 L506.46,177 L506.47,176 L506.47,175 L506.48,174 L506.49,173 L506.49,172 L506.5,171 L506.51,170 L506.51,169 L506.52,168 L506.53,167 L506.54,166 L506.54,165 L506.55,164 L506.56,163 L506.56,162 L506.57,161 L506.58,160 L506.58,159 L506.59,158 L506.6,157 L506.61,156 L506.61,155 L506.62,154 L506.63,153 L506.63,152 L506.64,151 L506.65,150 L506.66,149 L506.66,148 L506.67,147 L506.68,146 L506.68,145 L506.69,144 L506.7,143 L506.71,142 L506.71,141 L506.72,140 L506.73,139 L506.73,138 L506.74,137 L506.75,136 L506.76,135 L506.76,134 L506.77,133 L506.78,132 L506.78,131 L506.79,130 L506.8,129 L506.81,128 L506.81,127 L506.82,126 L506.83,125 L506.84,124 L506.84,123 L506.85,122 L506.86,121 L506.86,120 L506.87,119 L506.88,118 L506.89,117 L506.89,116 L506.9,115 L506.91,114 L506.91,113 L506.92,112 L506.93,111 L506.94,110 L506.94,109 L506.95,108 L506.96,107 L506.97,106 L506.97,105 L506.98,104 L506.99,103 L507,102 L507,101 L507.01,100 L507.02,99 L507.02,98 L507.03,97 L507.04,96 L507.05,95 L507.05,94 L507.06,93 L507.07,92 L507.08,91 L507.08,90 L507.09,89 L507.1,88 L507.11,87 L507.11,86 L507.12,85 L507.13,84 L507.14,83 L507.14,82 L507.15,81 L507.16,80 L507.17,79 L507.17,78 L507.18,77 L507.19,76 L507.19,75 L507.2,74 L507.21,73 L507.22,72 L507.22,71 L507.23,70 L507.24,69 L507.25,68 L507.25,67 L507.26,66 L507.27,65 L507.28,64 L507.28,63 L507.29,62 L507.3,61 L508.7,61 L508.71,62 L508.72,63 L508.72,64 L508.73,65 L508.74,66 L508.75,67 L508.75,68 L508.76,69 L508.77,70 L508.78,71 L508.78,72 L508.79,73 L508.8,74 L508.81,75 L508.81,76 L508.82,77 L508.83,78 L508.83,79 L508.84,80 L508.85,81 L508.86,82 L508.86,83 L508.87,84 L508.88,85 L508.89,86 L508.89,87 L508.9,88 L508.91,89 L508.92,90 L508.92,91 L508.93,92 L508.94,93 L508.95,94 L508.95,95 L508.96,96 L508.97,97 L508.98,98 L508.98,99 L508.99,100 L509,101 L509,102 L509.01,103 L509.02,104 L509.03,105 L509.03,106 L509.04,107 L509.05,108 L509.06,109 L509.06,110 L509.07,111 L509.08,112 L509.09,113 L509.09,114 L509.1,115 L509.11,116 L509.11,117 L509.12,118 L509.13,119 L509.14,120 L509.14,121 L509.15,122 L509.16,123 L509.16,124 L509.17,125 L509.18,126 L509.19,127 L509.19,128 L509.2,129 L509.21,130 L509.22,131 L509.22,132 L509.23,133 L509.24,134 L509.24,135 L509.25,136 L509.26,137 L509.27,138 L509.27,139 L509.28,140 L509.29,141 L509.29,142 L509.3,143 L509.31,144 L509.32,145 L509.32,146 L509.33,147 L509.34,148 L509.34,149 L509.35,150 L509.36,151 L509.37,152 L509.37,153 L509.38,154 L509.39,155 L509.39,156 L509.4,157 L509.41,158 L509.42,159 L509.42,160 L509.43,161 L509.44,162 L509.44,163 L509.45,164 L509.46,165 L509.46,166 L509.47,167 L509.48,168 L509.49,169 L509.49,170 L509.5,171 L509.51,172 L509.51,173 L509.52,174 L509.53,175 L509.53,176 L509.54,177 L509.55,178 L509.56,179 L509.56,180 L509.57,181 L509.58,182 L509.58,183 L509.59,184 L509.6,185 L509.6,186 L509.61,187 L509.62,188 L509.62,189 L509.63,190 L509.64,191 L509.65,192 L509.65,193 L509.66,194 L509.67,195 L509.67,196 L509.68,197 L509.69,198 L509.69,199 L509.7,200 L509.71,201 L509.71,202 L509.72,203 L509.73,204 L509.73,205 L509.74,206 L509.75,207 L509.76,208 L509.76,209 L509.77,210 L509.78,211 L509.78,212 L509.79,213 L509.8,214 L509.81,215 L509.81,216 L509.82,217 L509.83,218 L509.83,219 L509.84,220 L509.85,221 L509.86,222 L509.86,223 L509.87,224 L509.88,225 L509.88,226 L509.89,227 L509.9,228 L509.91,229 L509.91,230 L509.92,231 L509.93,232 L509.94,233 L509.94,234 L509.95,235 L509.96,236 L509.96,237 L509.97,238 L509.98,239 L509.99,240 L509.99,241 L510,242 L510.01,243 L510.02,244 L510.02,245 L510.03,246 L510.04,247 L510.05,248 L510.05,249 L510.06,250 L510.07,251 L510.08,252 L510.08,253 L510.09,254 L510.1,255 L510.11,256 L510.11,257 L510.12,258 L510.13,259 L510.13,260 L510.14,261 L510.15,262 L510.16,263 L510.16,264 L510.17,265 L510.18,266 L510.19,267 L510.19,268 L510.2,269 L510.21,270 L510.21,271 L510.22,272 L510.23,273 L510.24,274 L510.24,275 L510.25,276 L510.26,277 L510.27,278 L510.27,279 L510.28,280 L510.29,281 L510.29,282 L510.3,283 L510.31,284 L510.32,285 L510.32,286 L510.33,287 L510.34,288 L510.34,289 L510.35,290 L510.36,291 L510.36,292 L510.37,293 L510.38,294 L510.38,295 L510.39,296 L510.4,297 L510.41,298 L510.41,299 L510.42,300 L510.43,301 L510.43,302 L510.44,303 L510.45,304 L510.45,305 L510.46,306 L510.47,307 L510.47,308 L510.48,309 L510.48,310 L510.49,311 L510.5,312 L510.5,313 L510.51,314 L510.52,315 L510.52,316 L510.53,317 L510.54,318 L510.54,319 L510.55,320 L510.55,321 L510.56,322 L510.57,323 L510.57,324 L510.58,325 L510.58,326 L510.59,327 L510.6,328 L510.6,329 L510.61,330 L510.61,331 L510.62,332 L510.62,333 L510.63,334 L510.63,335 L510.64,336 L510.65,337 L510.65,338 L510.66,339 L510.66,340 L510.67,341 L510.67,342 L510.68,343 L510.68,344 L510.69,345 L510.69,346 L510.7,347 L510.7,348 L510.71,349 L510.71,350 L510.72,351 L510.72,352 L510.73,353 L510.73,354 L510.74,355 L510.74,356 L510.74,357 L510.75,358 L510.75,359 L510.76,360 L510.76,361 L510.77,362 L510.77,363 L510.77,364 L510.78,365 L510.78,366 L510.79,367 L510.79,368 L510.79,369 L510.8,370 L510.8,371 L510.81,372 L510.81,373 L510.81,374 L510.82,375 L510.82,376 L510.82,377 L510.83,378 L510.83,379 L510.84,380 L510.84,381 L510.84,382 L510.85,383 L510.85,384 L510.85,385 L510.86,386 L510.86,387 L510.86,388 L510.87,389 L510.87,390 L510.87,391 L510.88,392 L510.88,393 L510.88,394 L510.88,395 L510.89,396 L510.89,397 L510.89,398 L510.9,399 L510.9,400 L510.9,401 L510.91,402 L510.91,403 L510.91,404 L510.91,405 L510.92,406 L510.92,407 L510.92,408 L510.93,409 L510.93,410 L510.93,411 L510.93,412 L510.94,413 L510.94,414 L510.94,415 L510.95,416 L510.95,417 L510.95,418 L510.95,419 L510.96,420 L510.96,421 L510.96,422 L510.96,423 L510.97,424 L510.97,425 L510.97,426 L510.97,427 L510.98,428 L510.98,429 L510.98,430 L510.99,431 L510.99,432 L510.99,433 L510.99,434 L511,435 L511,436 L511,437 L511,438 L511,439 L511.01,440 L511.01,441 L511.01,442 L511.01,443 L511.02,444 L511.02,445 L511.02,446 L511.02,447 L511.03,448 L511.03,449 L511.03,450 L511.03,451 L511.04,452 L511.04,453 L511.04,454 L511.04,455 L511.05,456 L511.05,457 L511.05,458 L511.05,459 L511.05,460 L511.06,461 L511.06,462 L511.06,463 L511.06,464 L511.07,465 L511.07,466 L511.07,467 L511.07,468 L511.07,469 L511.08,470 L511.08,471 L511.08,472 L511.08,473 L511.09,474 L511.09,475 L511.09,476 L511.09,477 L511.09,478 L511.1,479 L511.1,480 L511.1,481 L511.1,482 L511.1,483 L511.11,484 L511.11,485 L511.11,486 L511.11,487 L511.11,488 L511.11,489 L511.12,490 L511.12,491 L511.12,492 L511.12,493 L511.12,494 L511.12,495 L511.13,496 L511.13,497 L511.13,498 L511.13,499 L511.13,500 L511.13,501 L511.13,502 L511.14,503 L511.14,504 L511.14,505 L511.14,506 L511.14,507 L511.14,508 L511.15,509 L511.15,510 L511.15,511 L511.15,512 L511.15,513 L511.16,514 L511.16,515 L511.16,516 L511.16,517 L511.17,518 L511.17,519 L511.17,520 L511.18,521 L511.18,522 L511.19,523 L511.19,524 L511.2,525 L511.21,526 L511.22,527 L511.23,528 L511.24,529 L511.25,530 L511.26,531 L511.28,532 L511.29,533 L511.31,534 L511.33,535 L511.36,536 L511.38,537 L511.41,538 L511.44,539 L511.47,540 L511.51,541 L511.55,542 L511.59,543 L511.64,544 L511.69,545 L511.74,546 L511.8,547 L511.87,548 L511.93,549 L512.01,550 L512.09,551 L512.17,552 L512.26,553 L512.35,554 L512.45,555 L512.55,556 L512.66,557 L512.77,558 L512.89,559 L513.01,560 L513.13,561 L513.26,562 L513.4,563 L513.53,564 L513.67,565 L513.81,566 L513.96,567 L514.11,568 L514.26,569 L514.41,570 L514.56,571 L514.72,572 L514.88,573 L515.04,574 L515.21,575 L515.37,576 L515.54,577 L515.72,578 L515.89,579 L516.07,580 L516.26,581 L516.44,582 L516.63,583 L516.83,584 L517.02,585 L517.23,586 L517.43,587 L517.64,588 L517.86,589 L518.08,590 L518.3,591 L518.53,592 L518.77,593 L519.01,594 L519.26,595 L519.51,596 L519.77,597 L520.03,598 L520.31,599 L520.58,600 L520.87,601 L521.16,602 L521.46,603 L521.76,604 L522.07,605 L522.39,606 L522.71,607 L523.04,608 L523.38,609 L523.72,610 L524.07,611 L524.43,612 L524.79,613 L525.16,614 L525.53,615 L525.91,616 L526.29,617 L526.68,618 L527.08,619 L527.48,620 L527.89,621 L528.31,622 L528.73,623 L529.16,624 L529.59,625 L530.03,626 L530.47,627 L530.92,628 L531.37,629 L531.83,630 L532.29,631 L532.76,632 L533.23,633 L533.7,634 L534.17,635 L534.65,636 L535.12,637 L535.6,638 L536.08,639 L536.55,640 L537.03,641 L537.51,642 L537.99,643 L538.46,644 L538.94,645 L539.42,646 L539.9,647 L540.38,648 L540.86,649 L541.34,650 L541.82,651 L542.31,652 L542.8,653 L543.29,654 L543.78,655 L544.27,656 L544.77,657 L545.27,658 L545.77,659 L546.27,660 L546.78,661 L547.29,662 L547.81,663 L548.33,664 L548.85,665 L549.37,666 L549.9,667 L550.43,668 L550.96,669 L551.5,670 L552.04,671 L552.58,672 L553.12,673 L553.67,674 L554.21,675 L554.76,676 L555.32,677 L555.87,678 L556.43,679 L556.98,680 L557.54,681 L558.11,682 L558.67,683 L559.24,684 L559.8,685 L560.37,686 L560.95,687 L561.52,688 L562.1,689 L562.67,690 L563.25,691 L563.84,692 L564.42,693 L565.01,694 L565.59,695 L566.18,696 L566.78,697 L567.37,698 L567.97,699 L568.57,700 L569.17,701 L569.77,702 L570.37,703 L570.98,704 L571.58,705 L572.19,706 L572.8,707 L573.41,708 L574.03,709 L574.64,710 L575.25,711 L575.87,712 L576.48,713 L577.1,714 L577.71,715 L578.33,716 L578.95,717 L579.57,718 L580.18,719 L580.8,720 L581.42,721 L582.04,722 L582.66,723 L583.28,724 L583.9,725 L584.53,726 L585.15,727 L585.78,728 L586.4,729 L587.03,730 L587.66,731 L588.29,732 L588.93,733 L589.56,734 L590.2,735 L590.84,736 L591.48,737 L592.13,738 L592.77,739 L593.42,740 L594.07,741 L594.72,742 L595.38,743 L596.04,744 L596.69,745 L597.35,746 L598.01,747 L598.67,748 L599.33,749 L600,750 L600.66,751 L601.32,752 L601.99,753 L602.65,754 L603.32,755 L603.98,756 L604.64,757 L605.31,758 L605.97,759 L606.64,760 L607.3,761 L607.97,762 L608.63,763 L609.3,764 L609.97,765 L610.64,766 L611.31,767 L611.98,768 L612.65,769 L613.33,770 L614,771 L614.68,772 L615.36,773 L616.05,774 L616.74,775 L617.43,776 L618.12,777 L618.81,778 L619.51,779 L620.21,780 L620.91,781 L621.61,782 L622.31,783 L623.01,784 L623.72,785 L624.42,786 L625.13,787 L625.83,788 L626.53,789 L627.24,790 L627.94,791 L628.64,792 L629.34,793 L630.03,794 L630.73,795 L631.42,796 L632.11,797 L632.8,798 L633.48,799 L634.16,800 L634.84,801 L635.52,802 L636.19,803 L636.86,804 L637.53,805 L638.19,806 L638.85,807 L639.5,808 L640.15,809 L640.8,810 L641.44,811 L642.08,812 L642.71,813 L643.34,814 L643.96,815 L644.58,816 L645.2,817 L645.81,818 L646.42,819 L647.02,820 L647.62,821 L648.21,822 L648.8,823 L649.39,824 L649.97,825 L650.55,826 L651.13,827 L651.7,828 L652.27,829 L652.84,830 L653.4,831 L653.96,832 L654.52,833 L655.08,834 L655.63,835 L656.18,836 L656.73,837 L657.27,838 L657.81,839 L658.35,840 L658.89,841 L659.43,842 L659.96,843 L660.5,844 L661.03,845 L661.56,846 L662.09,847 L662.62,848 L663.15,849 L663.68,850 L664.2,851 L664.73,852 L665.26,853 L665.79,854 L666.32,855 L666.84,856 L667.37,857 L667.9,858 L668.43,859 L668.96,860 L669.49,861 L670.02,862 L670.55,863 L671.08,864 L671.61,865 L672.14,866 L672.67,867 L673.2,868 L673.73,869 L674.25,870 L674.78,871 L675.3,872 L675.82,873 L676.34,874 L676.85,875 L677.37,876 L677.88,877 L678.39,878 L678.89,879 L679.4,880 L679.9,881 L680.39,882 L680.89,883 L681.38,884 L681.87,885 L682.36,886 L682.84,887 L683.32,888 L683.8,889 L684.27,890 L684.75,891 L685.22,892 L685.68,893 L686.15,894 L686.61,895 L687.07,896 L687.53,897 L687.99,898 L688.44,899 L688.89,900 L689.34,901 L689.79,902 L690.24,903 L690.68,904 L691.12,905 L691.57,906 L692,907 L692.44,908 L692.87,909 L693.31,910 L693.74,911 L694.16,912 L694.59,913 L695.01,914 L695.43,915 L695.84,916 L696.26,917 L696.67,918 L697.07,919 L697.47,920 L697.87,921 L698.27,922 L698.66,923 L699.05,924 L699.43,925 L699.81,926 L700.18,927 L700.55,928 L700.92,929 L701.28,930 L701.64,931 L701.99,932 L702.34,933 L702.68,934 L703.02,935 L703.36,936 L703.69,937 L704.02,938 L704.35,939 L704.67,940 L704.98,941 L705.3,942 L705.6,943 L705.91,944 L706.21,945 L706.5,946 L706.79,947 L707.08,948 L707.36,949 L707.64,950 L707.91,951 L708.18,952 L708.45,953 L708.71,954 L708.97,955 L709.22,956 L709.47,957 L709.72,958 L709.96,959 L710.2,960 L710.43,961 L710.66,962 L710.88,963 L711.1,964 L711.31,965 L711.52,966 L711.72,967 L711.91,968 L712.11,969 L712.29,970 L712.47,971 L712.64,972 L712.81,973 L712.97,974 L713.12,975 L713.27,976 L713.42,977 L713.56,978 L713.69,979 L713.82,980 L713.95,981 L714.07,982 L714.18,983 L714.29,984 L714.4,985 L714.5,986 L714.6,987 L714.7,988 L714.79,989 L714.88,990 L714.96,991 L715.04,992 L715.11,993 L715.18,994 L715.25,995 L715.32,996 L715.38,997 L715.43,998 L715.49,999 L715.54,1000 L715.59,1001 L715.63,1002 L715.68,1003 L715.72,1004 L715.76,1005 L715.79,1006 L715.83,1007 L715.86,1008 L715.89,1009 L715.92,1010 L715.95,1011 L715.97,1012 L716,1013 L716.02,1014 L716.04,1015 L716.06,1016 L716.08,1017 L716.1,1018 L716.12,1019 L716.13,1020 L716.15,1021 L716.16,1022 L716.18,1023 L716.19,1024 L716.2,1025 L716.21,1026 L716.22,1027 L716.23,1028 L716.24,1029 L716.25,1030 L716.26,1031 L716.27,1032 L716.28,1033 L716.29,1034 L716.29,1035 L716.3,1036 L716.31,1037 L716.31,1038 L716.32,1039 L716.33,1040 L716.33,1041 L716.34,1042 L716.34,1043 L716.35,1044 L716.35,1045 L716.36,1046 L716.36,1047 L716.37,1048 L716.37,1049 L716.37,1050 L716.38,1051 L716.38,1052 L716.38,1053 L716.38,1054 L716.39,1055 L716.39,1056 L716.39,1057 L716.39,1058 L716.39,1059 L716.39,1060 L716.4,1061 L716.4,1062 L716.4,1063 L716.4,1064 L716.4,1065 L716.4,1066 L716.4,1067 L716.4,1068 L716.4,1069 L716.4,1070 L716.4,1071 L716.4,1072 L716.4,1073 L716.4,1074 L716.4,1075 L716.4,1076 L716.4,1077 L716.4,1078 L716.4,1079 L716.4,1080 L716.4,1081 L716.4,1082 L716.4,1083 L716.4,1084 L716.4,1085 L716.4,1086 L716.4,1087 L716.4,1088 L716.4,1089 L716.4,1090 L716.4,1091 L716.4,1092 L716.4,1093 L716.4,1094 L716.4,1095 L716.4,1096 L716.4,1097 L716.4,1098 L716.4,1099 L716.4,1100 L716.4,1101 L716.4,1102 L716.4,1103 L716.4,1104 L716.4,1105 L716.4,1106 L716.4,1107 L716.4,1108 L716.4,1109 L716.4,1110 L716.4,1111 L716.4,1112 L716.4,1113 L716.4,1114 L716.4,1115 L716.4,1116 L716.4,1117 L716.4,1118 L716.4,1119 L716.4,1120 L716.4,1121 L716.4,1122 L716.4,1123 L716.4,1124 L716.4,1125 L716.4,1126 L716.4,1127 L716.4,1128 L716.4,1129 L716.4,1130 L716.4,1131 L716.4,1132 L716.4,1133 L716.4,1134 L716.4,1135 L716.4,1136 L716.4,1137 L716.4,1138 L716.4,1139 L716.4,1140 L716.4,1141 L716.4,1142 L716.4,1143 L716.4,1144 L716.4,1145 L716.4,1146 L716.4,1147 L716.4,1148 L716.4,1149 L716.4,1150 L716.4,1151 L716.4,1152 L716.4,1153 L716.4,1154 L716.4,1155 L716.4,1156 L716.4,1157 L716.4,1158 L716.4,1159 L716.4,1160 L716.4,1161 L716.4,1162 L716.4,1163 L716.4,1164 L716.4,1165 L716.4,1166 L716.4,1167 L716.4,1168 L716.4,1169 L716.4,1170 L716.4,1171 L716.4,1172 L716.4,1173 L716.4,1174 L716.4,1175 L716.4,1176 L716.4,1177 L716.4,1178 L716.4,1179 L716.4,1180 L716.4,1181 L716.4,1182 L716.4,1183 L716.4,1184 L716.4,1185 L716.4,1186 L716.4,1187 L716.4,1188 L716.4,1189 L716.4,1190 L716.4,1191 L716.4,1192 L716.4,1193 L716.4,1194 L716.4,1195 L716.4,1196 L716.4,1197 L716.4,1198 L716.4,1199 L716.4,1200 L716.4,1201 L716.4,1202 L716.4,1203 L716.4,1204 L716.4,1205 L716.4,1206 L716.4,1207 L716.4,1208 L716.4,1209 L716.4,1210 L716.4,1211 L716.4,1212 L716.4,1213 L716.4,1214 L716.4,1215 L716.4,1216 L716.4,1217 L716.4,1218 L716.4,1219 L716.4,1220 L716.4,1221 L716.4,1222 L716.4,1223 L716.4,1224 L716.4,1225 L716.4,1226 L716.4,1227 L716.4,1228 L716.4,1229 L716.4,1230 L716.4,1231 L716.4,1232 L716.4,1233 L716.4,1234 L716.4,1235 L716.4,1236 L716.4,1237 L716.4,1238 L716.4,1239 L716.4,1240 L716.4,1241 L716.4,1242 L716.4,1243 L716.4,1244 L716.4,1245 L716.4,1246 L716.4,1247 L716.4,1248 L716.4,1249 L716.4,1250 L716.4,1251 L716.4,1252 L716.4,1253 L716.4,1254 L716.4,1255 L716.4,1256 L716.4,1257 L716.4,1258 L716.4,1259 L716.4,1260 L716.4,1261 L716.4,1262 L716.4,1263 L716.4,1264 L716.4,1265 L716.4,1266 L716.4,1267 L716.4,1268 L716.4,1269 L716.4,1270 L716.4,1271 L716.4,1272 L716.4,1273 L716.4,1274 L716.4,1275 L716.4,1276 L716.4,1277 L716.4,1278 L716.4,1279 L716.4,1280 L716.4,1281 L716.4,1282 L716.4,1283 L716.4,1284 L716.4,1285 L716.4,1286 L716.4,1287 L716.4,1288 L716.4,1289 L716.4,1290 L716.4,1291 L716.4,1292 L716.4,1293 L716.4,1294 L716.4,1295 L716.4,1296 L716.4,1297 L716.4,1298 L716.4,1299 L716.4,1300 L716.4,1301 L716.4,1302 L716.4,1303 L716.4,1304 L716.4,1305 L716.4,1306 L716.4,1307 L716.4,1308 L716.4,1309 L716.4,1310 L716.4,1311 L716.4,1312 L716.4,1313 L716.4,1314 L716.4,1315 L716.4,1316 L716.4,1317 L716.4,1318 L716.4,1319 L716.4,1320 L716.4,1321 L716.4,1322 L716.4,1323 L716.4,1324 L716.4,1325 L716.4,1326 L716.4,1327 L716.4,1328 L716.4,1329 L716.4,1330 L716.4,1331 L716.4,1332 L716.4,1333 L716.4,1334 L716.4,1335 L716.4,1336 L716.4,1337 L716.4,1338 L716.4,1339 L716.4,1340 L716.4,1341 L716.4,1342 L716.4,1343 L716.4,1344 L716.4,1345 L716.4,1346 L716.4,1347 L716.4,1348 L716.4,1349 L716.4,1350 L716.4,1351 L716.4,1352 L716.4,1353 L716.4,1354 L716.4,1355 L716.4,1356 L716.4,1357 L716.4,1358 L716.4,1359 L716.4,1360 L716.4,1361 L716.4,1362 L716.4,1363 L716.4,1364 L716.4,1365 L716.4,1366 L716.4,1367 L716.4,1368 L716.4,1369 L716.4,1370 L716.4,1371 L716.4,1372 L716.4,1373 L716.4,1374 L716.4,1375 L716.4,1376 L716.4,1377 L716.4,1378 L716.4,1379 L716.4,1380 L716.4,1381 L716.4,1382 L716.4,1383 L716.4,1384 L716.4,1385 L716.4,1386 L716.4,1387 L716.4,1388 L716.4,1389 L716.4,1390 L716.4,1391 L716.4,1392 L716.4,1393 L716.4,1394 L716.4,1395 L716.4,1396 L716.4,1397 L716.4,1398 L716.4,1399 L716.4,1400 L716.4,1401 L716.4,1402 L716.4,1403 L716.4,1404 L716.4,1405 L716.4,1406 L716.4,1407 L716.4,1408 L716.4,1409 L716.4,1410 L716.4,1411 L716.4,1412 L716.4,1413 L716.4,1414 L716.4,1415 L716.4,1416 L716.4,1417 L716.4,1418 L716.4,1419 L716.4,1420 L716.4,1421 L716.4,1422 L716.4,1423 L716.4,1424 L716.4,1425 L716.4,1426 L716.4,1427 L716.4,1428 L716.4,1429 L716.4,1430 L716.4,1431 L716.4,1432 L716.4,1433 L716.4,1434 L716.4,1435 L716.4,1436 L716.4,1437 L716.4,1438 L716.4,1439 L716.4,1440 L716.4,1441 L716.4,1442 L716.4,1443 L716.4,1444 L716.4,1445 L716.4,1446 L716.4,1447 L716.4,1448 L716.4,1449 L716.4,1450 L716.4,1451 L716.4,1452 L716.4,1453 L716.4,1454 L716.4,1455 L716.4,1456 L716.4,1457 L716.4,1458 L716.4,1459 L716.4,1460 L716.4,1461 L716.4,1462 L716.4,1463 L716.4,1464 L716.4,1465 L716.4,1466 L716.4,1467 L716.4,1468 L716.4,1469 L716.4,1470 L716.4,1471 L716.4,1472 L716.4,1473 L716.4,1474 L716.4,1475 L716.4,1476 L716.4,1477 L716.4,1478 L716.4,1479 L716.4,1480 L716.4,1481 L716.4,1482 L716.4,1483 L716.4,1484 L716.4,1485 L716.4,1486 L716.4,1487 L716.4,1488 L716.4,1489 L716.4,1490 L716.4,1491 L716.4,1492 L716.4,1493 L716.4,1494 L716.4,1495 L716.4,1496 L716.4,1497 L716.4,1498 L716.4,1499 L716.4,1500 L716.4,1501 L716.4,1502 L716.4,1503 L716.4,1504 L716.4,1505 L716.4,1506 L716.4,1507 L716.4,1508 L716.4,1509 L716.4,1510 L716.4,1511 L716.4,1512 L716.4,1513 L716.4,1514 L716.4,1515 L716.4,1516 L716.4,1517 L716.4,1518 L716.4,1519 L716.4,1520 L716.4,1521 L716.4,1522 L716.4,1523 L716.4,1524 L716.4,1525 L716.4,1526 L716.4,1527 L716.4,1528 L716.4,1529 L716.4,1530 L716.4,1531 L716.4,1532 L716.4,1533 L716.4,1534 L716.4,1535 L716.4,1536 L716.4,1537 L716.4,1538 L716.4,1539 L716.4,1540 L716.4,1541 L716.4,1542 L716.4,1543 L716.4,1544 L716.4,1545 L716.4,1546 L716.4,1547 L716.4,1548 L716.4,1549 L716.4,1550 L716.4,1551 L716.4,1552 L716.4,1553 L716.4,1554 L716.4,1555 L716.4,1556 L716.4,1557 L716.4,1558 L716.4,1559 L716.4,1560 L716.4,1561 L716.4,1562 L716.4,1563 L716.4,1564 L716.4,1565 L716.4,1566 L716.4,1567 L716.4,1568 L716.4,1569 L716.4,1570 L716.4,1571 L716.4,1572 L716.4,1573 L716.4,1574 L716.4,1575 L716.4,1576 L716.4,1577 L716.4,1578 L716.4,1579 L716.4,1580 L716.4,1581 L716.4,1582 L716.4,1583 L716.4,1584 L716.4,1585 L716.4,1586 L716.4,1587 L716.4,1588 L716.4,1589 L716.4,1590 L716.4,1591 L716.4,1592 L716.4,1593 L716.4,1594 L716.4,1595 L716.4,1596 L716.4,1597 L716.4,1598 L716.4,1599 L716.4,1600 L716.4,1601 L716.4,1602 L716.4,1603 L716.4,1604 L716.4,1605 L716.4,1606 L716.4,1607 L716.4,1608 L716.4,1609 L716.4,1610 L716.4,1611 L716.4,1612 L716.4,1613 L716.4,1614 L716.4,1615 L716.4,1616 L716.4,1617 L716.4,1618 L716.4,1619 L716.4,1620 L716.4,1621 L716.4,1622 L716.4,1623 L716.4,1624 L716.4,1625 L716.4,1626 L716.4,1627 L716.4,1628 L716.4,1629 L716.4,1630 L716.4,1631 L716.4,1632 L716.4,1633 L716.4,1634 L716.4,1635 L716.4,1636 L716.4,1637 L716.4,1638 L716.4,1639 L716.4,1640 L716.4,1641 L716.4,1642 L716.4,1643 L716.4,1644 L716.4,1645 L716.4,1646 L716.4,1647 L716.4,1648 L716.4,1649 L716.4,1650 L716.4,1651 L716.4,1652 L716.4,1653 L716.4,1654 L716.4,1655 L716.4,1656 L716.4,1657 L716.4,1658 L716.4,1659 L716.4,1660 L716.4,1661 L716.4,1662 L716.4,1663 L716.4,1664 L716.4,1665 L716.4,1666 L716.4,1667 L716.4,1668 L716.4,1669 L716.4,1670 L716.4,1671 L716.4,1672 L716.4,1673 L716.4,1674 L716.4,1675 L716.4,1676 L716.4,1677 L716.4,1678 L716.4,1679 L716.4,1680 L716.4,1681 L716.4,1682 L716.4,1683 L716.4,1684 L716.4,1685 L716.4,1686 L716.4,1687 L716.4,1688 L716.4,1689 L716.4,1690 L716.4,1691 L716.4,1692 L716.4,1693 L716.4,1694 L716.4,1695 L716.4,1696 L716.4,1697 L716.4,1698 L716.4,1699 L716.4,1700 L716.4,1701 L716.4,1702 L716.4,1703 L716.4,1704 L716.4,1705 L716.4,1706 L716.4,1707 L716.4,1708 L716.4,1709 L716.4,1710 L716.4,1711 L716.4,1712 L716.4,1713 L716.4,1714 L716.4,1715 L716.4,1716 L716.4,1717 L716.4,1718 L716.4,1719 L716.4,1720 L716.4,1721 L716.4,1722 L716.4,1723 L716.4,1724 L716.4,1725 L716.4,1726 L716.4,1727 L716.4,1728 L716.4,1729 L716.4,1730 L716.4,1731 L716.4,1732 L716.4,1733 L716.4,1734 L716.4,1735 L716.4,1736 L716.4,1737 L716.4,1738 L716.4,1739 L716.4,1740 L716.4,1741 L716.4,1742 L716.4,1743 L716.4,1744 L716.4,1745 L716.4,1746 L716.4,1747 L716.4,1748 L716.4,1749 L716.4,1750 L716.4,1751 L716.4,1752 L716.4,1753 L716.4,1754 L716.4,1755 L716.4,1756 L716.4,1757 L716.4,1758 L716.4,1759 L716.4,1760 L716.4,1761 L716.4,1762 L716.4,1763 L716.4,1764 L716.4,1765 L716.4,1766 L716.4,1767 L716.4,1768 L716.4,1769 L716.4,1770 L716.4,1771 L716.4,1772 L716.4,1773 L716.4,1774 L716.4,1775 L716.4,1776 L716.4,1777 L716.4,1778 L716.4,1779 L716.4,1780 L716.4,1781 L716.4,1782 L716.4,1783 L716.4,1784 L716.4,1785 L716.4,1786 L716.4,1787 L716.4,1788 L716.4,1789 L716.4,1790 L716.4,1791 L716.4,1792 L716.4,1793 L716.4,1794 L716.4,1795 L716.4,1796 L716.4,1797 L716.4,1798 L716.4,1799 L716.4,1800 L716.4,1801 L716.4,1802 L716.4,1803 L716.4,1804 L716.4,1805 L716.4,1806 L716.4,1807 L716.4,1808 L716.4,1809 L716.4,1810 L716.4,1811 L716.4,1812 L716.4,1813 L716.4,1814 L716.4,1815 L716.4,1816 L716.4,1817 L716.4,1818 L716.4,1819 L716.4,1820 L716.4,1821 L716.4,1822 L716.4,1823 L716.4,1824 L716.4,1825 L716.4,1826 L716.4,1827 L716.4,1828 L716.4,1829 L716.4,1830 L716.4,1831 L716.4,1832 L716.4,1833 L716.4,1834 L716.4,1835 L716.4,1836 L716.4,1837 L716.4,1838 L716.4,1839 L716.4,1840 L716.4,1841 L716.4,1842 L716.4,1843 L716.4,1844 L716.4,1845 L716.4,1846 L716.4,1847 L716.4,1848 L716.4,1849 L716.4,1850 L716.4,1851 L716.4,1852 L716.4,1853 L716.4,1854 L716.4,1854.2" fill="none" stroke="#6b6b6b" stroke-width="1.7" stroke-linejoin="round"/>
<path d="M320.9,1854.2 L320.9,1854.1 L320.9,1853.1 L320.9,1852.1 L320.9,1851.1 L320.9,1850.1 L320.9,1849.1 L320.9,1848.1 L320.9,1847.1 L320.9,1846.1 L320.9,1845.1 L320.9,1844.1 L320.9,1843.1 L320.9,1842.1 L320.9,1841.1 L320.9,1840.1 L320.9,1839.1 L320.9,1838.1 L320.9,1837.1 L320.9,1836.1 L320.9,1835.1 L320.9,1834.1 L320.9,1833.1 L320.9,1832.1 L320.9,1831.1 L320.9,1830.1 L320.9,1829.1 L320.9,1828.1 L320.9,1827.1 L320.9,1826.1 L320.9,1825.1 L320.9,1824.1 L320.9,1823.1 L320.9,1822.1 L320.9,1821.1 L320.9,1820.1 L320.9,1819.1 L320.9,1818.1 L320.9,1817.1 L320.9,1816.1 L320.9,1815.1 L320.9,1814.1 L320.9,1813.1 L320.9,1812.1 L320.9,1811.1 L320.9,1810.1 L320.9,1809.1 L320.9,1808.1 L320.9,1807.1 L320.9,1806.1 L320.9,1805.1 L320.9,1804.1 L320.9,1803.1 L320.9,1802.1 L320.9,1801.1 L320.9,1800.1 L320.9,1799.1 L320.9,1798.1 L320.9,1797.1 L320.9,1796.1 L320.9,1795.1 L320.9,1794.1 L320.9,1793.1 L320.9,1792.1 L320.9,1791.1 L320.9,1790.1 L320.9,1789.1 L320.9,1788.1 L320.9,1787.1 L320.9,1786.1 L320.9,1785.1 L320.9,1784.1 L320.9,1783.1 L320.9,1782.1 L320.9,1781.1 L320.9,1780.1 L320.9,1779.1 L320.9,1778.1 L320.9,1777.1 L320.9,1776.1 L320.9,1775.1 L320.9,1774.1 L320.9,1773.1 L320.9,1772.1 L320.9,1771.1 L320.9,1770.1 L320.9,1769.1 L320.9,1768.1 L320.9,1767.1 L320.9,1766.1 L320.9,1765.1 L320.9,1764.1 L320.9,1763.1 L320.9,1762.1 L320.9,1761.1 L320.9,1760.1 L320.9,1759.1 L320.9,1758.1 L320.9,1757.1 L320.9,1756.1 L320.9,1755.1 L320.9,1754.1 L320.9,1753.1 L320.9,1752.1 L320.9,1751.1 L320.9,1750.1 L320.9,1749.1 L320.9,1748.1 L320.9,1747.1 L320.9,1746.1 L320.9,1745.1 L320.9,1744.1 L320.9,1743.1 L320.9,1742.1 L320.9,1741.1 L320.9,1740.1 L320.9,1739.1 L320.9,1738.1 L320.9,1737.1 L320.9,1736.1 L320.9,1735.1 L320.9,1734.1 L320.9,1733.1 L320.9,1732.1 L320.9,1731.1 L320.9,1730.1 L320.9,1729.1 L320.9,1728.1 L320.9,1727.1 L320.9,1726.1 L320.9,1725.1 L320.9,1724.1 L320.9,1723.1 L320.9,1722.1 L320.9,1721.1 L320.9,1720.1 L320.9,1719.1 L320.9,1718.1 L320.9,1717.1 L320.9,1716.1 L320.9,1715.1 L320.9,1714.1 L320.9,1713.1 L320.9,1712.1 L320.9,1711.1 L320.9,1710.1 L320.9,1709.1 L320.9,1708.1 L320.9,1707.1 L320.9,1706.1 L320.9,1705.1 L320.9,1704.1 L320.9,1703.1 L320.9,1702.1 L320.9,1701.1 L320.9,1700.1 L320.9,1699.1 L320.9,1698.1 L320.9,1697.1 L320.9,1696.1 L320.9,1695.1 L320.9,1694.1 L320.9,1693.1 L320.9,1692.1 L320.9,1691.1 L320.9,1690.1 L320.9,1689.1 L320.9,1688.1 L320.9,1687.1 L320.9,1686.1 L320.9,1685.1 L320.9,1684.1 L320.9,1683.1 L320.9,1682.1 L320.9,1681.1 L320.9,1680.1 L320.9,1679.1 L320.9,1678.1 L320.9,1677.1 L320.9,1676.1 L320.9,1675.1 L320.9,1674.1 L320.9,1673.1 L320.9,1672.1 L320.9,1671.1 L320.9,1670.1 L320.9,1669.1 L320.9,1668.1 L320.9,1667.1 L320.9,1666.1 L320.9,1665.1 L320.9,1664.1 L320.9,1663.1 L320.9,1662.1 L320.9,1661.1 L320.9,1660.1 L320.9,1659.1 L320.9,1658.1 L320.9,1657.1 L320.9,1656.1 L320.9,1655.1 L320.9,1654.1 L320.9,1653.1 L320.9,1652.1 L320.9,1651.1 L320.9,1650.1 L320.9,1649.1 L320.9,1648.1 L320.9,1647.1 L320.9,1646.1 L320.9,1645.1 L320.9,1644.1 L320.9,1643.1 L320.9,1642.1 L320.9,1641.1 L320.9,1640.1 L320.9,1639.1 L320.9,1638.1 L320.9,1637.1 L320.9,1636.1 L320.9,1635.1 L320.9,1634.1 L320.9,1633.1 L320.9,1632.1 L320.9,1631.1 L320.9,1630.1 L320.9,1629.1 L320.9,1628.1 L320.9,1627.1 L320.9,1626.1 L320.9,1625.1 L320.9,1624.1 L320.9,1623.1 L320.9,1622.1 L320.9,1621.1 L320.9,1620.1 L320.9,1619.1 L320.9,1618.1 L320.9,1617.1 L320.9,1616.1 L320.9,1615.1 L320.9,1614.1 L320.9,1613.1 L320.9,1612.1 L320.9,1611.1 L320.9,1610.1 L320.9,1609.1 L320.9,1608.1 L320.9,1607.1 L320.9,1606.1 L320.9,1605.1 L320.9,1604.1 L320.9,1603.1 L320.9,1602.1 L320.9,1601.1 L320.9,1600.1 L320.9,1599.1 L320.9,1598.1 L320.9,1597.1 L320.9,1596.1 L320.9,1595.1 L320.9,1594.1 L320.9,1593.1 L320.9,1592.1 L320.9,1591.1 L320.9,1590.1 L320.9,1589.1 L320.9,1588.1 L320.9,1587.1 L320.9,1586.1 L320.9,1585.1 L320.9,1584.1 L320.9,1583.1 L320.9,1582.1 L320.9,1581.1 L320.9,1580.1 L320.9,1579.1 L320.9,1578.1 L320.9,1577.1 L320.9,1576.1 L320.9,1575.1 L320.9,1574.1 L320.9,1573.1 L320.9,1572.1 L320.9,1571.1 L320.9,1570.1 L320.9,1569.1 L320.9,1568.1 L320.9,1567.1 L320.9,1566.1 L320.9,1565.1 L320.9,1564.1 L320.9,1563.1 L320.9,1562.1 L320.9,1561.1 L320.9,1560.1 L320.9,1559.1 L320.9,1558.1 L320.9,1557.1 L320.9,1556.1 L320.9,1555.1 L320.9,1554.1 L320.9,1553.1 L320.9,1552.1 L320.9,1551.1 L320.9,1550.1 L320.9,1549.1 L320.9,1548.1 L320.9,1547.1 L320.9,1546.1 L320.9,1545.1 L320.9,1544.1 L320.9,1543.1 L320.9,1542.1 L320.9,1541.1 L320.9,1540.1 L320.9,1539.1 L320.9,1538.1 L320.9,1537.1 L320.9,1536.1 L320.9,1535.1 L320.9,1534.1 L320.9,1533.1 L320.9,1532.1 L320.9,1531.1 L320.9,1530.1 L320.9,1529.1 L320.9,1528.1 L320.9,1527.1 L320.9,1526.1 L320.9,1525.1 L320.9,1524.1 L320.9,1523.1 L320.9,1522.1 L320.9,1521.1 L320.9,1520.1 L320.9,1519.1 L320.9,1518.1 L320.9,1517.1 L320.9,1516.1 L320.9,1515.1 L320.9,1514.1 L320.9,1513.1 L320.9,1512.1 L320.9,1511.1 L320.9,1510.1 L320.9,1509.1 L320.9,1508.1 L320.9,1507.1 L320.9,1506.1 L320.9,1505.1 L320.9,1504.1 L320.9,1503.1 L320.9,1502.1 L320.9,1501.1 L320.9,1500.1 L320.9,1499.1 L320.9,1498.1 L320.9,1497.1 L320.9,1496.1 L320.9,1495.1 L320.9,1494.1 L320.9,1493.1 L320.9,1492.1 L320.9,1491.1 L320.9,1490.1 L320.9,1489.1 L320.9,1488.1 L320.9,1487.1 L320.9,1486.1 L320.9,1485.1 L320.9,1484.1 L320.9,1483.1 L320.9,1482.1 L320.9,1481.1 L320.9,1480.1 L320.9,1479.1 L320.9,1478.1 L320.9,1477.1 L320.9,1476.1 L320.9,1475.1 L320.9,1474.1 L320.9,1473.1 L320.9,1472.1 L320.9,1471.1 L320.9,1470.1 L320.9,1469.1 L320.9,1468.1 L320.9,1467.1 L320.9,1466.1 L320.9,1465.1 L320.9,1464.1 L320.9,1463.1 L320.9,1462.1 L320.9,1461.1 L320.9,1460.1 L320.9,1459.1 L320.9,1458.1 L320.9,1457.1 L320.9,1456.1 L320.9,1455.1 L320.9,1454.1 L320.9,1453.1 L320.9,1452.1 L320.9,1451.1 L320.9,1450.1 L320.9,1449.1 L320.9,1448.1 L320.9,1447.1 L320.9,1446.1 L320.9,1445.1 L320.9,1444.1 L320.9,1443.1 L320.9,1442.1 L320.9,1441.1 L320.9,1440.1 L320.9,1439.1 L320.9,1438.1 L320.9,1437.1 L320.9,1436.1 L320.9,1435.1 L320.9,1434.1 L320.9,1433.1 L320.9,1432.1 L320.9,1431.1 L320.9,1430.1 L320.9,1429.1 L320.9,1428.1 L320.9,1427.1 L320.9,1426.1 L320.9,1425.1 L320.9,1424.1 L320.9,1423.1 L320.9,1422.1 L320.9,1421.1 L320.9,1420.1 L320.9,1419.1 L320.9,1418.1 L320.9,1417.1 L320.9,1416.1 L320.9,1415.1 L320.9,1414.1 L320.9,1413.1 L320.9,1412.1 L320.9,1411.1 L320.9,1410.1 L320.9,1409.1 L320.9,1408.1 L320.9,1407.1 L320.9,1406.1 L320.9,1405.1 L320.9,1404.1 L320.9,1403.1 L320.9,1402.1 L320.9,1401.1 L320.9,1400.1 L320.9,1399.1 L320.9,1398.1 L320.9,1397.1 L320.9,1396.1 L320.9,1395.1 L320.9,1394.1 L320.9,1393.1 L320.9,1392.1 L320.9,1391.1 L320.9,1390.1 L320.9,1389.1 L320.9,1388.1 L320.9,1387.1 L320.9,1386.1 L320.9,1385.1 L320.9,1384.1 L320.9,1383.1 L320.9,1382.1 L320.9,1381.1 L320.9,1380.1 L320.9,1379.1 L320.9,1378.1 L320.9,1377.1 L320.9,1376.1 L320.9,1375.1 L320.9,1374.1 L320.9,1373.1 L320.9,1372.1 L320.9,1371.1 L320.9,1370.1 L320.9,1369.1 L320.9,1368.1 L320.9,1367.1 L320.9,1366.1 L320.9,1365.1 L320.9,1364.1 L320.9,1363.1 L320.91,1362.1 L320.91,1361.1 L320.91,1360.1 L320.91,1359.1 L320.91,1358.1 L320.91,1357.1 L320.91,1356.1 L320.91,1355.1 L320.92,1354.1 L320.92,1353.1 L320.92,1352.1 L320.92,1351.1 L320.93,1350.1 L320.93,1349.1 L320.93,1348.1 L320.93,1347.1 L320.94,1346.1 L320.94,1345.1 L320.94,1344.1 L320.94,1343.1 L320.95,1342.1 L320.95,1341.1 L320.96,1340.1 L320.96,1339.1 L320.96,1338.1 L320.97,1337.1 L320.97,1336.1 L320.98,1335.1 L320.98,1334.1 L320.99,1333.1 L321,1332.1 L321.01,1331.1 L321.02,1330.1 L321.03,1329.1 L321.04,1328.1 L321.06,1327.1 L321.08,1326.1 L321.11,1325.1 L321.13,1324.1 L321.16,1323.1 L321.2,1322.1 L321.24,1321.1 L321.28,1320.1 L321.33,1319.1 L321.38,1318.1 L321.43,1317.1 L321.49,1316.1 L321.56,1315.1 L321.62,1314.1 L321.69,1313.1 L321.77,1312.1 L321.84,1311.1 L321.92,1310.1 L322.01,1309.1 L322.1,1308.1 L322.19,1307.1 L322.28,1306.1 L322.38,1305.1 L322.48,1304.1 L322.58,1303.1 L322.68,1302.1 L322.79,1301.1 L322.9,1300.1 L323.02,1299.1 L323.14,1298.1 L323.27,1297.1 L323.4,1296.1 L323.53,1295.1 L323.68,1294.1 L323.83,1293.1 L324,1292.1 L324.18,1291.1 L324.37,1290.1 L324.57,1289.1 L324.79,1288.1 L325.03,1287.1 L325.28,1286.1 L325.55,1285.1 L325.83,1284.1 L326.13,1283.1 L326.45,1282.1 L326.79,1281.1 L327.14,1280.1 L327.5,1279.1 L327.88,1278.1 L328.27,1277.1 L328.68,1276.1 L329.1,1275.1 L329.52,1274.1 L329.96,1273.1 L330.41,1272.1 L330.87,1271.1 L331.34,1270.1 L331.82,1269.1 L332.3,1268.1 L332.79,1267.1 L333.29,1266.1 L333.79,1265.1 L334.3,1264.1 L334.81,1263.1 L335.33,1262.1 L335.85,1261.1 L336.38,1260.1 L336.91,1259.1 L337.45,1258.1 L337.99,1257.1 L338.55,1256.1 L339.11,1255.1 L339.68,1254.1 L340.27,1253.1 L340.86,1252.1 L341.47,1251.1 L342.09,1250.1 L342.72,1249.1 L343.37,1248.1 L344.04,1247.1 L344.71,1246.1 L345.4,1245.1 L346.1,1244.1 L346.82,1243.1 L347.54,1242.1 L348.28,1241.1 L349.03,1240.1 L349.78,1239.1 L350.55,1238.1 L351.32,1237.1 L352.11,1236.1 L352.89,1235.1 L353.69,1234.1 L354.49,1233.1 L355.3,1232.1 L356.1,1231.1 L356.92,1230.1 L357.74,1229.1 L358.55,1228.1 L359.38,1227.1 L360.2,1226.1 L361.02,1225.1 L361.85,1224.1 L362.68,1223.1 L363.5,1222.1 L364.33,1221.1 L365.17,1220.1 L366,1219.1 L366.84,1218.1 L367.68,1217.1 L368.53,1216.1 L369.38,1215.1 L370.23,1214.1 L371.09,1213.1 L371.96,1212.1 L372.83,1211.1 L373.7,1210.1 L374.59,1209.1 L375.47,1208.1 L376.36,1207.1 L377.26,1206.1 L378.16,1205.1 L379.07,1204.1 L379.97,1203.1 L380.88,1202.1 L381.8,1201.1 L382.71,1200.1 L383.63,1199.1 L384.55,1198.1 L385.47,1197.1 L386.39,1196.1 L387.32,1195.1 L388.24,1194.1 L389.16,1193.1 L390.08,1192.1 L391,1191.1 L391.92,1190.1 L392.84,1189.1 L393.76,1188.1 L394.68,1187.1 L395.59,1186.1 L396.51,1185.1 L397.42,1184.1 L398.34,1183.1 L399.25,1182.1 L400.17,1181.1 L401.08,1180.1 L402,1179.1 L402.92,1178.1 L403.84,1177.1 L404.76,1176.1 L405.68,1175.1 L406.6,1174.1 L407.53,1173.1 L408.45,1172.1 L409.38,1171.1 L410.31,1170.1 L411.23,1169.1 L412.16,1168.1 L413.08,1167.1 L414.01,1166.1 L414.93,1165.1 L415.85,1164.1 L416.76,1163.1 L417.68,1162.1 L418.59,1161.1 L419.49,1160.1 L420.4,1159.1 L421.29,1158.1 L422.19,1157.1 L423.07,1156.1 L423.96,1155.1 L424.83,1154.1 L425.7,1153.1 L426.56,1152.1 L427.42,1151.1 L428.27,1150.1 L429.11,1149.1 L429.95,1148.1 L430.78,1147.1 L431.6,1146.1 L432.42,1145.1 L433.23,1144.1 L434.04,1143.1 L434.84,1142.1 L435.64,1141.1 L436.43,1140.1 L437.22,1139.1 L438,1138.1 L438.78,1137.1 L439.56,1136.1 L440.33,1135.1 L441.09,1134.1 L441.86,1133.1 L442.62,1132.1 L443.37,1131.1 L444.12,1130.1 L444.87,1129.1 L445.61,1128.1 L446.35,1127.1 L447.08,1126.1 L447.81,1125.1 L448.53,1124.1 L449.26,1123.1 L449.97,1122.1 L450.68,1121.1 L451.39,1120.1 L452.09,1119.1 L452.79,1118.1 L453.48,1117.1 L454.17,1116.1 L454.85,1115.1 L455.53,1114.1 L456.2,1113.1 L456.87,1112.1 L457.53,1111.1 L458.18,1110.1 L458.83,1109.1 L459.47,1108.1 L460.1,1107.1 L460.73,1106.1 L461.35,1105.1 L461.96,1104.1 L462.57,1103.1 L463.17,1102.1 L463.78,1101.1 L464.37,1100.1 L464.97,1099.1 L465.57,1098.1 L466.16,1097.1 L466.76,1096.1 L467.36,1095.1 L467.97,1094.1 L468.58,1093.1 L469.2,1092.1 L469.82,1091.1 L470.44,1090.1 L471.08,1089.1 L471.72,1088.1 L472.36,1087.1 L473.02,1086.1 L473.67,1085.1 L474.33,1084.1 L475,1083.1 L475.66,1082.1 L476.32,1081.1 L476.99,1080.1 L477.65,1079.1 L478.3,1078.1 L478.95,1077.1 L479.6,1076.1 L480.23,1075.1 L480.86,1074.1 L481.48,1073.1 L482.09,1072.1 L482.69,1071.1 L483.28,1070.1 L483.87,1069.1 L484.45,1068.1 L485.01,1067.1 L485.58,1066.1 L486.13,1065.1 L486.68,1064.1 L487.22,1063.1 L487.76,1062.1 L488.29,1061.1 L488.8,1060.1 L489.31,1059.1 L489.82,1058.1 L490.31,1057.1 L490.79,1056.1 L491.26,1055.1 L491.72,1054.1 L492.16,1053.1 L492.6,1052.1 L493.03,1051.1 L493.44,1050.1 L493.84,1049.1 L494.23,1048.1 L494.62,1047.1 L494.99,1046.1 L495.35,1045.1 L495.71,1044.1 L496.06,1043.1 L496.4,1042.1 L496.73,1041.1 L497.05,1040.1 L497.37,1039.1 L497.68,1038.1 L497.98,1037.1 L498.27,1036.1 L498.55,1035.1 L498.82,1034.1 L499.09,1033.1 L499.34,1032.1 L499.59,1031.1 L499.82,1030.1 L500.04,1029.1 L500.26,1028.1 L500.46,1027.1 L500.66,1026.1 L500.85,1025.1 L501.02,1024.1 L501.19,1023.1 L501.36,1022.1 L501.51,1021.1 L501.67,1020.1 L501.81,1019.1 L501.95,1018.1 L502.09,1017.1 L502.22,1016.1 L502.34,1015.1 L502.46,1014.1 L502.58,1013.1 L502.69,1012.1 L502.8,1011.1 L502.91,1010.1 L503.01,1009.1 L503.11,1008.1 L503.2,1007.1 L503.29,1006.1 L503.38,1005.1 L503.46,1004.1 L503.55,1003.1 L503.62,1002.1 L503.7,1001.1 L503.77,1000.1 L503.84,999.1 L503.91,998.1 L503.97,997.1 L504.04,996.1 L504.1,995.1 L504.16,994.1 L504.22,993.1 L504.27,992.1 L504.33,991.1 L504.38,990.1 L504.44,989.1 L504.49,988.1 L504.54,987.1 L504.6,986.1 L504.65,985.1 L504.7,984.1 L504.75,983.1 L504.81,982.1 L504.86,981.1 L504.91,980.1 L504.97,979.1 L505.02,978.1 L505.07,977.1 L505.13,976.1 L505.18,975.1 L505.23,974.1 L505.29,973.1 L505.34,972.1 L505.39,971.1 L505.45,970.1 L505.5,969.1 L505.55,968.1 L505.61,967.1 L505.66,966.1 L505.71,965.1 L505.76,964.1 L505.82,963.1 L505.87,962.1 L505.92,961.1 L505.98,960.1 L506.03,959.1 L506.08,958.1 L506.14,957.1 L506.19,956.1 L506.25,955.1 L506.3,954.1 L506.36,953.1 L506.42,952.1 L506.47,951.1 L506.53,950.1 L506.58,949.1 L506.64,948.1 L506.7,947.1 L506.75,946.1 L506.8,945.1 L506.86,944.1 L506.91,943.1 L506.96,942.1 L507.01,941.1 L507.06,940.1 L507.11,939.1 L507.15,938.1 L507.2,937.1 L507.24,936.1 L507.28,935.1 L507.33,934.1 L507.37,933.1 L507.4,932.1 L507.44,931.1 L507.48,930.1 L507.52,929.1 L507.55,928.1 L507.59,927.1 L507.62,926.1 L507.66,925.1 L507.69,924.1 L507.72,923.1 L507.75,922.1 L507.78,921.1 L507.81,920.1 L507.84,919.1 L507.87,918.1 L507.9,917.1 L507.93,916.1 L507.96,915.1 L507.99,914.1 L508.01,913.1 L508.04,912.1 L508.06,911.1 L508.08,910.1 L508.1,909.1 L508.12,908.1 L508.14,907.1 L508.16,906.1 L508.18,905.1 L508.2,904.1 L508.4,904.1 L508.43,905.1 L508.45,906.1 L508.48,907.1 L508.5,908.1 L508.53,909.1 L508.56,910.1 L508.58,911.1 L508.61,912.1 L508.64,913.1 L508.67,914.1 L508.7,915.1 L508.73,916.1 L508.76,917.1 L508.79,918.1 L508.83,919.1 L508.86,920.1 L508.89,921.1 L508.93,922.1 L508.96,923.1 L509,924.1 L509.03,925.1 L509.07,926.1 L509.1,927.1 L509.14,928.1 L509.18,929.1 L509.21,930.1 L509.25,931.1 L509.29,932.1 L509.33,933.1 L509.37,934.1 L509.41,935.1 L509.45,936.1 L509.49,937.1 L509.54,938.1 L509.58,939.1 L509.63,940.1 L509.67,941.1 L509.72,942.1 L509.77,943.1 L509.82,944.1 L509.86,945.1 L509.91,946.1 L509.96,947.1 L510.01,948.1 L510.06,949.1 L510.11,950.1 L510.17,951.1 L510.22,952.1 L510.27,953.1 L510.32,954.1 L510.37,955.1 L510.42,956.1 L510.47,957.1 L510.52,958.1 L510.57,959.1 L510.62,960.1 L510.67,961.1 L510.72,962.1 L510.77,963.1 L510.81,964.1 L510.86,965.1 L510.91,966.1 L510.96,967.1 L511.01,968.1 L511.06,969.1 L511.11,970.1 L511.16,971.1 L511.21,972.1 L511.25,973.1 L511.3,974.1 L511.35,975.1 L511.4,976.1 L511.44,977.1 L511.49,978.1 L511.54,979.1 L511.58,980.1 L511.62,981.1 L511.67,982.1 L511.71,983.1 L511.75,984.1 L511.8,985.1 L511.84,986.1 L511.88,987.1 L511.92,988.1 L511.96,989.1 L512,990.1 L512.04,991.1 L512.08,992.1 L512.13,993.1 L512.17,994.1 L512.22,995.1 L512.26,996.1 L512.31,997.1 L512.36,998.1 L512.42,999.1 L512.47,1000.1 L512.53,1001.1 L512.59,1002.1 L512.65,1003.1 L512.72,1004.1 L512.79,1005.1 L512.87,1006.1 L512.94,1007.1 L513.03,1008.1 L513.11,1009.1 L513.2,1010.1 L513.29,1011.1 L513.39,1012.1 L513.49,1013.1 L513.59,1014.1 L513.7,1015.1 L513.82,1016.1 L513.93,1017.1 L514.05,1018.1 L514.18,1019.1 L514.31,1020.1 L514.45,1021.1 L514.59,1022.1 L514.73,1023.1 L514.89,1024.1 L515.05,1025.1 L515.21,1026.1 L515.39,1027.1 L515.57,1028.1 L515.76,1029.1 L515.96,1030.1 L516.17,1031.1 L516.39,1032.1 L516.62,1033.1 L516.86,1034.1 L517.1,1035.1 L517.36,1036.1 L517.62,1037.1 L517.89,1038.1 L518.17,1039.1 L518.46,1040.1 L518.76,1041.1 L519.06,1042.1 L519.38,1043.1 L519.7,1044.1 L520.03,1045.1 L520.37,1046.1 L520.73,1047.1 L521.09,1048.1 L521.46,1049.1 L521.85,1050.1 L522.25,1051.1 L522.66,1052.1 L523.09,1053.1 L523.53,1054.1 L523.98,1055.1 L524.45,1056.1 L524.93,1057.1 L525.42,1058.1 L525.92,1059.1 L526.43,1060.1 L526.96,1061.1 L527.49,1062.1 L528.03,1063.1 L528.57,1064.1 L529.13,1065.1 L529.69,1066.1 L530.26,1067.1 L530.83,1068.1 L531.42,1069.1 L532.01,1070.1 L532.61,1071.1 L533.22,1072.1 L533.83,1073.1 L534.46,1074.1 L535.09,1075.1 L535.73,1076.1 L536.38,1077.1 L537.04,1078.1 L537.71,1079.1 L538.38,1080.1 L539.06,1081.1 L539.74,1082.1 L540.43,1083.1 L541.12,1084.1 L541.8,1085.1 L542.49,1086.1 L543.18,1087.1 L543.87,1088.1 L544.56,1089.1 L545.25,1090.1 L545.94,1091.1 L546.63,1092.1 L547.31,1093.1 L548,1094.1 L548.69,1095.1 L549.37,1096.1 L550.06,1097.1 L550.75,1098.1 L551.43,1099.1 L552.12,1100.1 L552.8,1101.1 L553.49,1102.1 L554.17,1103.1 L554.85,1104.1 L555.53,1105.1 L556.21,1106.1 L556.88,1107.1 L557.55,1108.1 L558.22,1109.1 L558.89,1110.1 L559.55,1111.1 L560.21,1112.1 L560.87,1113.1 L561.52,1114.1 L562.17,1115.1 L562.82,1116.1 L563.47,1117.1 L564.11,1118.1 L564.75,1119.1 L565.39,1120.1 L566.03,1121.1 L566.66,1122.1 L567.3,1123.1 L567.94,1124.1 L568.57,1125.1 L569.21,1126.1 L569.84,1127.1 L570.48,1128.1 L571.12,1129.1 L571.76,1130.1 L572.4,1131.1 L573.04,1132.1 L573.69,1133.1 L574.34,1134.1 L574.99,1135.1 L575.65,1136.1 L576.31,1137.1 L576.97,1138.1 L577.64,1139.1 L578.32,1140.1 L579,1141.1 L579.68,1142.1 L580.37,1143.1 L581.07,1144.1 L581.78,1145.1 L582.49,1146.1 L583.2,1147.1 L583.92,1148.1 L584.65,1149.1 L585.39,1150.1 L586.13,1151.1 L586.87,1152.1 L587.63,1153.1 L588.39,1154.1 L589.15,1155.1 L589.92,1156.1 L590.69,1157.1 L591.47,1158.1 L592.25,1159.1 L593.03,1160.1 L593.82,1161.1 L594.61,1162.1 L595.41,1163.1 L596.2,1164.1 L597,1165.1 L597.8,1166.1 L598.6,1167.1 L599.4,1168.1 L600.21,1169.1 L601.01,1170.1 L601.81,1171.1 L602.62,1172.1 L603.42,1173.1 L604.22,1174.1 L605.02,1175.1 L605.82,1176.1 L606.62,1177.1 L607.42,1178.1 L608.21,1179.1 L609.01,1180.1 L609.8,1181.1 L610.59,1182.1 L611.38,1183.1 L612.17,1184.1 L612.95,1185.1 L613.74,1186.1 L614.53,1187.1 L615.31,1188.1 L616.1,1189.1 L616.89,1190.1 L617.67,1191.1 L618.46,1192.1 L619.24,1193.1 L620.03,1194.1 L620.82,1195.1 L621.6,1196.1 L622.39,1197.1 L623.17,1198.1 L623.96,1199.1 L624.74,1200.1 L625.53,1201.1 L626.31,1202.1 L627.1,1203.1 L627.88,1204.1 L628.66,1205.1 L629.44,1206.1 L630.22,1207.1 L631,1208.1 L631.78,1209.1 L632.56,1210.1 L633.34,1211.1 L634.11,1212.1 L634.89,1213.1 L635.66,1214.1 L636.44,1215.1 L637.21,1216.1 L637.98,1217.1 L638.75,1218.1 L639.53,1219.1 L640.3,1220.1 L641.07,1221.1 L641.84,1222.1 L642.62,1223.1 L643.39,1224.1 L644.17,1225.1 L644.94,1226.1 L645.72,1227.1 L646.49,1228.1 L647.27,1229.1 L648.04,1230.1 L648.82,1231.1 L649.59,1232.1 L650.37,1233.1 L651.14,1234.1 L651.91,1235.1 L652.68,1236.1 L653.44,1237.1 L654.21,1238.1 L654.97,1239.1 L655.72,1240.1 L656.48,1241.1 L657.23,1242.1 L657.97,1243.1 L658.72,1244.1 L659.45,1245.1 L660.19,1246.1 L660.91,1247.1 L661.64,1248.1 L662.35,1249.1 L663.07,1250.1 L663.78,1251.1 L664.49,1252.1 L665.19,1253.1 L665.89,1254.1 L666.59,1255.1 L667.29,1256.1 L667.99,1257.1 L668.69,1258.1 L669.39,1259.1 L670.1,1260.1 L670.81,1261.1 L671.51,1262.1 L672.23,1263.1 L672.94,1264.1 L673.65,1265.1 L674.36,1266.1 L675.07,1267.1 L675.78,1268.1 L676.48,1269.1 L677.18,1270.1 L677.87,1271.1 L678.55,1272.1 L679.23,1273.1 L679.89,1274.1 L680.54,1275.1 L681.18,1276.1 L681.8,1277.1 L682.41,1278.1 L683,1279.1 L683.58,1280.1 L684.13,1281.1 L684.66,1282.1 L685.17,1283.1 L685.66,1284.1 L686.13,1285.1 L686.57,1286.1 L686.99,1287.1 L687.39,1288.1 L687.76,1289.1 L688.11,1290.1 L688.44,1291.1 L688.75,1292.1 L689.04,1293.1 L689.32,1294.1 L689.59,1295.1 L689.85,1296.1 L690.09,1297.1 L690.33,1298.1 L690.56,1299.1 L690.78,1300.1 L691,1301.1 L691.21,1302.1 L691.41,1303.1 L691.62,1304.1 L691.81,1305.1 L692,1306.1 L692.19,1307.1 L692.37,1308.1 L692.54,1309.1 L692.71,1310.1 L692.87,1311.1 L693.03,1312.1 L693.17,1313.1 L693.32,1314.1 L693.45,1315.1 L693.58,1316.1 L693.7,1317.1 L693.81,1318.1 L693.91,1319.1 L694.01,1320.1 L694.1,1321.1 L694.18,1322.1 L694.26,1323.1 L694.32,1324.1 L694.38,1325.1 L694.43,1326.1 L694.48,1327.1 L694.51,1328.1 L694.55,1329.1 L694.58,1330.1 L694.6,1331.1 L694.62,1332.1 L694.64,1333.1 L694.66,1334.1 L694.67,1335.1 L694.69,1336.1 L694.7,1337.1 L694.71,1338.1 L694.72,1339.1 L694.74,1340.1 L694.75,1341.1 L694.76,1342.1 L694.77,1343.1 L694.77,1344.1 L694.78,1345.1 L694.79,1346.1 L694.8,1347.1 L694.81,1348.1 L694.82,1349.1 L694.82,1350.1 L694.83,1351.1 L694.84,1352.1 L694.84,1353.1 L694.85,1354.1 L694.85,1355.1 L694.86,1356.1 L694.87,1357.1 L694.87,1358.1 L694.87,1359.1 L694.88,1360.1 L694.88,1361.1 L694.88,1362.1 L694.89,1363.1 L694.89,1364.1 L694.89,1365.1 L694.89,1366.1 L694.89,1367.1 L694.9,1368.1 L694.9,1369.1 L694.9,1370.1 L694.9,1371.1 L694.9,1372.1 L694.9,1373.1 L694.9,1374.1 L694.9,1375.1 L694.9,1376.1 L694.9,1377.1 L694.9,1378.1 L694.9,1379.1 L694.9,1380.1 L694.9,1381.1 L694.9,1382.1 L694.9,1383.1 L694.9,1384.1 L694.9,1385.1 L694.9,1386.1 L694.9,1387.1 L694.9,1388.1 L694.9,1389.1 L694.9,1390.1 L694.9,1391.1 L694.9,1392.1 L694.9,1393.1 L694.9,1394.1 L694.9,1395.1 L694.9,1396.1 L694.9,1397.1 L694.9,1398.1 L694.9,1399.1 L694.9,1400.1 L694.9,1401.1 L694.9,1402.1 L694.9,1403.1 L694.9,1404.1 L694.9,1405.1 L694.9,1406.1 L694.9,1407.1 L694.9,1408.1 L694.9,1409.1 L694.9,1410.1 L694.9,1411.1 L694.9,1412.1 L694.9,1413.1 L694.9,1414.1 L694.9,1415.1 L694.9,1416.1 L694.9,1417.1 L694.9,1418.1 L694.9,1419.1 L694.9,1420.1 L694.9,1421.1 L694.9,1422.1 L694.9,1423.1 L694.9,1424.1 L694.9,1425.1 L694.9,1426.1 L694.9,1427.1 L694.9,1428.1 L694.9,1429.1 L694.9,1430.1 L694.9,1431.1 L694.9,1432.1 L694.9,1433.1 L694.9,1434.1 L694.9,1435.1 L694.9,1436.1 L694.9,1437.1 L694.9,1438.1 L694.9,1439.1 L694.9,1440.1 L694.9,1441.1 L694.9,1442.1 L694.9,1443.1 L694.9,1444.1 L694.9,1445.1 L694.9,1446.1 L694.9,1447.1 L694.9,1448.1 L694.9,1449.1 L694.9,1450.1 L694.9,1451.1 L694.9,1452.1 L694.9,1453.1 L694.9,1454.1 L694.9,1455.1 L694.9,1456.1 L694.9,1457.1 L694.9,1458.1 L694.9,1459.1 L694.9,1460.1 L694.9,1461.1 L694.9,1462.1 L694.9,1463.1 L694.9,1464.1 L694.9,1465.1 L694.9,1466.1 L694.9,1467.1 L694.9,1468.1 L694.9,1469.1 L694.9,1470.1 L694.9,1471.1 L694.9,1472.1 L694.9,1473.1 L694.9,1474.1 L694.9,1475.1 L694.9,1476.1 L694.9,1477.1 L694.9,1478.1 L694.9,1479.1 L694.9,1480.1 L694.9,1481.1 L694.9,1482.1 L694.9,1483.1 L694.9,1484.1 L694.9,1485.1 L694.9,1486.1 L694.9,1487.1 L694.9,1488.1 L694.9,1489.1 L694.9,1490.1 L694.9,1491.1 L694.9,1492.1 L694.9,1493.1 L694.9,1494.1 L694.9,1495.1 L694.9,1496.1 L694.9,1497.1 L694.9,1498.1 L694.9,1499.1 L694.9,1500.1 L694.9,1501.1 L694.9,1502.1 L694.9,1503.1 L694.9,1504.1 L694.9,1505.1 L694.9,1506.1 L694.9,1507.1 L694.9,1508.1 L694.9,1509.1 L694.9,1510.1 L694.9,1511.1 L694.9,1512.1 L694.9,1513.1 L694.9,1514.1 L694.9,1515.1 L694.9,1516.1 L694.9,1517.1 L694.9,1518.1 L694.9,1519.1 L694.9,1520.1 L694.9,1521.1 L694.9,1522.1 L694.9,1523.1 L694.9,1524.1 L694.9,1525.1 L694.9,1526.1 L694.9,1527.1 L694.9,1528.1 L694.9,1529.1 L694.9,1530.1 L694.9,1531.1 L694.9,1532.1 L694.9,1533.1 L694.9,1534.1 L694.9,1535.1 L694.9,1536.1 L694.9,1537.1 L694.9,1538.1 L694.9,1539.1 L694.9,1540.1 L694.9,1541.1 L694.9,1542.1 L694.9,1543.1 L694.9,1544.1 L694.9,1545.1 L694.9,1546.1 L694.9,1547.1 L694.9,1548.1 L694.9,1549.1 L694.9,1550.1 L694.9,1551.1 L694.9,1552.1 L694.9,1553.1 L694.9,1554.1 L694.9,1555.1 L694.9,1556.1 L694.9,1557.1 L694.9,1558.1 L694.9,1559.1 L694.9,1560.1 L694.9,1561.1 L694.9,1562.1 L694.9,1563.1 L694.9,1564.1 L694.9,1565.1 L694.9,1566.1 L694.9,1567.1 L694.9,1568.1 L694.9,1569.1 L694.9,1570.1 L694.9,1571.1 L694.9,1572.1 L694.9,1573.1 L694.9,1574.1 L694.9,1575.1 L694.9,1576.1 L694.9,1577.1 L694.9,1578.1 L694.9,1579.1 L694.9,1580.1 L694.9,1581.1 L694.9,1582.1 L694.9,1583.1 L694.9,1584.1 L694.9,1585.1 L694.9,1586.1 L694.9,1587.1 L694.9,1588.1 L694.9,1589.1 L694.9,1590.1 L694.9,1591.1 L694.9,1592.1 L694.9,1593.1 L694.9,1594.1 L694.9,1595.1 L694.9,1596.1 L694.9,1597.1 L694.9,1598.1 L694.9,1599.1 L694.9,1600.1 L694.9,1601.1 L694.9,1602.1 L694.9,1603.1 L694.9,1604.1 L694.9,1605.1 L694.9,1606.1 L694.9,1607.1 L694.9,1608.1 L694.9,1609.1 L694.9,1610.1 L694.9,1611.1 L694.9,1612.1 L694.9,1613.1 L694.9,1614.1 L694.9,1615.1 L694.9,1616.1 L694.9,1617.1 L694.9,1618.1 L694.9,1619.1 L694.9,1620.1 L694.9,1621.1 L694.9,1622.1 L694.9,1623.1 L694.9,1624.1 L694.9,1625.1 L694.9,1626.1 L694.9,1627.1 L694.9,1628.1 L694.9,1629.1 L694.9,1630.1 L694.9,1631.1 L694.9,1632.1 L694.9,1633.1 L694.9,1634.1 L694.9,1635.1 L694.9,1636.1 L694.9,1637.1 L694.9,1638.1 L694.9,1639.1 L694.9,1640.1 L694.9,1641.1 L694.9,1642.1 L694.9,1643.1 L694.9,1644.1 L694.9,1645.1 L694.9,1646.1 L694.9,1647.1 L694.9,1648.1 L694.9,1649.1 L694.9,1650.1 L694.9,1651.1 L694.9,1652.1 L694.9,1653.1 L694.9,1654.1 L694.9,1655.1 L694.9,1656.1 L694.9,1657.1 L694.9,1658.1 L694.9,1659.1 L694.9,1660.1 L694.9,1661.1 L694.9,1662.1 L694.9,1663.1 L694.9,1664.1 L694.9,1665.1 L694.9,1666.1 L694.9,1667.1 L694.9,1668.1 L694.9,1669.1 L694.9,1670.1 L694.9,1671.1 L694.9,1672.1 L694.9,1673.1 L694.9,1674.1 L694.9,1675.1 L694.9,1676.1 L694.9,1677.1 L694.9,1678.1 L694.9,1679.1 L694.9,1680.1 L694.9,1681.1 L694.9,1682.1 L694.9,1683.1 L694.9,1684.1 L694.9,1685.1 L694.9,1686.1 L694.9,1687.1 L694.9,1688.1 L694.9,1689.1 L694.9,1690.1 L694.9,1691.1 L694.9,1692.1 L694.9,1693.1 L694.9,1694.1 L694.9,1695.1 L694.9,1696.1 L694.9,1697.1 L694.9,1698.1 L694.9,1699.1 L694.9,1700.1 L694.9,1701.1 L694.9,1702.1 L694.9,1703.1 L694.9,1704.1 L694.9,1705.1 L694.9,1706.1 L694.9,1707.1 L694.9,1708.1 L694.9,1709.1 L694.9,1710.1 L694.9,1711.1 L694.9,1712.1 L694.9,1713.1 L694.9,1714.1 L694.9,1715.1 L694.9,1716.1 L694.9,1717.1 L694.9,1718.1 L694.9,1719.1 L694.9,1720.1 L694.9,1721.1 L694.9,1722.1 L694.9,1723.1 L694.9,1724.1 L694.9,1725.1 L694.9,1726.1 L694.9,1727.1 L694.9,1728.1 L694.9,1729.1 L694.9,1730.1 L694.9,1731.1 L694.9,1732.1 L694.9,1733.1 L694.9,1734.1 L694.9,1735.1 L694.9,1736.1 L694.9,1737.1 L694.9,1738.1 L694.9,1739.1 L694.9,1740.1 L694.9,1741.1 L694.9,1742.1 L694.9,1743.1 L694.9,1744.1 L694.9,1745.1 L694.9,1746.1 L694.9,1747.1 L694.9,1748.1 L694.9,1749.1 L694.9,1750.1 L694.9,1751.1 L694.9,1752.1 L694.9,1753.1 L694.9,1754.1 L694.9,1755.1 L694.9,1756.1 L694.9,1757.1 L694.9,1758.1 L694.9,1759.1 L694.9,1760.1 L694.9,1761.1 L694.9,1762.1 L694.9,1763.1 L694.9,1764.1 L694.9,1765.1 L694.9,1766.1 L694.9,1767.1 L694.9,1768.1 L694.9,1769.1 L694.9,1770.1 L694.9,1771.1 L694.9,1772.1 L694.9,1773.1 L694.9,1774.1 L694.9,1775.1 L694.9,1776.1 L694.9,1777.1 L694.9,1778.1 L694.9,1779.1 L694.9,1780.1 L694.9,1781.1 L694.9,1782.1 L694.9,1783.1 L694.9,1784.1 L694.9,1785.1 L694.9,1786.1 L694.9,1787.1 L694.9,1788.1 L694.9,1789.1 L694.9,1790.1 L694.9,1791.1 L694.9,1792.1 L694.9,1793.1 L694.9,1794.1 L694.9,1795.1 L694.9,1796.1 L694.9,1797.1 L694.9,1798.1 L694.9,1799.1 L694.9,1800.1 L694.9,1801.1 L694.9,1802.1 L694.9,1803.1 L694.9,1804.1 L694.9,1805.1 L694.9,1806.1 L694.9,1807.1 L694.9,1808.1 L694.9,1809.1 L694.9,1810.1 L694.9,1811.1 L694.9,1812.1 L694.9,1813.1 L694.9,1814.1 L694.9,1815.1 L694.9,1816.1 L694.9,1817.1 L694.9,1818.1 L694.9,1819.1 L694.9,1820.1 L694.9,1821.1 L694.9,1822.1 L694.9,1823.1 L694.9,1824.1 L694.9,1825.1 L694.9,1826.1 L694.9,1827.1 L694.9,1828.1 L694.9,1829.1 L694.9,1830.1 L694.9,1831.1 L694.9,1832.1 L694.9,1833.1 L694.9,1834.1 L694.9,1835.1 L694.9,1836.1 L694.9,1837.1 L694.9,1838.1 L694.9,1839.1 L694.9,1840.1 L694.9,1841.1 L694.9,1842.1 L694.9,1843.1 L694.9,1844.1 L694.9,1845.1 L694.9,1846.1 L694.9,1847.1 L694.9,1848.1 L694.9,1849.1 L694.9,1850.1 L694.9,1851.1 L694.9,1852.1 L694.9,1853.1 L694.9,1854.1 L694.9,1854.2 Z" fill="#df8283"/>
<path d="M320.9,1854.2 L320.9,1854.1 L320.9,1853.1 L320.9,1852.1 L320.9,1851.1 L320.9,1850.1 L320.9,1849.1 L320.9,1848.1 L320.9,1847.1 L320.9,1846.1 L320.9,1845.1 L320.9,1844.1 L320.9,1843.1 L320.9,1842.1 L320.9,1841.1 L320.9,1840.1 L320.9,1839.1 L320.9,1838.1 L320.9,1837.1 L320.9,1836.1 L320.9,1835.1 L320.9,1834.1 L320.9,1833.1 L320.9,1832.1 L320.9,1831.1 L320.9,1830.1 L320.9,1829.1 L320.9,1828.1 L320.9,1827.1 L320.9,1826.1 L320.9,1825.1 L320.9,1824.1 L320.9,1823.1 L320.9,1822.1 L320.9,1821.1 L320.9,1820.1 L320.9,1819.1 L320.9,1818.1 L320.9,1817.1 L320.9,1816.1 L320.9,1815.1 L320.9,1814.1 L320.9,1813.1 L320.9,1812.1 L320.9,1811.1 L320.9,1810.1 L320.9,1809.1 L320.9,1808.1 L320.9,1807.1 L320.9,1806.1 L320.9,1805.1 L320.9,1804.1 L320.9,1803.1 L320.9,1802.1 L320.9,1801.1 L320.9,1800.1 L320.9,1799.1 L320.9,1798.1 L320.9,1797.1 L320.9,1796.1 L320.9,1795.1 L320.9,1794.1 L320.9,1793.1 L320.9,1792.1 L320.9,1791.1 L320.9,1790.1 L320.9,1789.1 L320.9,1788.1 L320.9,1787.1 L320.9,1786.1 L320.9,1785.1 L320.9,1784.1 L320.9,1783.1 L320.9,1782.1 L320.9,1781.1 L320.9,1780.1 L320.9,1779.1 L320.9,1778.1 L320.9,1777.1 L320.9,1776.1 L320.9,1775.1 L320.9,1774.1 L320.9,1773.1 L320.9,1772.1 L320.9,1771.1 L320.9,1770.1 L320.9,1769.1 L320.9,1768.1 L320.9,1767.1 L320.9,1766.1 L320.9,1765.1 L320.9,1764.1 L320.9,1763.1 L320.9,1762.1 L320.9,1761.1 L320.9,1760.1 L320.9,1759.1 L320.9,1758.1 L320.9,1757.1 L320.9,1756.1 L320.9,1755.1 L320.9,1754.1 L320.9,1753.1 L320.9,1752.1 L320.9,1751.1 L320.9,1750.1 L320.9,1749.1 L320.9,1748.1 L320.9,1747.1 L320.9,1746.1 L320.9,1745.1 L320.9,1744.1 L320.9,1743.1 L320.9,1742.1 L320.9,1741.1 L320.9,1740.1 L320.9,1739.1 L320.9,1738.1 L320.9,1737.1 L320.9,1736.1 L320.9,1735.1 L320.9,1734.1 L320.9,1733.1 L320.9,1732.1 L320.9,1731.1 L320.9,1730.1 L320.9,1729.1 L320.9,1728.1 L320.9,1727.1 L320.9,1726.1 L320.9,1725.1 L320.9,1724.1 L320.9,1723.1 L320.9,1722.1 L320.9,1721.1 L320.9,1720.1 L320.9,1719.1 L320.9,1718.1 L320.9,1717.1 L320.9,1716.1 L320.9,1715.1 L320.9,1714.1 L320.9,1713.1 L320.9,1712.1 L320.9,1711.1 L320.9,1710.1 L320.9,1709.1 L320.9,1708.1 L320.9,1707.1 L320.9,1706.1 L320.9,1705.1 L320.9,1704.1 L320.9,1703.1 L320.9,1702.1 L320.9,1701.1 L320.9,1700.1 L320.9,1699.1 L320.9,1698.1 L320.9,1697.1 L320.9,1696.1 L320.9,1695.1 L320.9,1694.1 L320.9,1693.1 L320.9,1692.1 L320.9,1691.1 L320.9,1690.1 L320.9,1689.1 L320.9,1688.1 L320.9,1687.1 L320.9,1686.1 L320.9,1685.1 L320.9,1684.1 L320.9,1683.1 L320.9,1682.1 L320.9,1681.1 L320.9,1680.1 L320.9,1679.1 L320.9,1678.1 L320.9,1677.1 L320.9,1676.1 L320.9,1675.1 L320.9,1674.1 L320.9,1673.1 L320.9,1672.1 L320.9,1671.1 L320.9,1670.1 L320.9,1669.1 L320.9,1668.1 L320.9,1667.1 L320.9,1666.1 L320.9,1665.1 L320.9,1664.1 L320.9,1663.1 L320.9,1662.1 L320.9,1661.1 L320.9,1660.1 L320.9,1659.1 L320.9,1658.1 L320.9,1657.1 L320.9,1656.1 L320.9,1655.1 L320.9,1654.1 L320.9,1653.1 L320.9,1652.1 L320.9,1651.1 L320.9,1650.1 L320.9,1649.1 L320.9,1648.1 L320.9,1647.1 L320.9,1646.1 L320.9,1645.1 L320.9,1644.1 L320.9,1643.1 L320.9,1642.1 L320.9,1641.1 L320.9,1640.1 L320.9,1639.1 L320.9,1638.1 L320.9,1637.1 L320.9,1636.1 L320.9,1635.1 L320.9,1634.1 L320.9,1633.1 L320.9,1632.1 L320.9,1631.1 L320.9,1630.1 L320.9,1629.1 L320.9,1628.1 L320.9,1627.1 L320.9,1626.1 L320.9,1625.1 L320.9,1624.1 L320.9,1623.1 L320.9,1622.1 L320.9,1621.1 L320.9,1620.1 L320.9,1619.1 L320.9,1618.1 L320.9,1617.1 L320.9,1616.1 L320.9,1615.1 L320.9,1614.1 L320.9,1613.1 L320.9,1612.1 L320.9,1611.1 L320.9,1610.1 L320.9,1609.1 L320.9,1608.1 L320.9,1607.1 L320.9,1606.1 L320.9,1605.1 L320.9,1604.1 L320.9,1603.1 L320.9,1602.1 L320.9,1601.1 L320.9,1600.1 L320.9,1599.1 L320.9,1598.1 L320.9,1597.1 L320.9,1596.1 L320.9,1595.1 L320.9,1594.1 L320.9,1593.1 L320.9,1592.1 L320.9,1591.1 L320.9,1590.1 L320.9,1589.1 L320.9,1588.1 L320.9,1587.1 L320.9,1586.1 L320.9,1585.1 L320.9,1584.1 L320.9,1583.1 L320.9,1582.1 L320.9,1581.1 L320.9,1580.1 L320.9,1579.1 L320.9,1578.1 L320.9,1577.1 L320.9,1576.1 L320.9,1575.1 L320.9,1574.1 L320.9,1573.1 L320.9,1572.1 L320.9,1571.1 L320.9,1570.1 L320.9,1569.1 L320.9,1568.1 L320.9,1567.1 L320.9,1566.1 L320.9,1565.1 L320.9,1564.1 L320.9,1563.1 L320.9,1562.1 L320.9,1561.1 L320.9,1560.1 L320.9,1559.1 L320.9,1558.1 L320.9,1557.1 L320.9,1556.1 L320.9,1555.1 L320.9,1554.1 L320.9,1553.1 L320.9,1552.1 L320.9,1551.1 L320.9,1550.1 L320.9,1549.1 L320.9,1548.1 L320.9,1547.1 L320.9,1546.1 L320.9,1545.1 L320.9,1544.1 L320.9,1543.1 L320.9,1542.1 L320.9,1541.1 L320.9,1540.1 L320.9,1539.1 L320.9,1538.1 L320.9,1537.1 L320.9,1536.1 L320.9,1535.1 L320.9,1534.1 L320.9,1533.1 L320.9,1532.1 L320.9,1531.1 L320.9,1530.1 L320.9,1529.1 L320.9,1528.1 L320.9,1527.1 L320.9,1526.1 L320.9,1525.1 L320.9,1524.1 L320.9,1523.1 L320.9,1522.1 L320.9,1521.1 L320.9,1520.1 L320.9,1519.1 L320.9,1518.1 L320.9,1517.1 L320.9,1516.1 L320.9,1515.1 L320.9,1514.1 L320.9,1513.1 L320.9,1512.1 L320.9,1511.1 L320.9,1510.1 L320.9,1509.1 L320.9,1508.1 L320.9,1507.1 L320.9,1506.1 L320.9,1505.1 L320.9,1504.1 L320.9,1503.1 L320.9,1502.1 L320.9,1501.1 L320.9,1500.1 L320.9,1499.1 L320.9,1498.1 L320.9,1497.1 L320.9,1496.1 L320.9,1495.1 L320.9,1494.1 L320.9,1493.1 L320.9,1492.1 L320.9,1491.1 L320.9,1490.1 L320.9,1489.1 L320.9,1488.1 L320.9,1487.1 L320.9,1486.1 L320.9,1485.1 L320.9,1484.1 L320.9,1483.1 L320.9,1482.1 L320.9,1481.1 L320.9,1480.1 L320.9,1479.1 L320.9,1478.1 L320.9,1477.1 L320.9,1476.1 L320.9,1475.1 L320.9,1474.1 L320.9,1473.1 L320.9,1472.1 L320.9,1471.1 L320.9,1470.1 L320.9,1469.1 L320.9,1468.1 L320.9,1467.1 L320.9,1466.1 L320.9,1465.1 L320.9,1464.1 L320.9,1463.1 L320.9,1462.1 L320.9,1461.1 L320.9,1460.1 L320.9,1459.1 L320.9,1458.1 L320.9,1457.1 L320.9,1456.1 L320.9,1455.1 L320.9,1454.1 L320.9,1453.1 L320.9,1452.1 L320.9,1451.1 L320.9,1450.1 L320.9,1449.1 L320.9,1448.1 L320.9,1447.1 L320.9,1446.1 L320.9,1445.1 L320.9,1444.1 L320.9,1443.1 L320.9,1442.1 L320.9,1441.1 L320.9,1440.1 L320.9,1439.1 L320.9,1438.1 L320.9,1437.1 L320.9,1436.1 L320.9,1435.1 L320.9,1434.1 L320.9,1433.1 L320.9,1432.1 L320.9,1431.1 L320.9,1430.1 L320.9,1429.1 L320.9,1428.1 L320.9,1427.1 L320.9,1426.1 L320.9,1425.1 L320.9,1424.1 L320.9,1423.1 L320.9,1422.1 L320.9,1421.1 L320.9,1420.1 L320.9,1419.1 L320.9,1418.1 L320.9,1417.1 L320.9,1416.1 L320.9,1415.1 L320.9,1414.1 L320.9,1413.1 L320.9,1412.1 L320.9,1411.1 L320.9,1410.1 L320.9,1409.1 L320.9,1408.1 L320.9,1407.1 L320.9,1406.1 L320.9,1405.1 L320.9,1404.1 L320.9,1403.1 L320.9,1402.1 L320.9,1401.1 L320.9,1400.1 L320.9,1399.1 L320.9,1398.1 L320.9,1397.1 L320.9,1396.1 L320.9,1395.1 L320.9,1394.1 L320.9,1393.1 L320.9,1392.1 L320.9,1391.1 L320.9,1390.1 L320.9,1389.1 L320.9,1388.1 L320.9,1387.1 L320.9,1386.1 L320.9,1385.1 L320.9,1384.1 L320.9,1383.1 L320.9,1382.1 L320.9,1381.1 L320.9,1380.1 L320.9,1379.1 L320.9,1378.1 L320.9,1377.1 L320.9,1376.1 L320.9,1375.1 L320.9,1374.1 L320.9,1373.1 L320.9,1372.1 L320.9,1371.1 L320.9,1370.1 L320.9,1369.1 L320.9,1368.1 L320.9,1367.1 L320.9,1366.1 L320.9,1365.1 L320.9,1364.1 L320.9,1363.1 L320.91,1362.1 L320.91,1361.1 L320.91,1360.1 L320.91,1359.1 L320.91,1358.1 L320.91,1357.1 L320.91,1356.1 L320.91,1355.1 L320.92,1354.1 L320.92,1353.1 L320.92,1352.1 L320.92,1351.1 L320.93,1350.1 L320.93,1349.1 L320.93,1348.1 L320.93,1347.1 L320.94,1346.1 L320.94,1345.1 L320.94,1344.1 L320.94,1343.1 L320.95,1342.1 L320.95,1341.1 L320.96,1340.1 L320.96,1339.1 L320.96,1338.1 L320.97,1337.1 L320.97,1336.1 L320.98,1335.1 L320.98,1334.1 L320.99,1333.1 L321,1332.1 L321.01,1331.1 L321.02,1330.1 L321.03,1329.1 L321.04,1328.1 L321.06,1327.1 L321.08,1326.1 L321.11,1325.1 L321.13,1324.1 L321.16,1323.1 L321.2,1322.1 L321.24,1321.1 L321.28,1320.1 L321.33,1319.1 L321.38,1318.1 L321.43,1317.1 L321.49,1316.1 L321.56,1315.1 L321.62,1314.1 L321.69,1313.1 L321.77,1312.1 L321.84,1311.1 L321.92,1310.1 L322.01,1309.1 L322.1,1308.1 L322.19,1307.1 L322.28,1306.1 L322.38,1305.1 L322.48,1304.1 L322.58,1303.1 L322.68,1302.1 L322.79,1301.1 L322.9,1300.1 L323.02,1299.1 L323.14,1298.1 L323.27,1297.1 L323.4,1296.1 L323.53,1295.1 L323.68,1294.1 L323.83,1293.1 L324,1292.1 L324.18,1291.1 L324.37,1290.1 L324.57,1289.1 L324.79,1288.1 L325.03,1287.1 L325.28,1286.1 L325.55,1285.1 L325.83,1284.1 L326.13,1283.1 L326.45,1282.1 L326.79,1281.1 L327.14,1280.1 L327.5,1279.1 L327.88,1278.1 L328.27,1277.1 L328.68,1276.1 L329.1,1275.1 L329.52,1274.1 L329.96,1273.1 L330.41,1272.1 L330.87,1271.1 L331.34,1270.1 L331.82,1269.1 L332.3,1268.1 L332.79,1267.1 L333.29,1266.1 L333.79,1265.1 L334.3,1264.1 L334.81,1263.1 L335.33,1262.1 L335.85,1261.1 L336.38,1260.1 L336.91,1259.1 L337.45,1258.1 L337.99,1257.1 L338.55,1256.1 L339.11,1255.1 L339.68,1254.1 L340.27,1253.1 L340.86,1252.1 L341.47,1251.1 L342.09,1250.1 L342.72,1249.1 L343.37,1248.1 L344.04,1247.1 L344.71,1246.1 L345.4,1245.1 L346.1,1244.1 L346.82,1243.1 L347.54,1242.1 L348.28,1241.1 L349.03,1240.1 L349.78,1239.1 L350.55,1238.1 L351.32,1237.1 L352.11,1236.1 L352.89,1235.1 L353.69,1234.1 L354.49,1233.1 L355.3,1232.1 L356.1,1231.1 L356.92,1230.1 L357.74,1229.1 L358.55,1228.1 L359.38,1227.1 L360.2,1226.1 L361.02,1225.1 L361.85,1224.1 L362.68,1223.1 L363.5,1222.1 L364.33,1221.1 L365.17,1220.1 L366,1219.1 L366.84,1218.1 L367.68,1217.1 L368.53,1216.1 L369.38,1215.1 L370.23,1214.1 L371.09,1213.1 L371.96,1212.1 L372.83,1211.1 L373.7,1210.1 L374.59,1209.1 L375.47,1208.1 L376.36,1207.1 L377.26,1206.1 L378.16,1205.1 L379.07,1204.1 L379.97,1203.1 L380.88,1202.1 L381.8,1201.1 L382.71,1200.1 L383.63,1199.1 L384.55,1198.1 L385.47,1197.1 L386.39,1196.1 L387.32,1195.1 L388.24,1194.1 L389.16,1193.1 L390.08,1192.1 L391,1191.1 L391.92,1190.1 L392.84,1189.1 L393.76,1188.1 L394.68,1187.1 L395.59,1186.1 L396.51,1185.1 L397.42,1184.1 L398.34,1183.1 L399.25,1182.1 L400.17,1181.1 L401.08,1180.1 L402,1179.1 L402.92,1178.1 L403.84,1177.1 L404.76,1176.1 L405.68,1175.1 L406.6,1174.1 L407.53,1173.1 L408.45,1172.1 L409.38,1171.1 L410.31,1170.1 L411.23,1169.1 L412.16,1168.1 L413.08,1167.1 L414.01,1166.1 L414.93,1165.1 L415.85,1164.1 L416.76,1163.1 L417.68,1162.1 L418.59,1161.1 L419.49,1160.1 L420.4,1159.1 L421.29,1158.1 L422.19,1157.1 L423.07,1156.1 L423.96,1155.1 L424.83,1154.1 L425.7,1153.1 L426.56,1152.1 L427.42,1151.1 L428.27,1150.1 L429.11,1149.1 L429.95,1148.1 L430.78,1147.1 L431.6,1146.1 L432.42,1145.1 L433.23,1144.1 L434.04,1143.1 L434.84,1142.1 L435.64,1141.1 L436.43,1140.1 L437.22,1139.1 L438,1138.1 L438.78,1137.1 L439.56,1136.1 L440.33,1135.1 L441.09,1134.1 L441.86,1133.1 L442.62,1132.1 L443.37,1131.1 L444.12,1130.1 L444.87,1129.1 L445.61,1128.1 L446.35,1127.1 L447.08,1126.1 L447.81,1125.1 L448.53,1124.1 L449.26,1123.1 L449.97,1122.1 L450.68,1121.1 L451.39,1120.1 L452.09,1119.1 L452.79,1118.1 L453.48,1117.1 L454.17,1116.1 L454.85,1115.1 L455.53,1114.1 L456.2,1113.1 L456.87,1112.1 L457.53,1111.1 L458.18,1110.1 L458.83,1109.1 L459.47,1108.1 L460.1,1107.1 L460.73,1106.1 L461.35,1105.1 L461.96,1104.1 L462.57,1103.1 L463.17,1102.1 L463.78,1101.1 L464.37,1100.1 L464.97,1099.1 L465.57,1098.1 L466.16,1097.1 L466.76,1096.1 L467.36,1095.1 L467.97,1094.1 L468.58,1093.1 L469.2,1092.1 L469.82,1091.1 L470.44,1090.1 L471.08,1089.1 L471.72,1088.1 L472.36,1087.1 L473.02,1086.1 L473.67,1085.1 L474.33,1084.1 L475,1083.1 L475.66,1082.1 L476.32,1081.1 L476.99,1080.1 L477.65,1079.1 L478.3,1078.1 L478.95,1077.1 L479.6,1076.1 L480.23,1075.1 L480.86,1074.1 L481.48,1073.1 L482.09,1072.1 L482.69,1071.1 L483.28,1070.1 L483.87,1069.1 L484.45,1068.1 L485.01,1067.1 L485.58,1066.1 L486.13,1065.1 L486.68,1064.1 L487.22,1063.1 L487.76,1062.1 L488.29,1061.1 L488.8,1060.1 L489.31,1059.1 L489.82,1058.1 L490.31,1057.1 L490.79,1056.1 L491.26,1055.1 L491.72,1054.1 L492.16,1053.1 L492.6,1052.1 L493.03,1051.1 L493.44,1050.1 L493.84,1049.1 L494.23,1048.1 L494.62,1047.1 L494.99,1046.1 L495.35,1045.1 L495.71,1044.1 L496.06,1043.1 L496.4,1042.1 L496.73,1041.1 L497.05,1040.1 L497.37,1039.1 L497.68,1038.1 L497.98,1037.1 L498.27,1036.1 L498.55,1035.1 L498.82,1034.1 L499.09,1033.1 L499.34,1032.1 L499.59,1031.1 L499.82,1030.1 L500.04,1029.1 L500.26,1028.1 L500.46,1027.1 L500.66,1026.1 L500.85,1025.1 L501.02,1024.1 L501.19,1023.1 L501.36,1022.1 L501.51,1021.1 L501.67,1020.1 L501.81,1019.1 L501.95,1018.1 L502.09,1017.1 L502.22,1016.1 L502.34,1015.1 L502.46,1014.1 L502.58,1013.1 L502.69,1012.1 L502.8,1011.1 L502.91,1010.1 L503.01,1009.1 L503.11,1008.1 L503.2,1007.1 L503.29,1006.1 L503.38,1005.1 L503.46,1004.1 L503.55,1003.1 L503.62,1002.1 L503.7,1001.1 L503.77,1000.1 L503.84,999.1 L503.91,998.1 L503.97,997.1 L504.04,996.1 L504.1,995.1 L504.16,994.1 L504.22,993.1 L504.27,992.1 L504.33,991.1 L504.38,990.1 L504.44,989.1 L504.49,988.1 L504.54,987.1 L504.6,986.1 L504.65,985.1 L504.7,984.1 L504.75,983.1 L504.81,982.1 L504.86,981.1 L504.91,980.1 L504.97,979.1 L505.02,978.1 L505.07,977.1 L505.13,976.1 L505.18,975.1 L505.23,974.1 L505.29,973.1 L505.34,972.1 L505.39,971.1 L505.45,970.1 L505.5,969.1 L505.55,968.1 L505.61,967.1 L505.66,966.1 L505.71,965.1 L505.76,964.1 L505.82,963.1 L505.87,962.1 L505.92,961.1 L505.98,960.1 L506.03,959.1 L506.08,958.1 L506.14,957.1 L506.19,956.1 L506.25,955.1 L506.3,954.1 L506.36,953.1 L506.42,952.1 L506.47,951.1 L506.53,950.1 L506.58,949.1 L506.64,948.1 L506.7,947.1 L506.75,946.1 L506.8,945.1 L506.86,944.1 L506.91,943.1 L506.96,942.1 L507.01,941.1 L507.06,940.1 L507.11,939.1 L507.15,938.1 L507.2,937.1 L507.24,936.1 L507.28,935.1 L507.33,934.1 L507.37,933.1 L507.4,932.1 L507.44,931.1 L507.48,930.1 L507.52,929.1 L507.55,928.1 L507.59,927.1 L507.62,926.1 L507.66,925.1 L507.69,924.1 L507.72,923.1 L507.75,922.1 L507.78,921.1 L507.81,920.1 L507.84,919.1 L507.87,918.1 L507.9,917.1 L507.93,916.1 L507.96,915.1 L507.99,914.1 L508.01,913.1 L508.04,912.1 L508.06,911.1 L508.08,910.1 L508.1,909.1 L508.12,908.1 L508.14,907.1 L508.16,906.1 L508.18,905.1 L508.2,904.1 L508.4,904.1 L508.43,905.1 L508.45,906.1 L508.48,907.1 L508.5,908.1 L508.53,909.1 L508.56,910.1 L508.58,911.1 L508.61,912.1 L508.64,913.1 L508.67,914.1 L508.7,915.1 L508.73,916.1 L508.76,917.1 L508.79,918.1 L508.83,919.1 L508.86,920.1 L508.89,921.1 L508.93,922.1 L508.96,923.1 L509,924.1 L509.03,925.1 L509.07,926.1 L509.1,927.1 L509.14,928.1 L509.18,929.1 L509.21,930.1 L509.25,931.1 L509.29,932.1 L509.33,933.1 L509.37,934.1 L509.41,935.1 L509.45,936.1 L509.49,937.1 L509.54,938.1 L509.58,939.1 L509.63,940.1 L509.67,941.1 L509.72,942.1 L509.77,943.1 L509.82,944.1 L509.86,945.1 L509.91,946.1 L509.96,947.1 L510.01,948.1 L510.06,949.1 L510.11,950.1 L510.17,951.1 L510.22,952.1 L510.27,953.1 L510.32,954.1 L510.37,955.1 L510.42,956.1 L510.47,957.1 L510.52,958.1 L510.57,959.1 L510.62,960.1 L510.67,961.1 L510.72,962.1 L510.77,963.1 L510.81,964.1 L510.86,965.1 L510.91,966.1 L510.96,967.1 L511.01,968.1 L511.06,969.1 L511.11,970.1 L511.16,971.1 L511.21,972.1 L511.25,973.1 L511.3,974.1 L511.35,975.1 L511.4,976.1 L511.44,977.1 L511.49,978.1 L511.54,979.1 L511.58,980.1 L511.62,981.1 L511.67,982.1 L511.71,983.1 L511.75,984.1 L511.8,985.1 L511.84,986.1 L511.88,987.1 L511.92,988.1 L511.96,989.1 L512,990.1 L512.04,991.1 L512.08,992.1 L512.13,993.1 L512.17,994.1 L512.22,995.1 L512.26,996.1 L512.31,997.1 L512.36,998.1 L512.42,999.1 L512.47,1000.1 L512.53,1001.1 L512.59,1002.1 L512.65,1003.1 L512.72,1004.1 L512.79,1005.1 L512.87,1006.1 L512.94,1007.1 L513.03,1008.1 L513.11,1009.1 L513.2,1010.1 L513.29,1011.1 L513.39,1012.1 L513.49,1013.1 L513.59,1014.1 L513.7,1015.1 L513.82,1016.1 L513.93,1017.1 L514.05,1018.1 L514.18,1019.1 L514.31,1020.1 L514.45,1021.1 L514.59,1022.1 L514.73,1023.1 L514.89,1024.1 L515.05,1025.1 L515.21,1026.1 L515.39,1027.1 L515.57,1028.1 L515.76,1029.1 L515.96,1030.1 L516.17,1031.1 L516.39,1032.1 L516.62,1033.1 L516.86,1034.1 L517.1,1035.1 L517.36,1036.1 L517.62,1037.1 L517.89,1038.1 L518.17,1039.1 L518.46,1040.1 L518.76,1041.1 L519.06,1042.1 L519.38,1043.1 L519.7,1044.1 L520.03,1045.1 L520.37,1046.1 L520.73,1047.1 L521.09,1048.1 L521.46,1049.1 L521.85,1050.1 L522.25,1051.1 L522.66,1052.1 L523.09,1053.1 L523.53,1054.1 L523.98,1055.1 L524.45,1056.1 L524.93,1057.1 L525.42,1058.1 L525.92,1059.1 L526.43,1060.1 L526.96,1061.1 L527.49,1062.1 L528.03,1063.1 L528.57,1064.1 L529.13,1065.1 L529.69,1066.1 L530.26,1067.1 L530.83,1068.1 L531.42,1069.1 L532.01,1070.1 L532.61,1071.1 L533.22,1072.1 L533.83,1073.1 L534.46,1074.1 L535.09,1075.1 L535.73,1076.1 L536.38,1077.1 L537.04,1078.1 L537.71,1079.1 L538.38,1080.1 L539.06,1081.1 L539.74,1082.1 L540.43,1083.1 L541.12,1084.1 L541.8,1085.1 L542.49,1086.1 L543.18,1087.1 L543.87,1088.1 L544.56,1089.1 L545.25,1090.1 L545.94,1091.1 L546.63,1092.1 L547.31,1093.1 L548,1094.1 L548.69,1095.1 L549.37,1096.1 L550.06,1097.1 L550.75,1098.1 L551.43,1099.1 L552.12,1100.1 L552.8,1101.1 L553.49,1102.1 L554.17,1103.1 L554.85,1104.1 L555.53,1105.1 L556.21,1106.1 L556.88,1107.1 L557.55,1108.1 L558.22,1109.1 L558.89,1110.1 L559.55,1111.1 L560.21,1112.1 L560.87,1113.1 L561.52,1114.1 L562.17,1115.1 L562.82,1116.1 L563.47,1117.1 L564.11,1118.1 L564.75,1119.1 L565.39,1120.1 L566.03,1121.1 L566.66,1122.1 L567.3,1123.1 L567.94,1124.1 L568.57,1125.1 L569.21,1126.1 L569.84,1127.1 L570.48,1128.1 L571.12,1129.1 L571.76,1130.1 L572.4,1131.1 L573.04,1132.1 L573.69,1133.1 L574.34,1134.1 L574.99,1135.1 L575.65,1136.1 L576.31,1137.1 L576.97,1138.1 L577.64,1139.1 L578.32,1140.1 L579,1141.1 L579.68,1142.1 L580.37,1143.1 L581.07,1144.1 L581.78,1145.1 L582.49,1146.1 L583.2,1147.1 L583.92,1148.1 L584.65,1149.1 L585.39,1150.1 L586.13,1151.1 L586.87,1152.1 L587.63,1153.1 L588.39,1154.1 L589.15,1155.1 L589.92,1156.1 L590.69,1157.1 L591.47,1158.1 L592.25,1159.1 L593.03,1160.1 L593.82,1161.1 L594.61,1162.1 L595.41,1163.1 L596.2,1164.1 L597,1165.1 L597.8,1166.1 L598.6,1167.1 L599.4,1168.1 L600.21,1169.1 L601.01,1170.1 L601.81,1171.1 L602.62,1172.1 L603.42,1173.1 L604.22,1174.1 L605.02,1175.1 L605.82,1176.1 L606.62,1177.1 L607.42,1178.1 L608.21,1179.1 L609.01,1180.1 L609.8,1181.1 L610.59,1182.1 L611.38,1183.1 L612.17,1184.1 L612.95,1185.1 L613.74,1186.1 L614.53,1187.1 L615.31,1188.1 L616.1,1189.1 L616.89,1190.1 L617.67,1191.1 L618.46,1192.1 L619.24,1193.1 L620.03,1194.1 L620.82,1195.1 L621.6,1196.1 L622.39,1197.1 L623.17,1198.1 L623.96,1199.1 L624.74,1200.1 L625.53,1201.1 L626.31,1202.1 L627.1,1203.1 L627.88,1204.1 L628.66,1205.1 L629.44,1206.1 L630.22,1207.1 L631,1208.1 L631.78,1209.1 L632.56,1210.1 L633.34,1211.1 L634.11,1212.1 L634.89,1213.1 L635.66,1214.1 L636.44,1215.1 L637.21,1216.1 L637.98,1217.1 L638.75,1218.1 L639.53,1219.1 L640.3,1220.1 L641.07,1221.1 L641.84,1222.1 L642.62,1223.1 L643.39,1224.1 L644.17,1225.1 L644.94,1226.1 L645.72,1227.1 L646.49,1228.1 L647.27,1229.1 L648.04,1230.1 L648.82,1231.1 L649.59,1232.1 L650.37,1233.1 L651.14,1234.1 L651.91,1235.1 L652.68,1236.1 L653.44,1237.1 L654.21,1238.1 L654.97,1239.1 L655.72,1240.1 L656.48,1241.1 L657.23,1242.1 L657.97,1243.1 L658.72,1244.1 L659.45,1245.1 L660.19,1246.1 L660.91,1247.1 L661.64,1248.1 L662.35,1249.1 L663.07,1250.1 L663.78,1251.1 L664.49,1252.1 L665.19,1253.1 L665.89,1254.1 L666.59,1255.1 L667.29,1256.1 L667.99,1257.1 L668.69,1258.1 L669.39,1259.1 L670.1,1260.1 L670.81,1261.1 L671.51,1262.1 L672.23,1263.1 L672.94,1264.1 L673.65,1265.1 L674.36,1266.1 L675.07,1267.1 L675.78,1268.1 L676.48,1269.1 L677.18,1270.1 L677.87,1271.1 L678.55,1272.1 L679.23,1273.1 L679.89,1274.1 L680.54,1275.1 L681.18,1276.1 L681.8,1277.1 L682.41,1278.1 L683,1279.1 L683.58,1280.1 L684.13,1281.1 L684.66,1282.1 L685.17,1283.1 L685.66,1284.1 L686.13,1285.1 L686.57,1286.1 L686.99,1287.1 L687.39,1288.1 L687.76,1289.1 L688.11,1290.1 L688.44,1291.1 L688.75,1292.1 L689.04,1293.1 L689.32,1294.1 L689.59,1295.1 L689.85,1296.1 L690.09,1297.1 L690.33,1298.1 L690.56,1299.1 L690.78,1300.1 L691,1301.1 L691.21,1302.1 L691.41,1303.1 L691.62,1304.1 L691.81,1305.1 L692,1306.1 L692.19,1307.1 L692.37,1308.1 L692.54,1309.1 L692.71,1310.1 L692.87,1311.1 L693.03,1312.1 L693.17,1313.1 L693.32,1314.1 L693.45,1315.1 L693.58,1316.1 L693.7,1317.1 L693.81,1318.1 L693.91,1319.1 L694.01,1320.1 L694.1,1321.1 L694.18,1322.1 L694.26,1323.1 L694.32,1324.1 L694.38,1325.1 L694.43,1326.1 L694.48,1327.1 L694.51,1328.1 L694.55,1329.1 L694.58,1330.1 L694.6,1331.1 L694.62,1332.1 L694.64,1333.1 L694.66,1334.1 L694.67,1335.1 L694.69,1336.1 L694.7,1337.1 L694.71,1338.1 L694.72,1339.1 L694.74,1340.1 L694.75,1341.1 L694.76,1342.1 L694.77,1343.1 L694.77,1344.1 L694.78,1345.1 L694.79,1346.1 L694.8,1347.1 L694.81,1348.1 L694.82,1349.1 L694.82,1350.1 L694.83,1351.1 L694.84,1352.1 L694.84,1353.1 L694.85,1354.1 L694.85,1355.1 L694.86,1356.1 L694.87,1357.1 L694.87,1358.1 L694.87,1359.1 L694.88,1360.1 L694.88,1361.1 L694.88,1362.1 L694.89,1363.1 L694.89,1364.1 L694.89,1365.1 L694.89,1366.1 L694.89,1367.1 L694.9,1368.1 L694.9,1369.1 L694.9,1370.1 L694.9,1371.1 L694.9,1372.1 L694.9,1373.1 L694.9,1374.1 L694.9,1375.1 L694.9,1376.1 L694.9,1377.1 L694.9,1378.1 L694.9,1379.1 L694.9,1380.1 L694.9,1381.1 L694.9,1382.1 L694.9,1383.1 L694.9,1384.1 L694.9,1385.1 L694.9,1386.1 L694.9,1387.1 L694.9,1388.1 L694.9,1389.1 L694.9,1390.1 L694.9,1391.1 L694.9,1392.1 L694.9,1393.1 L694.9,1394.1 L694.9,1395.1 L694.9,1396.1 L694.9,1397.1 L694.9,1398.1 L694.9,1399.1 L694.9,1400.1 L694.9,1401.1 L694.9,1402.1 L694.9,1403.1 L694.9,1404.1 L694.9,1405.1 L694.9,1406.1 L694.9,1407.1 L694.9,1408.1 L694.9,1409.1 L694.9,1410.1 L694.9,1411.1 L694.9,1412.1 L694.9,1413.1 L694.9,1414.1 L694.9,1415.1 L694.9,1416.1 L694.9,1417.1 L694.9,1418.1 L694.9,1419.1 L694.9,1420.1 L694.9,1421.1 L694.9,1422.1 L694.9,1423.1 L694.9,1424.1 L694.9,1425.1 L694.9,1426.1 L694.9,1427.1 L694.9,1428.1 L694.9,1429.1 L694.9,1430.1 L694.9,1431.1 L694.9,1432.1 L694.9,1433.1 L694.9,1434.1 L694.9,1435.1 L694.9,1436.1 L694.9,1437.1 L694.9,1438.1 L694.9,1439.1 L694.9,1440.1 L694.9,1441.1 L694.9,1442.1 L694.9,1443.1 L694.9,1444.1 L694.9,1445.1 L694.9,1446.1 L694.9,1447.1 L694.9,1448.1 L694.9,1449.1 L694.9,1450.1 L694.9,1451.1 L694.9,1452.1 L694.9,1453.1 L694.9,1454.1 L694.9,1455.1 L694.9,1456.1 L694.9,1457.1 L694.9,1458.1 L694.9,1459.1 L694.9,1460.1 L694.9,1461.1 L694.9,1462.1 L694.9,1463.1 L694.9,1464.1 L694.9,1465.1 L694.9,1466.1 L694.9,1467.1 L694.9,1468.1 L694.9,1469.1 L694.9,1470.1 L694.9,1471.1 L694.9,1472.1 L694.9,1473.1 L694.9,1474.1 L694.9,1475.1 L694.9,1476.1 L694.9,1477.1 L694.9,1478.1 L694.9,1479.1 L694.9,1480.1 L694.9,1481.1 L694.9,1482.1 L694.9,1483.1 L694.9,1484.1 L694.9,1485.1 L694.9,1486.1 L694.9,1487.1 L694.9,1488.1 L694.9,1489.1 L694.9,1490.1 L694.9,1491.1 L694.9,1492.1 L694.9,1493.1 L694.9,1494.1 L694.9,1495.1 L694.9,1496.1 L694.9,1497.1 L694.9,1498.1 L694.9,1499.1 L694.9,1500.1 L694.9,1501.1 L694.9,1502.1 L694.9,1503.1 L694.9,1504.1 L694.9,1505.1 L694.9,1506.1 L694.9,1507.1 L694.9,1508.1 L694.9,1509.1 L694.9,1510.1 L694.9,1511.1 L694.9,1512.1 L694.9,1513.1 L694.9,1514.1 L694.9,1515.1 L694.9,1516.1 L694.9,1517.1 L694.9,1518.1 L694.9,1519.1 L694.9,1520.1 L694.9,1521.1 L694.9,1522.1 L694.9,1523.1 L694.9,1524.1 L694.9,1525.1 L694.9,1526.1 L694.9,1527.1 L694.9,1528.1 L694.9,1529.1 L694.9,1530.1 L694.9,1531.1 L694.9,1532.1 L694.9,1533.1 L694.9,1534.1 L694.9,1535.1 L694.9,1536.1 L694.9,1537.1 L694.9,1538.1 L694.9,1539.1 L694.9,1540.1 L694.9,1541.1 L694.9,1542.1 L694.9,1543.1 L694.9,1544.1 L694.9,1545.1 L694.9,1546.1 L694.9,1547.1 L694.9,1548.1 L694.9,1549.1 L694.9,1550.1 L694.9,1551.1 L694.9,1552.1 L694.9,1553.1 L694.9,1554.1 L694.9,1555.1 L694.9,1556.1 L694.9,1557.1 L694.9,1558.1 L694.9,1559.1 L694.9,1560.1 L694.9,1561.1 L694.9,1562.1 L694.9,1563.1 L694.9,1564.1 L694.9,1565.1 L694.9,1566.1 L694.9,1567.1 L694.9,1568.1 L694.9,1569.1 L694.9,1570.1 L694.9,1571.1 L694.9,1572.1 L694.9,1573.1 L694.9,1574.1 L694.9,1575.1 L694.9,1576.1 L694.9,1577.1 L694.9,1578.1 L694.9,1579.1 L694.9,1580.1 L694.9,1581.1 L694.9,1582.1 L694.9,1583.1 L694.9,1584.1 L694.9,1585.1 L694.9,1586.1 L694.9,1587.1 L694.9,1588.1 L694.9,1589.1 L694.9,1590.1 L694.9,1591.1 L694.9,1592.1 L694.9,1593.1 L694.9,1594.1 L694.9,1595.1 L694.9,1596.1 L694.9,1597.1 L694.9,1598.1 L694.9,1599.1 L694.9,1600.1 L694.9,1601.1 L694.9,1602.1 L694.9,1603.1 L694.9,1604.1 L694.9,1605.1 L694.9,1606.1 L694.9,1607.1 L694.9,1608.1 L694.9,1609.1 L694.9,1610.1 L694.9,1611.1 L694.9,1612.1 L694.9,1613.1 L694.9,1614.1 L694.9,1615.1 L694.9,1616.1 L694.9,1617.1 L694.9,1618.1 L694.9,1619.1 L694.9,1620.1 L694.9,1621.1 L694.9,1622.1 L694.9,1623.1 L694.9,1624.1 L694.9,1625.1 L694.9,1626.1 L694.9,1627.1 L694.9,1628.1 L694.9,1629.1 L694.9,1630.1 L694.9,1631.1 L694.9,1632.1 L694.9,1633.1 L694.9,1634.1 L694.9,1635.1 L694.9,1636.1 L694.9,1637.1 L694.9,1638.1 L694.9,1639.1 L694.9,1640.1 L694.9,1641.1 L694.9,1642.1 L694.9,1643.1 L694.9,1644.1 L694.9,1645.1 L694.9,1646.1 L694.9,1647.1 L694.9,1648.1 L694.9,1649.1 L694.9,1650.1 L694.9,1651.1 L694.9,1652.1 L694.9,1653.1 L694.9,1654.1 L694.9,1655.1 L694.9,1656.1 L694.9,1657.1 L694.9,1658.1 L694.9,1659.1 L694.9,1660.1 L694.9,1661.1 L694.9,1662.1 L694.9,1663.1 L694.9,1664.1 L694.9,1665.1 L694.9,1666.1 L694.9,1667.1 L694.9,1668.1 L694.9,1669.1 L694.9,1670.1 L694.9,1671.1 L694.9,1672.1 L694.9,1673.1 L694.9,1674.1 L694.9,1675.1 L694.9,1676.1 L694.9,1677.1 L694.9,1678.1 L694.9,1679.1 L694.9,1680.1 L694.9,1681.1 L694.9,1682.1 L694.9,1683.1 L694.9,1684.1 L694.9,1685.1 L694.9,1686.1 L694.9,1687.1 L694.9,1688.1 L694.9,1689.1 L694.9,1690.1 L694.9,1691.1 L694.9,1692.1 L694.9,1693.1 L694.9,1694.1 L694.9,1695.1 L694.9,1696.1 L694.9,1697.1 L694.9,1698.1 L694.9,1699.1 L694.9,1700.1 L694.9,1701.1 L694.9,1702.1 L694.9,1703.1 L694.9,1704.1 L694.9,1705.1 L694.9,1706.1 L694.9,1707.1 L694.9,1708.1 L694.9,1709.1 L694.9,1710.1 L694.9,1711.1 L694.9,1712.1 L694.9,1713.1 L694.9,1714.1 L694.9,1715.1 L694.9,1716.1 L694.9,1717.1 L694.9,1718.1 L694.9,1719.1 L694.9,1720.1 L694.9,1721.1 L694.9,1722.1 L694.9,1723.1 L694.9,1724.1 L694.9,1725.1 L694.9,1726.1 L694.9,1727.1 L694.9,1728.1 L694.9,1729.1 L694.9,1730.1 L694.9,1731.1 L694.9,1732.1 L694.9,1733.1 L694.9,1734.1 L694.9,1735.1 L694.9,1736.1 L694.9,1737.1 L694.9,1738.1 L694.9,1739.1 L694.9,1740.1 L694.9,1741.1 L694.9,1742.1 L694.9,1743.1 L694.9,1744.1 L694.9,1745.1 L694.9,1746.1 L694.9,1747.1 L694.9,1748.1 L694.9,1749.1 L694.9,1750.1 L694.9,1751.1 L694.9,1752.1 L694.9,1753.1 L694.9,1754.1 L694.9,1755.1 L694.9,1756.1 L694.9,1757.1 L694.9,1758.1 L694.9,1759.1 L694.9,1760.1 L694.9,1761.1 L694.9,1762.1 L694.9,1763.1 L694.9,1764.1 L694.9,1765.1 L694.9,1766.1 L694.9,1767.1 L694.9,1768.1 L694.9,1769.1 L694.9,1770.1 L694.9,1771.1 L694.9,1772.1 L694.9,1773.1 L694.9,1774.1 L694.9,1775.1 L694.9,1776.1 L694.9,1777.1 L694.9,1778.1 L694.9,1779.1 L694.9,1780.1 L694.9,1781.1 L694.9,1782.1 L694.9,1783.1 L694.9,1784.1 L694.9,1785.1 L694.9,1786.1 L694.9,1787.1 L694.9,1788.1 L694.9,1789.1 L694.9,1790.1 L694.9,1791.1 L694.9,1792.1 L694.9,1793.1 L694.9,1794.1 L694.9,1795.1 L694.9,1796.1 L694.9,1797.1 L694.9,1798.1 L694.9,1799.1 L694.9,1800.1 L694.9,1801.1 L694.9,1802.1 L694.9,1803.1 L694.9,1804.1 L694.9,1805.1 L694.9,1806.1 L694.9,1807.1 L694.9,1808.1 L694.9,1809.1 L694.9,1810.1 L694.9,1811.1 L694.9,1812.1 L694.9,1813.1 L694.9,1814.1 L694.9,1815.1 L694.9,1816.1 L694.9,1817.1 L694.9,1818.1 L694.9,1819.1 L694.9,1820.1 L694.9,1821.1 L694.9,1822.1 L694.9,1823.1 L694.9,1824.1 L694.9,1825.1 L694.9,1826.1 L694.9,1827.1 L694.9,1828.1 L694.9,1829.1 L694.9,1830.1 L694.9,1831.1 L694.9,1832.1 L694.9,1833.1 L694.9,1834.1 L694.9,1835.1 L694.9,1836.1 L694.9,1837.1 L694.9,1838.1 L694.9,1839.1 L694.9,1840.1 L694.9,1841.1 L694.9,1842.1 L694.9,1843.1 L694.9,1844.1 L694.9,1845.1 L694.9,1846.1 L694.9,1847.1 L694.9,1848.1 L694.9,1849.1 L694.9,1850.1 L694.9,1851.1 L694.9,1852.1 L694.9,1853.1 L694.9,1854.1 L694.9,1854.2" fill="none" stroke="#6b6b6b" stroke-width="1.7" stroke-linejoin="round"/>
<path d="M355.41,1854.2 L355.41,1853.7 L355.41,1852.7 L355.41,1851.7 L355.41,1850.7 L355.42,1849.7 L355.42,1848.7 L355.42,1847.7 L355.43,1846.7 L355.43,1845.7 L355.44,1844.7 L355.45,1843.7 L355.45,1842.7 L355.46,1841.7 L355.47,1840.7 L355.48,1839.7 L355.49,1838.7 L355.5,1837.7 L355.51,1836.7 L355.53,1835.7 L355.54,1834.7 L355.55,1833.7 L355.57,1832.7 L355.58,1831.7 L355.6,1830.7 L355.62,1829.7 L355.63,1828.7 L355.65,1827.7 L355.67,1826.7 L355.69,1825.7 L355.71,1824.7 L355.73,1823.7 L355.76,1822.7 L355.78,1821.7 L355.8,1820.7 L355.83,1819.7 L355.86,1818.7 L355.88,1817.7 L355.91,1816.7 L355.95,1815.7 L355.98,1814.7 L356.01,1813.7 L356.05,1812.7 L356.09,1811.7 L356.13,1810.7 L356.17,1809.7 L356.22,1808.7 L356.27,1807.7 L356.32,1806.7 L356.37,1805.7 L356.42,1804.7 L356.48,1803.7 L356.54,1802.7 L356.6,1801.7 L356.66,1800.7 L356.73,1799.7 L356.79,1798.7 L356.86,1797.7 L356.93,1796.7 L357.01,1795.7 L357.08,1794.7 L357.16,1793.7 L357.23,1792.7 L357.31,1791.7 L357.39,1790.7 L357.47,1789.7 L357.56,1788.7 L357.64,1787.7 L357.73,1786.7 L357.81,1785.7 L357.9,1784.7 L357.99,1783.7 L358.08,1782.7 L358.18,1781.7 L358.27,1780.7 L358.37,1779.7 L358.46,1778.7 L358.56,1777.7 L358.66,1776.7 L358.77,1775.7 L358.87,1774.7 L358.98,1773.7 L359.09,1772.7 L359.2,1771.7 L359.32,1770.7 L359.43,1769.7 L359.55,1768.7 L359.67,1767.7 L359.79,1766.7 L359.91,1765.7 L360.04,1764.7 L360.17,1763.7 L360.3,1762.7 L360.43,1761.7 L360.56,1760.7 L360.7,1759.7 L360.84,1758.7 L360.98,1757.7 L361.12,1756.7 L361.26,1755.7 L361.4,1754.7 L361.55,1753.7 L361.7,1752.7 L361.85,1751.7 L362,1750.7 L362.15,1749.7 L362.31,1748.7 L362.46,1747.7 L362.62,1746.7 L362.78,1745.7 L362.95,1744.7 L363.11,1743.7 L363.28,1742.7 L363.45,1741.7 L363.62,1740.7 L363.8,1739.7 L363.97,1738.7 L364.15,1737.7 L364.34,1736.7 L364.52,1735.7 L364.71,1734.7 L364.89,1733.7 L365.08,1732.7 L365.28,1731.7 L365.47,1730.7 L365.66,1729.7 L365.86,1728.7 L366.06,1727.7 L366.26,1726.7 L366.46,1725.7 L366.67,1724.7 L366.87,1723.7 L367.07,1722.7 L367.28,1721.7 L367.49,1720.7 L367.7,1719.7 L367.9,1718.7 L368.11,1717.7 L368.32,1716.7 L368.53,1715.7 L368.74,1714.7 L368.96,1713.7 L369.17,1712.7 L369.38,1711.7 L369.6,1710.7 L369.81,1709.7 L370.03,1708.7 L370.24,1707.7 L370.46,1706.7 L370.68,1705.7 L370.9,1704.7 L371.11,1703.7 L371.33,1702.7 L371.56,1701.7 L371.78,1700.7 L372,1699.7 L372.22,1698.7 L372.45,1697.7 L372.67,1696.7 L372.9,1695.7 L373.13,1694.7 L373.36,1693.7 L373.58,1692.7 L373.81,1691.7 L374.04,1690.7 L374.27,1689.7 L374.51,1688.7 L374.74,1687.7 L374.97,1686.7 L375.2,1685.7 L375.44,1684.7 L375.67,1683.7 L375.91,1682.7 L376.14,1681.7 L376.38,1680.7 L376.62,1679.7 L376.86,1678.7 L377.09,1677.7 L377.33,1676.7 L377.57,1675.7 L377.81,1674.7 L378.05,1673.7 L378.3,1672.7 L378.54,1671.7 L378.78,1670.7 L379.02,1669.7 L379.27,1668.7 L379.51,1667.7 L379.76,1666.7 L380,1665.7 L380.25,1664.7 L380.5,1663.7 L380.75,1662.7 L381,1661.7 L381.25,1660.7 L381.5,1659.7 L381.75,1658.7 L382,1657.7 L382.25,1656.7 L382.5,1655.7 L382.76,1654.7 L383.01,1653.7 L383.27,1652.7 L383.52,1651.7 L383.78,1650.7 L384.04,1649.7 L384.3,1648.7 L384.56,1647.7 L384.82,1646.7 L385.08,1645.7 L385.34,1644.7 L385.6,1643.7 L385.87,1642.7 L386.13,1641.7 L386.4,1640.7 L386.66,1639.7 L386.93,1638.7 L387.19,1637.7 L387.46,1636.7 L387.73,1635.7 L388,1634.7 L388.27,1633.7 L388.53,1632.7 L388.8,1631.7 L389.07,1630.7 L389.34,1629.7 L389.61,1628.7 L389.88,1627.7 L390.15,1626.7 L390.42,1625.7 L390.69,1624.7 L390.96,1623.7 L391.23,1622.7 L391.5,1621.7 L391.76,1620.7 L392.03,1619.7 L392.3,1618.7 L392.57,1617.7 L392.84,1616.7 L393.1,1615.7 L393.37,1614.7 L393.64,1613.7 L393.9,1612.7 L394.17,1611.7 L394.43,1610.7 L394.7,1609.7 L394.96,1608.7 L395.23,1607.7 L395.49,1606.7 L395.75,1605.7 L396.01,1604.7 L396.28,1603.7 L396.54,1602.7 L396.8,1601.7 L397.06,1600.7 L397.32,1599.7 L397.58,1598.7 L397.84,1597.7 L398.09,1596.7 L398.35,1595.7 L398.61,1594.7 L398.87,1593.7 L399.12,1592.7 L399.38,1591.7 L399.63,1590.7 L399.89,1589.7 L400.14,1588.7 L400.4,1587.7 L400.65,1586.7 L400.9,1585.7 L401.16,1584.7 L401.41,1583.7 L401.66,1582.7 L401.91,1581.7 L402.16,1580.7 L402.41,1579.7 L402.66,1578.7 L402.91,1577.7 L403.16,1576.7 L403.41,1575.7 L403.65,1574.7 L403.9,1573.7 L404.15,1572.7 L404.39,1571.7 L404.64,1570.7 L404.88,1569.7 L405.13,1568.7 L405.37,1567.7 L405.61,1566.7 L405.86,1565.7 L406.1,1564.7 L406.34,1563.7 L406.58,1562.7 L406.82,1561.7 L407.06,1560.7 L407.3,1559.7 L407.54,1558.7 L407.78,1557.7 L408.02,1556.7 L408.26,1555.7 L408.5,1554.7 L408.73,1553.7 L408.97,1552.7 L409.21,1551.7 L409.44,1550.7 L409.68,1549.7 L409.91,1548.7 L410.15,1547.7 L410.38,1546.7 L410.62,1545.7 L410.85,1544.7 L411.08,1543.7 L411.31,1542.7 L411.55,1541.7 L411.78,1540.7 L412.01,1539.7 L412.24,1538.7 L412.47,1537.7 L412.7,1536.7 L412.93,1535.7 L413.16,1534.7 L413.39,1533.7 L413.62,1532.7 L413.84,1531.7 L414.07,1530.7 L414.3,1529.7 L414.52,1528.7 L414.75,1527.7 L414.97,1526.7 L415.2,1525.7 L415.42,1524.7 L415.64,1523.7 L415.87,1522.7 L416.09,1521.7 L416.31,1520.7 L416.53,1519.7 L416.75,1518.7 L416.97,1517.7 L417.19,1516.7 L417.4,1515.7 L417.62,1514.7 L417.84,1513.7 L418.05,1512.7 L418.27,1511.7 L418.48,1510.7 L418.7,1509.7 L418.91,1508.7 L419.12,1507.7 L419.34,1506.7 L419.55,1505.7 L419.76,1504.7 L419.97,1503.7 L420.18,1502.7 L420.39,1501.7 L420.59,1500.7 L420.8,1499.7 L421.01,1498.7 L421.21,1497.7 L421.42,1496.7 L421.62,1495.7 L421.83,1494.7 L422.03,1493.7 L422.23,1492.7 L422.43,1491.7 L422.63,1490.7 L422.83,1489.7 L423.03,1488.7 L423.22,1487.7 L423.42,1486.7 L423.61,1485.7 L423.81,1484.7 L424,1483.7 L424.2,1482.7 L424.39,1481.7 L424.58,1480.7 L424.77,1479.7 L424.96,1478.7 L425.15,1477.7 L425.34,1476.7 L425.53,1475.7 L425.72,1474.7 L425.91,1473.7 L426.1,1472.7 L426.29,1471.7 L426.48,1470.7 L426.67,1469.7 L426.86,1468.7 L427.05,1467.7 L427.24,1466.7 L427.43,1465.7 L427.62,1464.7 L427.81,1463.7 L428,1462.7 L428.19,1461.7 L428.38,1460.7 L428.56,1459.7 L428.75,1458.7 L428.94,1457.7 L429.13,1456.7 L429.32,1455.7 L429.51,1454.7 L429.69,1453.7 L429.88,1452.7 L430.06,1451.7 L430.25,1450.7 L430.43,1449.7 L430.61,1448.7 L430.79,1447.7 L430.97,1446.7 L431.15,1445.7 L431.33,1444.7 L431.5,1443.7 L431.67,1442.7 L431.85,1441.7 L432.02,1440.7 L432.18,1439.7 L432.35,1438.7 L432.52,1437.7 L432.68,1436.7 L432.84,1435.7 L433,1434.7 L433.16,1433.7 L433.32,1432.7 L433.48,1431.7 L433.64,1430.7 L433.79,1429.7 L433.95,1428.7 L434.1,1427.7 L434.25,1426.7 L434.4,1425.7 L434.55,1424.7 L434.7,1423.7 L434.84,1422.7 L434.99,1421.7 L435.13,1420.7 L435.28,1419.7 L435.42,1418.7 L435.56,1417.7 L435.7,1416.7 L435.84,1415.7 L435.98,1414.7 L436.12,1413.7 L436.25,1412.7 L436.39,1411.7 L436.52,1410.7 L436.66,1409.7 L436.79,1408.7 L436.92,1407.7 L437.05,1406.7 L437.18,1405.7 L437.31,1404.7 L437.44,1403.7 L437.56,1402.7 L437.69,1401.7 L437.81,1400.7 L437.93,1399.7 L438.05,1398.7 L438.17,1397.7 L438.29,1396.7 L438.41,1395.7 L438.53,1394.7 L438.64,1393.7 L438.75,1392.7 L438.87,1391.7 L438.98,1390.7 L439.09,1389.7 L439.19,1388.7 L439.3,1387.7 L439.41,1386.7 L439.51,1385.7 L439.61,1384.7 L439.72,1383.7 L439.82,1382.7 L439.92,1381.7 L440.02,1380.7 L440.11,1379.7 L440.21,1378.7 L440.31,1377.7 L440.4,1376.7 L440.49,1375.7 L440.58,1374.7 L440.67,1373.7 L440.76,1372.7 L440.85,1371.7 L440.93,1370.7 L441.01,1369.7 L441.1,1368.7 L441.17,1367.7 L441.25,1366.7 L441.33,1365.7 L441.4,1364.7 L441.47,1363.7 L441.54,1362.7 L441.61,1361.7 L441.67,1360.7 L441.73,1359.7 L441.79,1358.7 L441.85,1357.7 L441.91,1356.7 L441.97,1355.7 L442.02,1354.7 L442.07,1353.7 L442.12,1352.7 L442.17,1351.7 L442.22,1350.7 L442.26,1349.7 L442.31,1348.7 L442.35,1347.7 L442.39,1346.7 L442.44,1345.7 L442.48,1344.7 L442.51,1343.7 L442.55,1342.7 L442.59,1341.7 L442.62,1340.7 L442.66,1339.7 L442.69,1338.7 L442.73,1337.7 L442.76,1336.7 L442.79,1335.7 L442.82,1334.7 L442.85,1333.7 L442.87,1332.7 L442.9,1331.7 L442.93,1330.7 L442.95,1329.7 L442.98,1328.7 L443,1327.7 L443.02,1326.7 L443.04,1325.7 L443.07,1324.7 L443.09,1323.7 L443.11,1322.7 L443.13,1321.7 L443.14,1320.7 L443.16,1319.7 L443.18,1318.7 L443.2,1317.7 L443.21,1316.7 L443.23,1315.7 L443.25,1314.7 L443.27,1313.7 L443.28,1312.7 L443.3,1311.7 L443.32,1310.7 L443.33,1309.7 L443.35,1308.7 L443.37,1307.7 L443.39,1306.7 L443.41,1305.7 L443.43,1304.7 L443.45,1303.7 L443.47,1302.7 L443.49,1301.7 L443.51,1300.7 L443.53,1299.7 L443.56,1298.7 L443.58,1297.7 L443.61,1296.7 L443.63,1295.7 L443.66,1294.7 L443.69,1293.7 L443.71,1292.7 L443.74,1291.7 L443.77,1290.7 L443.8,1289.7 L443.83,1288.7 L443.87,1287.7 L443.9,1286.7 L443.93,1285.7 L443.97,1284.7 L444,1283.7 L444.03,1282.7 L444.07,1281.7 L444.1,1280.7 L444.14,1279.7 L444.18,1278.7 L444.21,1277.7 L444.25,1276.7 L444.29,1275.7 L444.33,1274.7 L444.37,1273.7 L444.41,1272.7 L444.45,1271.7 L444.49,1270.7 L444.53,1269.7 L444.57,1268.7 L444.61,1267.7 L444.66,1266.7 L444.7,1265.7 L444.75,1264.7 L444.8,1263.7 L444.85,1262.7 L444.9,1261.7 L445.1,1261.7 L445.15,1262.7 L445.21,1263.7 L445.26,1264.7 L445.3,1265.7 L445.35,1266.7 L445.4,1267.7 L445.44,1268.7 L445.48,1269.7 L445.53,1270.7 L445.57,1271.7 L445.61,1272.7 L445.65,1273.7 L445.69,1274.7 L445.73,1275.7 L445.77,1276.7 L445.81,1277.7 L445.85,1278.7 L445.88,1279.7 L445.92,1280.7 L445.95,1281.7 L445.99,1282.7 L446.02,1283.7 L446.06,1284.7 L446.09,1285.7 L446.12,1286.7 L446.15,1287.7 L446.18,1288.7 L446.21,1289.7 L446.24,1290.7 L446.27,1291.7 L446.3,1292.7 L446.32,1293.7 L446.35,1294.7 L446.37,1295.7 L446.4,1296.7 L446.42,1297.7 L446.44,1298.7 L446.46,1299.7 L446.48,1300.7 L446.5,1301.7 L446.52,1302.7 L446.54,1303.7 L446.56,1304.7 L446.58,1305.7 L446.59,1306.7 L446.61,1307.7 L446.62,1308.7 L446.64,1309.7 L446.65,1310.7 L446.66,1311.7 L446.68,1312.7 L446.69,1313.7 L446.71,1314.7 L446.72,1315.7 L446.73,1316.7 L446.75,1317.7 L446.76,1318.7 L446.77,1319.7 L446.79,1320.7 L446.8,1321.7 L446.82,1322.7 L446.83,1323.7 L446.85,1324.7 L446.87,1325.7 L446.88,1326.7 L446.9,1327.7 L446.92,1328.7 L446.94,1329.7 L446.96,1330.7 L446.98,1331.7 L447,1332.7 L447.02,1333.7 L447.04,1334.7 L447.07,1335.7 L447.09,1336.7 L447.12,1337.7 L447.14,1338.7 L447.17,1339.7 L447.19,1340.7 L447.22,1341.7 L447.25,1342.7 L447.27,1343.7 L447.3,1344.7 L447.33,1345.7 L447.36,1346.7 L447.39,1347.7 L447.42,1348.7 L447.45,1349.7 L447.48,1350.7 L447.51,1351.7 L447.54,1352.7 L447.57,1353.7 L447.6,1354.7 L447.63,1355.7 L447.66,1356.7 L447.69,1357.7 L447.73,1358.7 L447.76,1359.7 L447.79,1360.7 L447.82,1361.7 L447.85,1362.7 L447.88,1363.7 L447.92,1364.7 L447.95,1365.7 L447.98,1366.7 L448.02,1367.7 L448.05,1368.7 L448.08,1369.7 L448.12,1370.7 L448.15,1371.7 L448.18,1372.7 L448.22,1373.7 L448.25,1374.7 L448.29,1375.7 L448.32,1376.7 L448.36,1377.7 L448.4,1378.7 L448.43,1379.7 L448.47,1380.7 L448.51,1381.7 L448.54,1382.7 L448.58,1383.7 L448.62,1384.7 L448.66,1385.7 L448.7,1386.7 L448.74,1387.7 L448.78,1388.7 L448.82,1389.7 L448.86,1390.7 L448.9,1391.7 L448.94,1392.7 L448.98,1393.7 L449.02,1394.7 L449.06,1395.7 L449.11,1396.7 L449.15,1397.7 L449.19,1398.7 L449.24,1399.7 L449.28,1400.7 L449.33,1401.7 L449.37,1402.7 L449.42,1403.7 L449.46,1404.7 L449.51,1405.7 L449.55,1406.7 L449.6,1407.7 L449.65,1408.7 L449.69,1409.7 L449.74,1410.7 L449.79,1411.7 L449.84,1412.7 L449.89,1413.7 L449.94,1414.7 L449.99,1415.7 L450.04,1416.7 L450.09,1417.7 L450.14,1418.7 L450.19,1419.7 L450.24,1420.7 L450.29,1421.7 L450.34,1422.7 L450.39,1423.7 L450.45,1424.7 L450.5,1425.7 L450.55,1426.7 L450.61,1427.7 L450.66,1428.7 L450.71,1429.7 L450.77,1430.7 L450.83,1431.7 L450.88,1432.7 L450.94,1433.7 L450.99,1434.7 L451.05,1435.7 L451.11,1436.7 L451.17,1437.7 L451.23,1438.7 L451.28,1439.7 L451.34,1440.7 L451.4,1441.7 L451.47,1442.7 L451.53,1443.7 L451.59,1444.7 L451.65,1445.7 L451.72,1446.7 L451.78,1447.7 L451.84,1448.7 L451.91,1449.7 L451.98,1450.7 L452.04,1451.7 L452.11,1452.7 L452.18,1453.7 L452.25,1454.7 L452.32,1455.7 L452.39,1456.7 L452.47,1457.7 L452.54,1458.7 L452.62,1459.7 L452.69,1460.7 L452.77,1461.7 L452.85,1462.7 L452.93,1463.7 L453.01,1464.7 L453.09,1465.7 L453.17,1466.7 L453.25,1467.7 L453.33,1468.7 L453.41,1469.7 L453.49,1470.7 L453.58,1471.7 L453.66,1472.7 L453.74,1473.7 L453.82,1474.7 L453.91,1475.7 L453.99,1476.7 L454.07,1477.7 L454.16,1478.7 L454.24,1479.7 L454.32,1480.7 L454.4,1481.7 L454.48,1482.7 L454.57,1483.7 L454.65,1484.7 L454.73,1485.7 L454.81,1486.7 L454.9,1487.7 L454.98,1488.7 L455.06,1489.7 L455.14,1490.7 L455.22,1491.7 L455.31,1492.7 L455.39,1493.7 L455.47,1494.7 L455.55,1495.7 L455.63,1496.7 L455.72,1497.7 L455.8,1498.7 L455.88,1499.7 L455.96,1500.7 L456.05,1501.7 L456.13,1502.7 L456.21,1503.7 L456.29,1504.7 L456.38,1505.7 L456.46,1506.7 L456.54,1507.7 L456.62,1508.7 L456.71,1509.7 L456.79,1510.7 L456.87,1511.7 L456.95,1512.7 L457.04,1513.7 L457.12,1514.7 L457.2,1515.7 L457.28,1516.7 L457.36,1517.7 L457.45,1518.7 L457.53,1519.7 L457.61,1520.7 L457.69,1521.7 L457.77,1522.7 L457.86,1523.7 L457.94,1524.7 L458.02,1525.7 L458.1,1526.7 L458.18,1527.7 L458.27,1528.7 L458.35,1529.7 L458.43,1530.7 L458.51,1531.7 L458.6,1532.7 L458.68,1533.7 L458.76,1534.7 L458.84,1535.7 L458.93,1536.7 L459.01,1537.7 L459.1,1538.7 L459.18,1539.7 L459.26,1540.7 L459.35,1541.7 L459.44,1542.7 L459.52,1543.7 L459.61,1544.7 L459.69,1545.7 L459.78,1546.7 L459.87,1547.7 L459.96,1548.7 L460.04,1549.7 L460.13,1550.7 L460.22,1551.7 L460.31,1552.7 L460.4,1553.7 L460.49,1554.7 L460.58,1555.7 L460.68,1556.7 L460.77,1557.7 L460.86,1558.7 L460.95,1559.7 L461.04,1560.7 L461.14,1561.7 L461.23,1562.7 L461.32,1563.7 L461.42,1564.7 L461.51,1565.7 L461.6,1566.7 L461.7,1567.7 L461.79,1568.7 L461.89,1569.7 L461.98,1570.7 L462.08,1571.7 L462.17,1572.7 L462.27,1573.7 L462.36,1574.7 L462.46,1575.7 L462.55,1576.7 L462.65,1577.7 L462.74,1578.7 L462.84,1579.7 L462.94,1580.7 L463.03,1581.7 L463.13,1582.7 L463.22,1583.7 L463.32,1584.7 L463.42,1585.7 L463.51,1586.7 L463.61,1587.7 L463.71,1588.7 L463.8,1589.7 L463.9,1590.7 L464,1591.7 L464.09,1592.7 L464.19,1593.7 L464.29,1594.7 L464.38,1595.7 L464.48,1596.7 L464.58,1597.7 L464.67,1598.7 L464.77,1599.7 L464.86,1600.7 L464.96,1601.7 L465.06,1602.7 L465.15,1603.7 L465.25,1604.7 L465.34,1605.7 L465.44,1606.7 L465.53,1607.7 L465.62,1608.7 L465.72,1609.7 L465.81,1610.7 L465.91,1611.7 L466,1612.7 L466.1,1613.7 L466.19,1614.7 L466.28,1615.7 L466.38,1616.7 L466.47,1617.7 L466.56,1618.7 L466.65,1619.7 L466.75,1620.7 L466.84,1621.7 L466.93,1622.7 L467.02,1623.7 L467.12,1624.7 L467.21,1625.7 L467.3,1626.7 L467.39,1627.7 L467.48,1628.7 L467.58,1629.7 L467.67,1630.7 L467.76,1631.7 L467.85,1632.7 L467.94,1633.7 L468.04,1634.7 L468.13,1635.7 L468.22,1636.7 L468.31,1637.7 L468.41,1638.7 L468.5,1639.7 L468.59,1640.7 L468.69,1641.7 L468.78,1642.7 L468.88,1643.7 L468.97,1644.7 L469.07,1645.7 L469.17,1646.7 L469.27,1647.7 L469.37,1648.7 L469.47,1649.7 L469.57,1650.7 L469.67,1651.7 L469.77,1652.7 L469.87,1653.7 L469.97,1654.7 L470.08,1655.7 L470.18,1656.7 L470.28,1657.7 L470.39,1658.7 L470.49,1659.7 L470.59,1660.7 L470.7,1661.7 L470.8,1662.7 L470.9,1663.7 L471.01,1664.7 L471.11,1665.7 L471.21,1666.7 L471.31,1667.7 L471.41,1668.7 L471.51,1669.7 L471.61,1670.7 L471.71,1671.7 L471.81,1672.7 L471.9,1673.7 L472,1674.7 L472.09,1675.7 L472.19,1676.7 L472.28,1677.7 L472.37,1678.7 L472.46,1679.7 L472.55,1680.7 L472.64,1681.7 L472.73,1682.7 L472.82,1683.7 L472.91,1684.7 L473,1685.7 L473.08,1686.7 L473.17,1687.7 L473.26,1688.7 L473.34,1689.7 L473.42,1690.7 L473.51,1691.7 L473.59,1692.7 L473.67,1693.7 L473.76,1694.7 L473.84,1695.7 L473.92,1696.7 L474,1697.7 L474.08,1698.7 L474.16,1699.7 L474.23,1700.7 L474.31,1701.7 L474.39,1702.7 L474.47,1703.7 L474.54,1704.7 L474.62,1705.7 L474.69,1706.7 L474.77,1707.7 L474.84,1708.7 L474.92,1709.7 L474.99,1710.7 L475.06,1711.7 L475.14,1712.7 L475.21,1713.7 L475.28,1714.7 L475.35,1715.7 L475.42,1716.7 L475.49,1717.7 L475.56,1718.7 L475.63,1719.7 L475.7,1720.7 L475.76,1721.7 L475.83,1722.7 L475.9,1723.7 L475.97,1724.7 L476.03,1725.7 L476.1,1726.7 L476.16,1727.7 L476.23,1728.7 L476.29,1729.7 L476.36,1730.7 L476.42,1731.7 L476.48,1732.7 L476.54,1733.7 L476.61,1734.7 L476.67,1735.7 L476.73,1736.7 L476.79,1737.7 L476.85,1738.7 L476.9,1739.7 L476.96,1740.7 L477.02,1741.7 L477.08,1742.7 L477.13,1743.7 L477.19,1744.7 L477.24,1745.7 L477.3,1746.7 L477.35,1747.7 L477.41,1748.7 L477.46,1749.7 L477.51,1750.7 L477.57,1751.7 L477.62,1752.7 L477.67,1753.7 L477.72,1754.7 L477.77,1755.7 L477.82,1756.7 L477.87,1757.7 L477.92,1758.7 L477.97,1759.7 L478.01,1760.7 L478.06,1761.7 L478.11,1762.7 L478.16,1763.7 L478.2,1764.7 L478.25,1765.7 L478.29,1766.7 L478.34,1767.7 L478.38,1768.7 L478.43,1769.7 L478.47,1770.7 L478.51,1771.7 L478.56,1772.7 L478.6,1773.7 L478.64,1774.7 L478.68,1775.7 L478.72,1776.7 L478.76,1777.7 L478.8,1778.7 L478.84,1779.7 L478.88,1780.7 L478.92,1781.7 L478.96,1782.7 L479,1783.7 L479.04,1784.7 L479.07,1785.7 L479.11,1786.7 L479.15,1787.7 L479.18,1788.7 L479.22,1789.7 L479.26,1790.7 L479.29,1791.7 L479.33,1792.7 L479.36,1793.7 L479.4,1794.7 L479.43,1795.7 L479.46,1796.7 L479.5,1797.7 L479.53,1798.7 L479.56,1799.7 L479.59,1800.7 L479.62,1801.7 L479.65,1802.7 L479.68,1803.7 L479.71,1804.7 L479.74,1805.7 L479.77,1806.7 L479.8,1807.7 L479.82,1808.7 L479.85,1809.7 L479.88,1810.7 L479.9,1811.7 L479.92,1812.7 L479.95,1813.7 L479.97,1814.7 L479.99,1815.7 L480.02,1816.7 L480.04,1817.7 L480.06,1818.7 L480.08,1819.7 L480.1,1820.7 L480.12,1821.7 L480.14,1822.7 L480.16,1823.7 L480.18,1824.7 L480.2,1825.7 L480.22,1826.7 L480.24,1827.7 L480.25,1828.7 L480.27,1829.7 L480.29,1830.7 L480.3,1831.7 L480.32,1832.7 L480.33,1833.7 L480.35,1834.7 L480.36,1835.7 L480.38,1836.7 L480.39,1837.7 L480.4,1838.7 L480.41,1839.7 L480.42,1840.7 L480.43,1841.7 L480.44,1842.7 L480.45,1843.7 L480.45,1844.7 L480.46,1845.7 L480.47,1846.7 L480.47,1847.7 L480.48,1848.7 L480.48,1849.7 L480.48,1850.7 L480.49,1851.7 L480.49,1852.7 L480.49,1853.7 L480.49,1854.2 Z" fill="#dc2d2d"/>
<path d="M355.41,1854.2 L355.41,1853.7 L355.41,1852.7 L355.41,1851.7 L355.41,1850.7 L355.42,1849.7 L355.42,1848.7 L355.42,1847.7 L355.43,1846.7 L355.43,1845.7 L355.44,1844.7 L355.45,1843.7 L355.45,1842.7 L355.46,1841.7 L355.47,1840.7 L355.48,1839.7 L355.49,1838.7 L355.5,1837.7 L355.51,1836.7 L355.53,1835.7 L355.54,1834.7 L355.55,1833.7 L355.57,1832.7 L355.58,1831.7 L355.6,1830.7 L355.62,1829.7 L355.63,1828.7 L355.65,1827.7 L355.67,1826.7 L355.69,1825.7 L355.71,1824.7 L355.73,1823.7 L355.76,1822.7 L355.78,1821.7 L355.8,1820.7 L355.83,1819.7 L355.86,1818.7 L355.88,1817.7 L355.91,1816.7 L355.95,1815.7 L355.98,1814.7 L356.01,1813.7 L356.05,1812.7 L356.09,1811.7 L356.13,1810.7 L356.17,1809.7 L356.22,1808.7 L356.27,1807.7 L356.32,1806.7 L356.37,1805.7 L356.42,1804.7 L356.48,1803.7 L356.54,1802.7 L356.6,1801.7 L356.66,1800.7 L356.73,1799.7 L356.79,1798.7 L356.86,1797.7 L356.93,1796.7 L357.01,1795.7 L357.08,1794.7 L357.16,1793.7 L357.23,1792.7 L357.31,1791.7 L357.39,1790.7 L357.47,1789.7 L357.56,1788.7 L357.64,1787.7 L357.73,1786.7 L357.81,1785.7 L357.9,1784.7 L357.99,1783.7 L358.08,1782.7 L358.18,1781.7 L358.27,1780.7 L358.37,1779.7 L358.46,1778.7 L358.56,1777.7 L358.66,1776.7 L358.77,1775.7 L358.87,1774.7 L358.98,1773.7 L359.09,1772.7 L359.2,1771.7 L359.32,1770.7 L359.43,1769.7 L359.55,1768.7 L359.67,1767.7 L359.79,1766.7 L359.91,1765.7 L360.04,1764.7 L360.17,1763.7 L360.3,1762.7 L360.43,1761.7 L360.56,1760.7 L360.7,1759.7 L360.84,1758.7 L360.98,1757.7 L361.12,1756.7 L361.26,1755.7 L361.4,1754.7 L361.55,1753.7 L361.7,1752.7 L361.85,1751.7 L362,1750.7 L362.15,1749.7 L362.31,1748.7 L362.46,1747.7 L362.62,1746.7 L362.78,1745.7 L362.95,1744.7 L363.11,1743.7 L363.28,1742.7 L363.45,1741.7 L363.62,1740.7 L363.8,1739.7 L363.97,1738.7 L364.15,1737.7 L364.34,1736.7 L364.52,1735.7 L364.71,1734.7 L364.89,1733.7 L365.08,1732.7 L365.28,1731.7 L365.47,1730.7 L365.66,1729.7 L365.86,1728.7 L366.06,1727.7 L366.26,1726.7 L366.46,1725.7 L366.67,1724.7 L366.87,1723.7 L367.07,1722.7 L367.28,1721.7 L367.49,1720.7 L367.7,1719.7 L367.9,1718.7 L368.11,1717.7 L368.32,1716.7 L368.53,1715.7 L368.74,1714.7 L368.96,1713.7 L369.17,1712.7 L369.38,1711.7 L369.6,1710.7 L369.81,1709.7 L370.03,1708.7 L370.24,1707.7 L370.46,1706.7 L370.68,1705.7 L370.9,1704.7 L371.11,1703.7 L371.33,1702.7 L371.56,1701.7 L371.78,1700.7 L372,1699.7 L372.22,1698.7 L372.45,1697.7 L372.67,1696.7 L372.9,1695.7 L373.13,1694.7 L373.36,1693.7 L373.58,1692.7 L373.81,1691.7 L374.04,1690.7 L374.27,1689.7 L374.51,1688.7 L374.74,1687.7 L374.97,1686.7 L375.2,1685.7 L375.44,1684.7 L375.67,1683.7 L375.91,1682.7 L376.14,1681.7 L376.38,1680.7 L376.62,1679.7 L376.86,1678.7 L377.09,1677.7 L377.33,1676.7 L377.57,1675.7 L377.81,1674.7 L378.05,1673.7 L378.3,1672.7 L378.54,1671.7 L378.78,1670.7 L379.02,1669.7 L379.27,1668.7 L379.51,1667.7 L379.76,1666.7 L380,1665.7 L380.25,1664.7 L380.5,1663.7 L380.75,1662.7 L381,1661.7 L381.25,1660.7 L381.5,1659.7 L381.75,1658.7 L382,1657.7 L382.25,1656.7 L382.5,1655.7 L382.76,1654.7 L383.01,1653.7 L383.27,1652.7 L383.52,1651.7 L383.78,1650.7 L384.04,1649.7 L384.3,1648.7 L384.56,1647.7 L384.82,1646.7 L385.08,1645.7 L385.34,1644.7 L385.6,1643.7 L385.87,1642.7 L386.13,1641.7 L386.4,1640.7 L386.66,1639.7 L386.93,1638.7 L387.19,1637.7 L387.46,1636.7 L387.73,1635.7 L388,1634.7 L388.27,1633.7 L388.53,1632.7 L388.8,1631.7 L389.07,1630.7 L389.34,1629.7 L389.61,1628.7 L389.88,1627.7 L390.15,1626.7 L390.42,1625.7 L390.69,1624.7 L390.96,1623.7 L391.23,1622.7 L391.5,1621.7 L391.76,1620.7 L392.03,1619.7 L392.3,1618.7 L392.57,1617.7 L392.84,1616.7 L393.1,1615.7 L393.37,1614.7 L393.64,1613.7 L393.9,1612.7 L394.17,1611.7 L394.43,1610.7 L394.7,1609.7 L394.96,1608.7 L395.23,1607.7 L395.49,1606.7 L395.75,1605.7 L396.01,1604.7 L396.28,1603.7 L396.54,1602.7 L396.8,1601.7 L397.06,1600.7 L397.32,1599.7 L397.58,1598.7 L397.84,1597.7 L398.09,1596.7 L398.35,1595.7 L398.61,1594.7 L398.87,1593.7 L399.12,1592.7 L399.38,1591.7 L399.63,1590.7 L399.89,1589.7 L400.14,1588.7 L400.4,1587.7 L400.65,1586.7 L400.9,1585.7 L401.16,1584.7 L401.41,1583.7 L401.66,1582.7 L401.91,1581.7 L402.16,1580.7 L402.41,1579.7 L402.66,1578.7 L402.91,1577.7 L403.16,1576.7 L403.41,1575.7 L403.65,1574.7 L403.9,1573.7 L404.15,1572.7 L404.39,1571.7 L404.64,1570.7 L404.88,1569.7 L405.13,1568.7 L405.37,1567.7 L405.61,1566.7 L405.86,1565.7 L406.1,1564.7 L406.34,1563.7 L406.58,1562.7 L406.82,1561.7 L407.06,1560.7 L407.3,1559.7 L407.54,1558.7 L407.78,1557.7 L408.02,1556.7 L408.26,1555.7 L408.5,1554.7 L408.73,1553.7 L408.97,1552.7 L409.21,1551.7 L409.44,1550.7 L409.68,1549.7 L409.91,1548.7 L410.15,1547.7 L410.38,1546.7 L410.62,1545.7 L410.85,1544.7 L411.08,1543.7 L411.31,1542.7 L411.55,1541.7 L411.78,1540.7 L412.01,1539.7 L412.24,1538.7 L412.47,1537.7 L412.7,1536.7 L412.93,1535.7 L413.16,1534.7 L413.39,1533.7 L413.62,1532.7 L413.84,1531.7 L414.07,1530.7 L414.3,1529.7 L414.52,1528.7 L414.75,1527.7 L414.97,1526.7 L415.2,1525.7 L415.42,1524.7 L415.64,1523.7 L415.87,1522.7 L416.09,1521.7 L416.31,1520.7 L416.53,1519.7 L416.75,1518.7 L416.97,1517.7 L417.19,1516.7 L417.4,1515.7 L417.62,1514.7 L417.84,1513.7 L418.05,1512.7 L418.27,1511.7 L418.48,1510.7 L418.7,1509.7 L418.91,1508.7 L419.12,1507.7 L419.34,1506.7 L419.55,1505.7 L419.76,1504.7 L419.97,1503.7 L420.18,1502.7 L420.39,1501.7 L420.59,1500.7 L420.8,1499.7 L421.01,1498.7 L421.21,1497.7 L421.42,1496.7 L421.62,1495.7 L421.83,1494.7 L422.03,1493.7 L422.23,1492.7 L422.43,1491.7 L422.63,1490.7 L422.83,1489.7 L423.03,1488.7 L423.22,1487.7 L423.42,1486.7 L423.61,1485.7 L423.81,1484.7 L424,1483.7 L424.2,1482.7 L424.39,1481.7 L424.58,1480.7 L424.77,1479.7 L424.96,1478.7 L425.15,1477.7 L425.34,1476.7 L425.53,1475.7 L425.72,1474.7 L425.91,1473.7 L426.1,1472.7 L426.29,1471.7 L426.48,1470.7 L426.67,1469.7 L426.86,1468.7 L427.05,1467.7 L427.24,1466.7 L427.43,1465.7 L427.62,1464.7 L427.81,1463.7 L428,1462.7 L428.19,1461.7 L428.38,1460.7 L428.56,1459.7 L428.75,1458.7 L428.94,1457.7 L429.13,1456.7 L429.32,1455.7 L429.51,1454.7 L429.69,1453.7 L429.88,1452.7 L430.06,1451.7 L430.25,1450.7 L430.43,1449.7 L430.61,1448.7 L430.79,1447.7 L430.97,1446.7 L431.15,1445.7 L431.33,1444.7 L431.5,1443.7 L431.67,1442.7 L431.85,1441.7 L432.02,1440.7 L432.18,1439.7 L432.35,1438.7 L432.52,1437.7 L432.68,1436.7 L432.84,1435.7 L433,1434.7 L433.16,1433.7 L433.32,1432.7 L433.48,1431.7 L433.64,1430.7 L433.79,1429.7 L433.95,1428.7 L434.1,1427.7 L434.25,1426.7 L434.4,1425.7 L434.55,1424.7 L434.7,1423.7 L434.84,1422.7 L434.99,1421.7 L435.13,1420.7 L435.28,1419.7 L435.42,1418.7 L435.56,1417.7 L435.7,1416.7 L435.84,1415.7 L435.98,1414.7 L436.12,1413.7 L436.25,1412.7 L436.39,1411.7 L436.52,1410.7 L436.66,1409.7 L436.79,1408.7 L436.92,1407.7 L437.05,1406.7 L437.18,1405.7 L437.31,1404.7 L437.44,1403.7 L437.56,1402.7 L437.69,1401.7 L437.81,1400.7 L437.93,1399.7 L438.05,1398.7 L438.17,1397.7 L438.29,1396.7 L438.41,1395.7 L438.53,1394.7 L438.64,1393.7 L438.75,1392.7 L438.87,1391.7 L438.98,1390.7 L439.09,1389.7 L439.19,1388.7 L439.3,1387.7 L439.41,1386.7 L439.51,1385.7 L439.61,1384.7 L439.72,1383.7 L439.82,1382.7 L439.92,1381.7 L440.02,1380.7 L440.11,1379.7 L440.21,1378.7 L440.31,1377.7 L440.4,1376.7 L440.49,1375.7 L440.58,1374.7 L440.67,1373.7 L440.76,1372.7 L440.85,1371.7 L440.93,1370.7 L441.01,1369.7 L441.1,1368.7 L441.17,1367.7 L441.25,1366.7 L441.33,1365.7 L441.4,1364.7 L441.47,1363.7 L441.54,1362.7 L441.61,1361.7 L441.67,1360.7 L441.73,1359.7 L441.79,1358.7 L441.85,1357.7 L441.91,1356.7 L441.97,1355.7 L442.02,1354.7 L442.07,1353.7 L442.12,1352.7 L442.17,1351.7 L442.22,1350.7 L442.26,1349.7 L442.31,1348.7 L442.35,1347.7 L442.39,1346.7 L442.44,1345.7 L442.48,1344.7 L442.51,1343.7 L442.55,1342.7 L442.59,1341.7 L442.62,1340.7 L442.66,1339.7 L442.69,1338.7 L442.73,1337.7 L442.76,1336.7 L442.79,1335.7 L442.82,1334.7 L442.85,1333.7 L442.87,1332.7 L442.9,1331.7 L442.93,1330.7 L442.95,1329.7 L442.98,1328.7 L443,1327.7 L443.02,1326.7 L443.04,1325.7 L443.07,1324.7 L443.09,1323.7 L443.11,1322.7 L443.13,1321.7 L443.14,1320.7 L443.16,1319.7 L443.18,1318.7 L443.2,1317.7 L443.21,1316.7 L443.23,1315.7 L443.25,1314.7 L443.27,1313.7 L443.28,1312.7 L443.3,1311.7 L443.32,1310.7 L443.33,1309.7 L443.35,1308.7 L443.37,1307.7 L443.39,1306.7 L443.41,1305.7 L443.43,1304.7 L443.45,1303.7 L443.47,1302.7 L443.49,1301.7 L443.51,1300.7 L443.53,1299.7 L443.56,1298.7 L443.58,1297.7 L443.61,1296.7 L443.63,1295.7 L443.66,1294.7 L443.69,1293.7 L443.71,1292.7 L443.74,1291.7 L443.77,1290.7 L443.8,1289.7 L443.83,1288.7 L443.87,1287.7 L443.9,1286.7 L443.93,1285.7 L443.97,1284.7 L444,1283.7 L444.03,1282.7 L444.07,1281.7 L444.1,1280.7 L444.14,1279.7 L444.18,1278.7 L444.21,1277.7 L444.25,1276.7 L444.29,1275.7 L444.33,1274.7 L444.37,1273.7 L444.41,1272.7 L444.45,1271.7 L444.49,1270.7 L444.53,1269.7 L444.57,1268.7 L444.61,1267.7 L444.66,1266.7 L444.7,1265.7 L444.75,1264.7 L444.8,1263.7 L444.85,1262.7 L444.9,1261.7 L445.1,1261.7 L445.15,1262.7 L445.21,1263.7 L445.26,1264.7 L445.3,1265.7 L445.35,1266.7 L445.4,1267.7 L445.44,1268.7 L445.48,1269.7 L445.53,1270.7 L445.57,1271.7 L445.61,1272.7 L445.65,1273.7 L445.69,1274.7 L445.73,1275.7 L445.77,1276.7 L445.81,1277.7 L445.85,1278.7 L445.88,1279.7 L445.92,1280.7 L445.95,1281.7 L445.99,1282.7 L446.02,1283.7 L446.06,1284.7 L446.09,1285.7 L446.12,1286.7 L446.15,1287.7 L446.18,1288.7 L446.21,1289.7 L446.24,1290.7 L446.27,1291.7 L446.3,1292.7 L446.32,1293.7 L446.35,1294.7 L446.37,1295.7 L446.4,1296.7 L446.42,1297.7 L446.44,1298.7 L446.46,1299.7 L446.48,1300.7 L446.5,1301.7 L446.52,1302.7 L446.54,1303.7 L446.56,1304.7 L446.58,1305.7 L446.59,1306.7 L446.61,1307.7 L446.62,1308.7 L446.64,1309.7 L446.65,1310.7 L446.66,1311.7 L446.68,1312.7 L446.69,1313.7 L446.71,1314.7 L446.72,1315.7 L446.73,1316.7 L446.75,1317.7 L446.76,1318.7 L446.77,1319.7 L446.79,1320.7 L446.8,1321.7 L446.82,1322.7 L446.83,1323.7 L446.85,1324.7 L446.87,1325.7 L446.88,1326.7 L446.9,1327.7 L446.92,1328.7 L446.94,1329.7 L446.96,1330.7 L446.98,1331.7 L447,1332.7 L447.02,1333.7 L447.04,1334.7 L447.07,1335.7 L447.09,1336.7 L447.12,1337.7 L447.14,1338.7 L447.17,1339.7 L447.19,1340.7 L447.22,1341.7 L447.25,1342.7 L447.27,1343.7 L447.3,1344.7 L447.33,1345.7 L447.36,1346.7 L447.39,1347.7 L447.42,1348.7 L447.45,1349.7 L447.48,1350.7 L447.51,1351.7 L447.54,1352.7 L447.57,1353.7 L447.6,1354.7 L447.63,1355.7 L447.66,1356.7 L447.69,1357.7 L447.73,1358.7 L447.76,1359.7 L447.79,1360.7 L447.82,1361.7 L447.85,1362.7 L447.88,1363.7 L447.92,1364.7 L447.95,1365.7 L447.98,1366.7 L448.02,1367.7 L448.05,1368.7 L448.08,1369.7 L448.12,1370.7 L448.15,1371.7 L448.18,1372.7 L448.22,1373.7 L448.25,1374.7 L448.29,1375.7 L448.32,1376.7 L448.36,1377.7 L448.4,1378.7 L448.43,1379.7 L448.47,1380.7 L448.51,1381.7 L448.54,1382.7 L448.58,1383.7 L448.62,1384.7 L448.66,1385.7 L448.7,1386.7 L448.74,1387.7 L448.78,1388.7 L448.82,1389.7 L448.86,1390.7 L448.9,1391.7 L448.94,1392.7 L448.98,1393.7 L449.02,1394.7 L449.06,1395.7 L449.11,1396.7 L449.15,1397.7 L449.19,1398.7 L449.24,1399.7 L449.28,1400.7 L449.33,1401.7 L449.37,1402.7 L449.42,1403.7 L449.46,1404.7 L449.51,1405.7 L449.55,1406.7 L449.6,1407.7 L449.65,1408.7 L449.69,1409.7 L449.74,1410.7 L449.79,1411.7 L449.84,1412.7 L449.89,1413.7 L449.94,1414.7 L449.99,1415.7 L450.04,1416.7 L450.09,1417.7 L450.14,1418.7 L450.19,1419.7 L450.24,1420.7 L450.29,1421.7 L450.34,1422.7 L450.39,1423.7 L450.45,1424.7 L450.5,1425.7 L450.55,1426.7 L450.61,1427.7 L450.66,1428.7 L450.71,1429.7 L450.77,1430.7 L450.83,1431.7 L450.88,1432.7 L450.94,1433.7 L450.99,1434.7 L451.05,1435.7 L451.11,1436.7 L451.17,1437.7 L451.23,1438.7 L451.28,1439.7 L451.34,1440.7 L451.4,1441.7 L451.47,1442.7 L451.53,1443.7 L451.59,1444.7 L451.65,1445.7 L451.72,1446.7 L451.78,1447.7 L451.84,1448.7 L451.91,1449.7 L451.98,1450.7 L452.04,1451.7 L452.11,1452.7 L452.18,1453.7 L452.25,1454.7 L452.32,1455.7 L452.39,1456.7 L452.47,1457.7 L452.54,1458.7 L452.62,1459.7 L452.69,1460.7 L452.77,1461.7 L452.85,1462.7 L452.93,1463.7 L453.01,1464.7 L453.09,1465.7 L453.17,1466.7 L453.25,1467.7 L453.33,1468.7 L453.41,1469.7 L453.49,1470.7 L453.58,1471.7 L453.66,1472.7 L453.74,1473.7 L453.82,1474.7 L453.91,1475.7 L453.99,1476.7 L454.07,1477.7 L454.16,1478.7 L454.24,1479.7 L454.32,1480.7 L454.4,1481.7 L454.48,1482.7 L454.57,1483.7 L454.65,1484.7 L454.73,1485.7 L454.81,1486.7 L454.9,1487.7 L454.98,1488.7 L455.06,1489.7 L455.14,1490.7 L455.22,1491.7 L455.31,1492.7 L455.39,1493.7 L455.47,1494.7 L455.55,1495.7 L455.63,1496.7 L455.72,1497.7 L455.8,1498.7 L455.88,1499.7 L455.96,1500.7 L456.05,1501.7 L456.13,1502.7 L456.21,1503.7 L456.29,1504.7 L456.38,1505.7 L456.46,1506.7 L456.54,1507.7 L456.62,1508.7 L456.71,1509.7 L456.79,1510.7 L456.87,1511.7 L456.95,1512.7 L457.04,1513.7 L457.12,1514.7 L457.2,1515.7 L457.28,1516.7 L457.36,1517.7 L457.45,1518.7 L457.53,1519.7 L457.61,1520.7 L457.69,1521.7 L457.77,1522.7 L457.86,1523.7 L457.94,1524.7 L458.02,1525.7 L458.1,1526.7 L458.18,1527.7 L458.27,1528.7 L458.35,1529.7 L458.43,1530.7 L458.51,1531.7 L458.6,1532.7 L458.68,1533.7 L458.76,1534.7 L458.84,1535.7 L458.93,1536.7 L459.01,1537.7 L459.1,1538.7 L459.18,1539.7 L459.26,1540.7 L459.35,1541.7 L459.44,1542.7 L459.52,1543.7 L459.61,1544.7 L459.69,1545.7 L459.78,1546.7 L459.87,1547.7 L459.96,1548.7 L460.04,1549.7 L460.13,1550.7 L460.22,1551.7 L460.31,1552.7 L460.4,1553.7 L460.49,1554.7 L460.58,1555.7 L460.68,1556.7 L460.77,1557.7 L460.86,1558.7 L460.95,1559.7 L461.04,1560.7 L461.14,1561.7 L461.23,1562.7 L461.32,1563.7 L461.42,1564.7 L461.51,1565.7 L461.6,1566.7 L461.7,1567.7 L461.79,1568.7 L461.89,1569.7 L461.98,1570.7 L462.08,1571.7 L462.17,1572.7 L462.27,1573.7 L462.36,1574.7 L462.46,1575.7 L462.55,1576.7 L462.65,1577.7 L462.74,1578.7 L462.84,1579.7 L462.94,1580.7 L463.03,1581.7 L463.13,1582.7 L463.22,1583.7 L463.32,1584.7 L463.42,1585.7 L463.51,1586.7 L463.61,1587.7 L463.71,1588.7 L463.8,1589.7 L463.9,1590.7 L464,1591.7 L464.09,1592.7 L464.19,1593.7 L464.29,1594.7 L464.38,1595.7 L464.48,1596.7 L464.58,1597.7 L464.67,1598.7 L464.77,1599.7 L464.86,1600.7 L464.96,1601.7 L465.06,1602.7 L465.15,1603.7 L465.25,1604.7 L465.34,1605.7 L465.44,1606.7 L465.53,1607.7 L465.62,1608.7 L465.72,1609.7 L465.81,1610.7 L465.91,1611.7 L466,1612.7 L466.1,1613.7 L466.19,1614.7 L466.28,1615.7 L466.38,1616.7 L466.47,1617.7 L466.56,1618.7 L466.65,1619.7 L466.75,1620.7 L466.84,1621.7 L466.93,1622.7 L467.02,1623.7 L467.12,1624.7 L467.21,1625.7 L467.3,1626.7 L467.39,1627.7 L467.48,1628.7 L467.58,1629.7 L467.67,1630.7 L467.76,1631.7 L467.85,1632.7 L467.94,1633.7 L468.04,1634.7 L468.13,1635.7 L468.22,1636.7 L468.31,1637.7 L468.41,1638.7 L468.5,1639.7 L468.59,1640.7 L468.69,1641.7 L468.78,1642.7 L468.88,1643.7 L468.97,1644.7 L469.07,1645.7 L469.17,1646.7 L469.27,1647.7 L469.37,1648.7 L469.47,1649.7 L469.57,1650.7 L469.67,1651.7 L469.77,1652.7 L469.87,1653.7 L469.97,1654.7 L470.08,1655.7 L470.18,1656.7 L470.28,1657.7 L470.39,1658.7 L470.49,1659.7 L470.59,1660.7 L470.7,1661.7 L470.8,1662.7 L470.9,1663.7 L471.01,1664.7 L471.11,1665.7 L471.21,1666.7 L471.31,1667.7 L471.41,1668.7 L471.51,1669.7 L471.61,1670.7 L471.71,1671.7 L471.81,1672.7 L471.9,1673.7 L472,1674.7 L472.09,1675.7 L472.19,1676.7 L472.28,1677.7 L472.37,1678.7 L472.46,1679.7 L472.55,1680.7 L472.64,1681.7 L472.73,1682.7 L472.82,1683.7 L472.91,1684.7 L473,1685.7 L473.08,1686.7 L473.17,1687.7 L473.26,1688.7 L473.34,1689.7 L473.42,1690.7 L473.51,1691.7 L473.59,1692.7 L473.67,1693.7 L473.76,1694.7 L473.84,1695.7 L473.92,1696.7 L474,1697.7 L474.08,1698.7 L474.16,1699.7 L474.23,1700.7 L474.31,1701.7 L474.39,1702.7 L474.47,1703.7 L474.54,1704.7 L474.62,1705.7 L474.69,1706.7 L474.77,1707.7 L474.84,1708.7 L474.92,1709.7 L474.99,1710.7 L475.06,1711.7 L475.14,1712.7 L475.21,1713.7 L475.28,1714.7 L475.35,1715.7 L475.42,1716.7 L475.49,1717.7 L475.56,1718.7 L475.63,1719.7 L475.7,1720.7 L475.76,1721.7 L475.83,1722.7 L475.9,1723.7 L475.97,1724.7 L476.03,1725.7 L476.1,1726.7 L476.16,1727.7 L476.23,1728.7 L476.29,1729.7 L476.36,1730.7 L476.42,1731.7 L476.48,1732.7 L476.54,1733.7 L476.61,1734.7 L476.67,1735.7 L476.73,1736.7 L476.79,1737.7 L476.85,1738.7 L476.9,1739.7 L476.96,1740.7 L477.02,1741.7 L477.08,1742.7 L477.13,1743.7 L477.19,1744.7 L477.24,1745.7 L477.3,1746.7 L477.35,1747.7 L477.41,1748.7 L477.46,1749.7 L477.51,1750.7 L477.57,1751.7 L477.62,1752.7 L477.67,1753.7 L477.72,1754.7 L477.77,1755.7 L477.82,1756.7 L477.87,1757.7 L477.92,1758.7 L477.97,1759.7 L478.01,1760.7 L478.06,1761.7 L478.11,1762.7 L478.16,1763.7 L478.2,1764.7 L478.25,1765.7 L478.29,1766.7 L478.34,1767.7 L478.38,1768.7 L478.43,1769.7 L478.47,1770.7 L478.51,1771.7 L478.56,1772.7 L478.6,1773.7 L478.64,1774.7 L478.68,1775.7 L478.72,1776.7 L478.76,1777.7 L478.8,1778.7 L478.84,1779.7 L478.88,1780.7 L478.92,1781.7 L478.96,1782.7 L479,1783.7 L479.04,1784.7 L479.07,1785.7 L479.11,1786.7 L479.15,1787.7 L479.18,1788.7 L479.22,1789.7 L479.26,1790.7 L479.29,1791.7 L479.33,1792.7 L479.36,1793.7 L479.4,1794.7 L479.43,1795.7 L479.46,1796.7 L479.5,1797.7 L479.53,1798.7 L479.56,1799.7 L479.59,1800.7 L479.62,1801.7 L479.65,1802.7 L479.68,1803.7 L479.71,1804.7 L479.74,1805.7 L479.77,1806.7 L479.8,1807.7 L479.82,1808.7 L479.85,1809.7 L479.88,1810.7 L479.9,1811.7 L479.92,1812.7 L479.95,1813.7 L479.97,1814.7 L479.99,1815.7 L480.02,1816.7 L480.04,1817.7 L480.06,1818.7 L480.08,1819.7 L480.1,1820.7 L480.12,1821.7 L480.14,1822.7 L480.16,1823.7 L480.18,1824.7 L480.2,1825.7 L480.22,1826.7 L480.24,1827.7 L480.25,1828.7 L480.27,1829.7 L480.29,1830.7 L480.3,1831.7 L480.32,1832.7 L480.33,1833.7 L480.35,1834.7 L480.36,1835.7 L480.38,1836.7 L480.39,1837.7 L480.4,1838.7 L480.41,1839.7 L480.42,1840.7 L480.43,1841.7 L480.44,1842.7 L480.45,1843.7 L480.45,1844.7 L480.46,1845.7 L480.47,1846.7 L480.47,1847.7 L480.48,1848.7 L480.48,1849.7 L480.48,1850.7 L480.49,1851.7 L480.49,1852.7 L480.49,1853.7 L480.49,1854.2" fill="none" stroke="#6b6b6b" stroke-width="1.7" stroke-linejoin="round"/>
<path d="M514.61,1854.2 L514.61,1853.7 L514.61,1852.7 L514.61,1851.7 L514.61,1850.7 L514.62,1849.7 L514.62,1848.7 L514.63,1847.7 L514.63,1846.7 L514.64,1845.7 L514.64,1844.7 L514.65,1843.7 L514.66,1842.7 L514.67,1841.7 L514.67,1840.7 L514.68,1839.7 L514.69,1838.7 L514.71,1837.7 L514.72,1836.7 L514.73,1835.7 L514.74,1834.7 L514.76,1833.7 L514.77,1832.7 L514.79,1831.7 L514.8,1830.7 L514.82,1829.7 L514.84,1828.7 L514.86,1827.7 L514.88,1826.7 L514.89,1825.7 L514.91,1824.7 L514.93,1823.7 L514.96,1822.7 L514.98,1821.7 L515,1820.7 L515.02,1819.7 L515.05,1818.7 L515.07,1817.7 L515.1,1816.7 L515.13,1815.7 L515.15,1814.7 L515.18,1813.7 L515.21,1812.7 L515.24,1811.7 L515.28,1810.7 L515.31,1809.7 L515.35,1808.7 L515.38,1807.7 L515.42,1806.7 L515.46,1805.7 L515.5,1804.7 L515.55,1803.7 L515.59,1802.7 L515.64,1801.7 L515.68,1800.7 L515.73,1799.7 L515.78,1798.7 L515.83,1797.7 L515.88,1796.7 L515.94,1795.7 L515.99,1794.7 L516.04,1793.7 L516.1,1792.7 L516.16,1791.7 L516.22,1790.7 L516.28,1789.7 L516.34,1788.7 L516.4,1787.7 L516.46,1786.7 L516.52,1785.7 L516.58,1784.7 L516.65,1783.7 L516.72,1782.7 L516.78,1781.7 L516.85,1780.7 L516.92,1779.7 L516.99,1778.7 L517.06,1777.7 L517.13,1776.7 L517.21,1775.7 L517.28,1774.7 L517.36,1773.7 L517.44,1772.7 L517.52,1771.7 L517.6,1770.7 L517.68,1769.7 L517.77,1768.7 L517.85,1767.7 L517.94,1766.7 L518.03,1765.7 L518.12,1764.7 L518.21,1763.7 L518.3,1762.7 L518.39,1761.7 L518.49,1760.7 L518.58,1759.7 L518.68,1758.7 L518.77,1757.7 L518.87,1756.7 L518.97,1755.7 L519.07,1754.7 L519.17,1753.7 L519.27,1752.7 L519.37,1751.7 L519.48,1750.7 L519.58,1749.7 L519.69,1748.7 L519.79,1747.7 L519.9,1746.7 L520.01,1745.7 L520.12,1744.7 L520.23,1743.7 L520.34,1742.7 L520.45,1741.7 L520.57,1740.7 L520.68,1739.7 L520.8,1738.7 L520.91,1737.7 L521.03,1736.7 L521.15,1735.7 L521.27,1734.7 L521.39,1733.7 L521.51,1732.7 L521.64,1731.7 L521.76,1730.7 L521.89,1729.7 L522.01,1728.7 L522.14,1727.7 L522.27,1726.7 L522.4,1725.7 L522.53,1724.7 L522.65,1723.7 L522.79,1722.7 L522.92,1721.7 L523.05,1720.7 L523.18,1719.7 L523.31,1718.7 L523.45,1717.7 L523.58,1716.7 L523.72,1715.7 L523.85,1714.7 L523.99,1713.7 L524.12,1712.7 L524.26,1711.7 L524.4,1710.7 L524.54,1709.7 L524.68,1708.7 L524.82,1707.7 L524.96,1706.7 L525.1,1705.7 L525.24,1704.7 L525.38,1703.7 L525.53,1702.7 L525.67,1701.7 L525.81,1700.7 L525.96,1699.7 L526.1,1698.7 L526.25,1697.7 L526.39,1696.7 L526.54,1695.7 L526.69,1694.7 L526.83,1693.7 L526.98,1692.7 L527.13,1691.7 L527.28,1690.7 L527.42,1689.7 L527.57,1688.7 L527.72,1687.7 L527.86,1686.7 L528.01,1685.7 L528.16,1684.7 L528.3,1683.7 L528.45,1682.7 L528.59,1681.7 L528.74,1680.7 L528.88,1679.7 L529.03,1678.7 L529.17,1677.7 L529.32,1676.7 L529.46,1675.7 L529.6,1674.7 L529.74,1673.7 L529.89,1672.7 L530.03,1671.7 L530.17,1670.7 L530.31,1669.7 L530.45,1668.7 L530.6,1667.7 L530.74,1666.7 L530.88,1665.7 L531.02,1664.7 L531.16,1663.7 L531.3,1662.7 L531.44,1661.7 L531.58,1660.7 L531.72,1659.7 L531.86,1658.7 L532,1657.7 L532.13,1656.7 L532.27,1655.7 L532.41,1654.7 L532.55,1653.7 L532.69,1652.7 L532.83,1651.7 L532.96,1650.7 L533.1,1649.7 L533.24,1648.7 L533.38,1647.7 L533.52,1646.7 L533.65,1645.7 L533.79,1644.7 L533.93,1643.7 L534.07,1642.7 L534.21,1641.7 L534.35,1640.7 L534.5,1639.7 L534.64,1638.7 L534.78,1637.7 L534.93,1636.7 L535.08,1635.7 L535.23,1634.7 L535.38,1633.7 L535.53,1632.7 L535.69,1631.7 L535.85,1630.7 L536.01,1629.7 L536.17,1628.7 L536.33,1627.7 L536.5,1626.7 L536.67,1625.7 L536.84,1624.7 L537.01,1623.7 L537.18,1622.7 L537.35,1621.7 L537.53,1620.7 L537.71,1619.7 L537.88,1618.7 L538.06,1617.7 L538.24,1616.7 L538.42,1615.7 L538.59,1614.7 L538.77,1613.7 L538.95,1612.7 L539.13,1611.7 L539.31,1610.7 L539.48,1609.7 L539.66,1608.7 L539.84,1607.7 L540.01,1606.7 L540.19,1605.7 L540.36,1604.7 L540.53,1603.7 L540.71,1602.7 L540.88,1601.7 L541.05,1600.7 L541.22,1599.7 L541.39,1598.7 L541.56,1597.7 L541.73,1596.7 L541.9,1595.7 L542.07,1594.7 L542.24,1593.7 L542.41,1592.7 L542.57,1591.7 L542.74,1590.7 L542.91,1589.7 L543.07,1588.7 L543.23,1587.7 L543.4,1586.7 L543.56,1585.7 L543.72,1584.7 L543.89,1583.7 L544.05,1582.7 L544.21,1581.7 L544.37,1580.7 L544.52,1579.7 L544.68,1578.7 L544.84,1577.7 L544.99,1576.7 L545.15,1575.7 L545.3,1574.7 L545.46,1573.7 L545.61,1572.7 L545.76,1571.7 L545.91,1570.7 L546.06,1569.7 L546.21,1568.7 L546.36,1567.7 L546.51,1566.7 L546.65,1565.7 L546.8,1564.7 L546.95,1563.7 L547.09,1562.7 L547.24,1561.7 L547.38,1560.7 L547.52,1559.7 L547.67,1558.7 L547.81,1557.7 L547.95,1556.7 L548.09,1555.7 L548.23,1554.7 L548.37,1553.7 L548.51,1552.7 L548.65,1551.7 L548.79,1550.7 L548.93,1549.7 L549.07,1548.7 L549.2,1547.7 L549.34,1546.7 L549.48,1545.7 L549.61,1544.7 L549.75,1543.7 L549.88,1542.7 L550.02,1541.7 L550.15,1540.7 L550.28,1539.7 L550.42,1538.7 L550.55,1537.7 L550.68,1536.7 L550.81,1535.7 L550.95,1534.7 L551.08,1533.7 L551.21,1532.7 L551.34,1531.7 L551.47,1530.7 L551.6,1529.7 L551.73,1528.7 L551.86,1527.7 L551.99,1526.7 L552.12,1525.7 L552.25,1524.7 L552.38,1523.7 L552.51,1522.7 L552.64,1521.7 L552.77,1520.7 L552.9,1519.7 L553.03,1518.7 L553.16,1517.7 L553.29,1516.7 L553.42,1515.7 L553.55,1514.7 L553.68,1513.7 L553.81,1512.7 L553.94,1511.7 L554.07,1510.7 L554.2,1509.7 L554.33,1508.7 L554.46,1507.7 L554.59,1506.7 L554.72,1505.7 L554.85,1504.7 L554.97,1503.7 L555.1,1502.7 L555.23,1501.7 L555.35,1500.7 L555.48,1499.7 L555.6,1498.7 L555.73,1497.7 L555.85,1496.7 L555.97,1495.7 L556.09,1494.7 L556.21,1493.7 L556.32,1492.7 L556.44,1491.7 L556.55,1490.7 L556.67,1489.7 L556.78,1488.7 L556.89,1487.7 L557,1486.7 L557.11,1485.7 L557.22,1484.7 L557.33,1483.7 L557.44,1482.7 L557.55,1481.7 L557.66,1480.7 L557.77,1479.7 L557.88,1478.7 L557.99,1477.7 L558.1,1476.7 L558.21,1475.7 L558.32,1474.7 L558.44,1473.7 L558.55,1472.7 L558.67,1471.7 L558.78,1470.7 L558.9,1469.7 L559.02,1468.7 L559.14,1467.7 L559.25,1466.7 L559.37,1465.7 L559.49,1464.7 L559.61,1463.7 L559.72,1462.7 L559.84,1461.7 L559.95,1460.7 L560.07,1459.7 L560.18,1458.7 L560.29,1457.7 L560.4,1456.7 L560.51,1455.7 L560.62,1454.7 L560.73,1453.7 L560.83,1452.7 L560.94,1451.7 L561.05,1450.7 L561.15,1449.7 L561.26,1448.7 L561.36,1447.7 L561.47,1446.7 L561.57,1445.7 L561.68,1444.7 L561.79,1443.7 L561.89,1442.7 L562,1441.7 L562.11,1440.7 L562.22,1439.7 L562.32,1438.7 L562.43,1437.7 L562.54,1436.7 L562.65,1435.7 L562.76,1434.7 L562.87,1433.7 L562.98,1432.7 L563.09,1431.7 L563.19,1430.7 L563.3,1429.7 L563.41,1428.7 L563.52,1427.7 L563.62,1426.7 L563.72,1425.7 L563.83,1424.7 L563.93,1423.7 L564.03,1422.7 L564.13,1421.7 L564.23,1420.7 L564.32,1419.7 L564.42,1418.7 L564.51,1417.7 L564.6,1416.7 L564.69,1415.7 L564.78,1414.7 L564.87,1413.7 L564.96,1412.7 L565.04,1411.7 L565.13,1410.7 L565.21,1409.7 L565.29,1408.7 L565.37,1407.7 L565.45,1406.7 L565.53,1405.7 L565.6,1404.7 L565.68,1403.7 L565.75,1402.7 L565.82,1401.7 L565.9,1400.7 L565.97,1399.7 L566.04,1398.7 L566.11,1397.7 L566.17,1396.7 L566.24,1395.7 L566.31,1394.7 L566.37,1393.7 L566.43,1392.7 L566.5,1391.7 L566.56,1390.7 L566.62,1389.7 L566.68,1388.7 L566.74,1387.7 L566.79,1386.7 L566.85,1385.7 L566.9,1384.7 L566.96,1383.7 L567.01,1382.7 L567.07,1381.7 L567.12,1380.7 L567.17,1379.7 L567.22,1378.7 L567.27,1377.7 L567.32,1376.7 L567.36,1375.7 L567.41,1374.7 L567.46,1373.7 L567.5,1372.7 L567.55,1371.7 L567.59,1370.7 L567.63,1369.7 L567.68,1368.7 L567.72,1367.7 L567.76,1366.7 L567.8,1365.7 L567.84,1364.7 L567.87,1363.7 L567.91,1362.7 L567.95,1361.7 L567.98,1360.7 L568.02,1359.7 L568.05,1358.7 L568.08,1357.7 L568.11,1356.7 L568.14,1355.7 L568.18,1354.7 L568.2,1353.7 L568.23,1352.7 L568.26,1351.7 L568.29,1350.7 L568.32,1349.7 L568.34,1348.7 L568.37,1347.7 L568.39,1346.7 L568.42,1345.7 L568.44,1344.7 L568.47,1343.7 L568.49,1342.7 L568.52,1341.7 L568.54,1340.7 L568.56,1339.7 L568.58,1338.7 L568.61,1337.7 L568.63,1336.7 L568.65,1335.7 L568.67,1334.7 L568.69,1333.7 L568.72,1332.7 L568.74,1331.7 L568.76,1330.7 L568.78,1329.7 L568.8,1328.7 L568.82,1327.7 L568.84,1326.7 L568.86,1325.7 L568.88,1324.7 L568.9,1323.7 L568.92,1322.7 L568.94,1321.7 L568.96,1320.7 L568.98,1319.7 L569,1318.7 L569.02,1317.7 L569.04,1316.7 L569.06,1315.7 L569.08,1314.7 L569.1,1313.7 L569.12,1312.7 L569.14,1311.7 L569.16,1310.7 L569.18,1309.7 L569.21,1308.7 L569.23,1307.7 L569.25,1306.7 L569.28,1305.7 L569.31,1304.7 L569.33,1303.7 L569.36,1302.7 L569.39,1301.7 L569.42,1300.7 L569.45,1299.7 L569.49,1298.7 L569.52,1297.7 L569.56,1296.7 L569.59,1295.7 L569.63,1294.7 L569.67,1293.7 L569.71,1292.7 L569.75,1291.7 L569.8,1290.7 L569.84,1289.7 L569.89,1288.7 L569.94,1287.7 L569.99,1286.7 L570.04,1285.7 L570.09,1284.7 L570.14,1283.7 L570.2,1282.7 L570.25,1281.7 L570.31,1280.7 L570.36,1279.7 L570.42,1278.7 L570.48,1277.7 L570.54,1276.7 L570.6,1275.7 L570.67,1274.7 L570.73,1273.7 L570.79,1272.7 L570.86,1271.7 L570.92,1270.7 L570.99,1269.7 L571.06,1268.7 L571.13,1267.7 L571.2,1266.7 L571.28,1265.7 L571.35,1264.7 L571.43,1263.7 L571.51,1262.7 L571.6,1261.7 L571.8,1261.7 L571.81,1262.7 L571.82,1263.7 L571.84,1264.7 L571.85,1265.7 L571.86,1266.7 L571.88,1267.7 L571.89,1268.7 L571.9,1269.7 L571.92,1270.7 L571.93,1271.7 L571.94,1272.7 L571.96,1273.7 L571.97,1274.7 L571.99,1275.7 L572,1276.7 L572.02,1277.7 L572.03,1278.7 L572.05,1279.7 L572.06,1280.7 L572.08,1281.7 L572.1,1282.7 L572.11,1283.7 L572.13,1284.7 L572.15,1285.7 L572.16,1286.7 L572.18,1287.7 L572.2,1288.7 L572.22,1289.7 L572.23,1290.7 L572.25,1291.7 L572.27,1292.7 L572.29,1293.7 L572.31,1294.7 L572.32,1295.7 L572.34,1296.7 L572.36,1297.7 L572.38,1298.7 L572.4,1299.7 L572.42,1300.7 L572.44,1301.7 L572.46,1302.7 L572.48,1303.7 L572.5,1304.7 L572.52,1305.7 L572.55,1306.7 L572.57,1307.7 L572.59,1308.7 L572.61,1309.7 L572.63,1310.7 L572.66,1311.7 L572.68,1312.7 L572.7,1313.7 L572.73,1314.7 L572.75,1315.7 L572.78,1316.7 L572.8,1317.7 L572.83,1318.7 L572.85,1319.7 L572.88,1320.7 L572.91,1321.7 L572.93,1322.7 L572.96,1323.7 L572.99,1324.7 L573.02,1325.7 L573.05,1326.7 L573.08,1327.7 L573.11,1328.7 L573.14,1329.7 L573.17,1330.7 L573.2,1331.7 L573.23,1332.7 L573.26,1333.7 L573.3,1334.7 L573.33,1335.7 L573.36,1336.7 L573.4,1337.7 L573.43,1338.7 L573.47,1339.7 L573.5,1340.7 L573.54,1341.7 L573.58,1342.7 L573.62,1343.7 L573.65,1344.7 L573.69,1345.7 L573.73,1346.7 L573.77,1347.7 L573.81,1348.7 L573.85,1349.7 L573.9,1350.7 L573.94,1351.7 L573.98,1352.7 L574.03,1353.7 L574.07,1354.7 L574.12,1355.7 L574.16,1356.7 L574.21,1357.7 L574.25,1358.7 L574.3,1359.7 L574.35,1360.7 L574.4,1361.7 L574.45,1362.7 L574.5,1363.7 L574.55,1364.7 L574.6,1365.7 L574.66,1366.7 L574.71,1367.7 L574.76,1368.7 L574.82,1369.7 L574.88,1370.7 L574.93,1371.7 L574.99,1372.7 L575.05,1373.7 L575.11,1374.7 L575.17,1375.7 L575.23,1376.7 L575.3,1377.7 L575.36,1378.7 L575.43,1379.7 L575.49,1380.7 L575.56,1381.7 L575.63,1382.7 L575.7,1383.7 L575.77,1384.7 L575.84,1385.7 L575.91,1386.7 L575.99,1387.7 L576.06,1388.7 L576.14,1389.7 L576.22,1390.7 L576.3,1391.7 L576.38,1392.7 L576.46,1393.7 L576.55,1394.7 L576.64,1395.7 L576.72,1396.7 L576.81,1397.7 L576.9,1398.7 L577,1399.7 L577.09,1400.7 L577.19,1401.7 L577.28,1402.7 L577.38,1403.7 L577.48,1404.7 L577.59,1405.7 L577.69,1406.7 L577.8,1407.7 L577.9,1408.7 L578.01,1409.7 L578.12,1410.7 L578.24,1411.7 L578.35,1412.7 L578.47,1413.7 L578.59,1414.7 L578.71,1415.7 L578.84,1416.7 L578.96,1417.7 L579.09,1418.7 L579.22,1419.7 L579.36,1420.7 L579.49,1421.7 L579.63,1422.7 L579.77,1423.7 L579.91,1424.7 L580.06,1425.7 L580.21,1426.7 L580.36,1427.7 L580.51,1428.7 L580.67,1429.7 L580.83,1430.7 L580.99,1431.7 L581.15,1432.7 L581.32,1433.7 L581.48,1434.7 L581.66,1435.7 L581.83,1436.7 L582,1437.7 L582.18,1438.7 L582.36,1439.7 L582.55,1440.7 L582.74,1441.7 L582.92,1442.7 L583.12,1443.7 L583.31,1444.7 L583.51,1445.7 L583.71,1446.7 L583.92,1447.7 L584.12,1448.7 L584.33,1449.7 L584.54,1450.7 L584.76,1451.7 L584.98,1452.7 L585.2,1453.7 L585.42,1454.7 L585.64,1455.7 L585.87,1456.7 L586.1,1457.7 L586.32,1458.7 L586.55,1459.7 L586.79,1460.7 L587.02,1461.7 L587.25,1462.7 L587.49,1463.7 L587.72,1464.7 L587.96,1465.7 L588.19,1466.7 L588.43,1467.7 L588.67,1468.7 L588.91,1469.7 L589.15,1470.7 L589.39,1471.7 L589.63,1472.7 L589.87,1473.7 L590.11,1474.7 L590.35,1475.7 L590.6,1476.7 L590.84,1477.7 L591.08,1478.7 L591.32,1479.7 L591.57,1480.7 L591.81,1481.7 L592.06,1482.7 L592.3,1483.7 L592.55,1484.7 L592.79,1485.7 L593.04,1486.7 L593.28,1487.7 L593.53,1488.7 L593.78,1489.7 L594.02,1490.7 L594.27,1491.7 L594.52,1492.7 L594.76,1493.7 L595.01,1494.7 L595.26,1495.7 L595.5,1496.7 L595.75,1497.7 L596,1498.7 L596.24,1499.7 L596.49,1500.7 L596.74,1501.7 L596.99,1502.7 L597.24,1503.7 L597.48,1504.7 L597.73,1505.7 L597.98,1506.7 L598.23,1507.7 L598.48,1508.7 L598.73,1509.7 L598.98,1510.7 L599.23,1511.7 L599.48,1512.7 L599.73,1513.7 L599.98,1514.7 L600.23,1515.7 L600.49,1516.7 L600.74,1517.7 L600.99,1518.7 L601.24,1519.7 L601.5,1520.7 L601.75,1521.7 L602,1522.7 L602.26,1523.7 L602.51,1524.7 L602.76,1525.7 L603.02,1526.7 L603.27,1527.7 L603.53,1528.7 L603.78,1529.7 L604.04,1530.7 L604.3,1531.7 L604.55,1532.7 L604.81,1533.7 L605.06,1534.7 L605.32,1535.7 L605.57,1536.7 L605.83,1537.7 L606.08,1538.7 L606.34,1539.7 L606.59,1540.7 L606.85,1541.7 L607.1,1542.7 L607.36,1543.7 L607.61,1544.7 L607.87,1545.7 L608.12,1546.7 L608.37,1547.7 L608.63,1548.7 L608.88,1549.7 L609.14,1550.7 L609.39,1551.7 L609.64,1552.7 L609.89,1553.7 L610.15,1554.7 L610.4,1555.7 L610.65,1556.7 L610.9,1557.7 L611.15,1558.7 L611.4,1559.7 L611.65,1560.7 L611.9,1561.7 L612.15,1562.7 L612.4,1563.7 L612.64,1564.7 L612.89,1565.7 L613.13,1566.7 L613.38,1567.7 L613.62,1568.7 L613.86,1569.7 L614.1,1570.7 L614.34,1571.7 L614.57,1572.7 L614.81,1573.7 L615.04,1574.7 L615.27,1575.7 L615.5,1576.7 L615.73,1577.7 L615.96,1578.7 L616.19,1579.7 L616.41,1580.7 L616.64,1581.7 L616.86,1582.7 L617.08,1583.7 L617.3,1584.7 L617.52,1585.7 L617.74,1586.7 L617.95,1587.7 L618.17,1588.7 L618.39,1589.7 L618.6,1590.7 L618.82,1591.7 L619.04,1592.7 L619.25,1593.7 L619.47,1594.7 L619.68,1595.7 L619.9,1596.7 L620.11,1597.7 L620.33,1598.7 L620.54,1599.7 L620.76,1600.7 L620.98,1601.7 L621.19,1602.7 L621.41,1603.7 L621.63,1604.7 L621.85,1605.7 L622.06,1606.7 L622.28,1607.7 L622.5,1608.7 L622.72,1609.7 L622.94,1610.7 L623.17,1611.7 L623.39,1612.7 L623.61,1613.7 L623.84,1614.7 L624.07,1615.7 L624.29,1616.7 L624.52,1617.7 L624.75,1618.7 L624.98,1619.7 L625.22,1620.7 L625.45,1621.7 L625.69,1622.7 L625.93,1623.7 L626.16,1624.7 L626.4,1625.7 L626.65,1626.7 L626.89,1627.7 L627.13,1628.7 L627.38,1629.7 L627.62,1630.7 L627.87,1631.7 L628.12,1632.7 L628.36,1633.7 L628.61,1634.7 L628.86,1635.7 L629.11,1636.7 L629.36,1637.7 L629.62,1638.7 L629.87,1639.7 L630.12,1640.7 L630.37,1641.7 L630.62,1642.7 L630.87,1643.7 L631.13,1644.7 L631.38,1645.7 L631.63,1646.7 L631.89,1647.7 L632.14,1648.7 L632.39,1649.7 L632.65,1650.7 L632.9,1651.7 L633.15,1652.7 L633.41,1653.7 L633.66,1654.7 L633.91,1655.7 L634.17,1656.7 L634.42,1657.7 L634.67,1658.7 L634.92,1659.7 L635.17,1660.7 L635.42,1661.7 L635.67,1662.7 L635.92,1663.7 L636.17,1664.7 L636.42,1665.7 L636.67,1666.7 L636.91,1667.7 L637.16,1668.7 L637.4,1669.7 L637.65,1670.7 L637.89,1671.7 L638.13,1672.7 L638.37,1673.7 L638.61,1674.7 L638.85,1675.7 L639.09,1676.7 L639.32,1677.7 L639.56,1678.7 L639.79,1679.7 L640.03,1680.7 L640.26,1681.7 L640.49,1682.7 L640.72,1683.7 L640.95,1684.7 L641.18,1685.7 L641.41,1686.7 L641.63,1687.7 L641.86,1688.7 L642.08,1689.7 L642.3,1690.7 L642.52,1691.7 L642.74,1692.7 L642.96,1693.7 L643.18,1694.7 L643.4,1695.7 L643.61,1696.7 L643.83,1697.7 L644.04,1698.7 L644.25,1699.7 L644.46,1700.7 L644.67,1701.7 L644.88,1702.7 L645.09,1703.7 L645.3,1704.7 L645.5,1705.7 L645.7,1706.7 L645.91,1707.7 L646.11,1708.7 L646.31,1709.7 L646.5,1710.7 L646.7,1711.7 L646.9,1712.7 L647.09,1713.7 L647.28,1714.7 L647.47,1715.7 L647.66,1716.7 L647.85,1717.7 L648.03,1718.7 L648.21,1719.7 L648.39,1720.7 L648.57,1721.7 L648.75,1722.7 L648.92,1723.7 L649.1,1724.7 L649.27,1725.7 L649.44,1726.7 L649.61,1727.7 L649.78,1728.7 L649.94,1729.7 L650.1,1730.7 L650.27,1731.7 L650.43,1732.7 L650.59,1733.7 L650.74,1734.7 L650.9,1735.7 L651.06,1736.7 L651.21,1737.7 L651.36,1738.7 L651.51,1739.7 L651.66,1740.7 L651.81,1741.7 L651.96,1742.7 L652.11,1743.7 L652.26,1744.7 L652.4,1745.7 L652.55,1746.7 L652.7,1747.7 L652.84,1748.7 L652.98,1749.7 L653.13,1750.7 L653.27,1751.7 L653.41,1752.7 L653.55,1753.7 L653.69,1754.7 L653.83,1755.7 L653.97,1756.7 L654.1,1757.7 L654.24,1758.7 L654.37,1759.7 L654.51,1760.7 L654.64,1761.7 L654.77,1762.7 L654.9,1763.7 L655.03,1764.7 L655.16,1765.7 L655.29,1766.7 L655.41,1767.7 L655.53,1768.7 L655.65,1769.7 L655.78,1770.7 L655.89,1771.7 L656.01,1772.7 L656.13,1773.7 L656.24,1774.7 L656.35,1775.7 L656.46,1776.7 L656.57,1777.7 L656.68,1778.7 L656.79,1779.7 L656.89,1780.7 L657,1781.7 L657.1,1782.7 L657.2,1783.7 L657.3,1784.7 L657.4,1785.7 L657.49,1786.7 L657.59,1787.7 L657.68,1788.7 L657.77,1789.7 L657.86,1790.7 L657.95,1791.7 L658.03,1792.7 L658.12,1793.7 L658.2,1794.7 L658.28,1795.7 L658.36,1796.7 L658.43,1797.7 L658.51,1798.7 L658.58,1799.7 L658.65,1800.7 L658.72,1801.7 L658.79,1802.7 L658.86,1803.7 L658.92,1804.7 L658.99,1805.7 L659.05,1806.7 L659.11,1807.7 L659.17,1808.7 L659.22,1809.7 L659.28,1810.7 L659.33,1811.7 L659.39,1812.7 L659.44,1813.7 L659.49,1814.7 L659.54,1815.7 L659.58,1816.7 L659.63,1817.7 L659.67,1818.7 L659.71,1819.7 L659.75,1820.7 L659.79,1821.7 L659.83,1822.7 L659.86,1823.7 L659.9,1824.7 L659.93,1825.7 L659.96,1826.7 L659.99,1827.7 L660.02,1828.7 L660.05,1829.7 L660.08,1830.7 L660.1,1831.7 L660.13,1832.7 L660.15,1833.7 L660.17,1834.7 L660.19,1835.7 L660.21,1836.7 L660.23,1837.7 L660.25,1838.7 L660.26,1839.7 L660.28,1840.7 L660.29,1841.7 L660.31,1842.7 L660.32,1843.7 L660.33,1844.7 L660.34,1845.7 L660.35,1846.7 L660.36,1847.7 L660.36,1848.7 L660.37,1849.7 L660.37,1850.7 L660.38,1851.7 L660.38,1852.7 L660.39,1853.7 L660.39,1854.2 Z" fill="#dc2d2d"/>
<path d="M514.61,1854.2 L514.61,1853.7 L514.61,1852.7 L514.61,1851.7 L514.61,1850.7 L514.62,1849.7 L514.62,1848.7 L514.63,1847.7 L514.63,1846.7 L514.64,1845.7 L514.64,1844.7 L514.65,1843.7 L514.66,1842.7 L514.67,1841.7 L514.67,1840.7 L514.68,1839.7 L514.69,1838.7 L514.71,1837.7 L514.72,1836.7 L514.73,1835.7 L514.74,1834.7 L514.76,1833.7 L514.77,1832.7 L514.79,1831.7 L514.8,1830.7 L514.82,1829.7 L514.84,1828.7 L514.86,1827.7 L514.88,1826.7 L514.89,1825.7 L514.91,1824.7 L514.93,1823.7 L514.96,1822.7 L514.98,1821.7 L515,1820.7 L515.02,1819.7 L515.05,1818.7 L515.07,1817.7 L515.1,1816.7 L515.13,1815.7 L515.15,1814.7 L515.18,1813.7 L515.21,1812.7 L515.24,1811.7 L515.28,1810.7 L515.31,1809.7 L515.35,1808.7 L515.38,1807.7 L515.42,1806.7 L515.46,1805.7 L515.5,1804.7 L515.55,1803.7 L515.59,1802.7 L515.64,1801.7 L515.68,1800.7 L515.73,1799.7 L515.78,1798.7 L515.83,1797.7 L515.88,1796.7 L515.94,1795.7 L515.99,1794.7 L516.04,1793.7 L516.1,1792.7 L516.16,1791.7 L516.22,1790.7 L516.28,1789.7 L516.34,1788.7 L516.4,1787.7 L516.46,1786.7 L516.52,1785.7 L516.58,1784.7 L516.65,1783.7 L516.72,1782.7 L516.78,1781.7 L516.85,1780.7 L516.92,1779.7 L516.99,1778.7 L517.06,1777.7 L517.13,1776.7 L517.21,1775.7 L517.28,1774.7 L517.36,1773.7 L517.44,1772.7 L517.52,1771.7 L517.6,1770.7 L517.68,1769.7 L517.77,1768.7 L517.85,1767.7 L517.94,1766.7 L518.03,1765.7 L518.12,1764.7 L518.21,1763.7 L518.3,1762.7 L518.39,1761.7 L518.49,1760.7 L518.58,1759.7 L518.68,1758.7 L518.77,1757.7 L518.87,1756.7 L518.97,1755.7 L519.07,1754.7 L519.17,1753.7 L519.27,1752.7 L519.37,1751.7 L519.48,1750.7 L519.58,1749.7 L519.69,1748.7 L519.79,1747.7 L519.9,1746.7 L520.01,1745.7 L520.12,1744.7 L520.23,1743.7 L520.34,1742.7 L520.45,1741.7 L520.57,1740.7 L520.68,1739.7 L520.8,1738.7 L520.91,1737.7 L521.03,1736.7 L521.15,1735.7 L521.27,1734.7 L521.39,1733.7 L521.51,1732.7 L521.64,1731.7 L521.76,1730.7 L521.89,1729.7 L522.01,1728.7 L522.14,1727.7 L522.27,1726.7 L522.4,1725.7 L522.53,1724.7 L522.65,1723.7 L522.79,1722.7 L522.92,1721.7 L523.05,1720.7 L523.18,1719.7 L523.31,1718.7 L523.45,1717.7 L523.58,1716.7 L523.72,1715.7 L523.85,1714.7 L523.99,1713.7 L524.12,1712.7 L524.26,1711.7 L524.4,1710.7 L524.54,1709.7 L524.68,1708.7 L524.82,1707.7 L524.96,1706.7 L525.1,1705.7 L525.24,1704.7 L525.38,1703.7 L525.53,1702.7 L525.67,1701.7 L525.81,1700.7 L525.96,1699.7 L526.1,1698.7 L526.25,1697.7 L526.39,1696.7 L526.54,1695.7 L526.69,1694.7 L526.83,1693.7 L526.98,1692.7 L527.13,1691.7 L527.28,1690.7 L527.42,1689.7 L527.57,1688.7 L527.72,1687.7 L527.86,1686.7 L528.01,1685.7 L528.16,1684.7 L528.3,1683.7 L528.45,1682.7 L528.59,1681.7 L528.74,1680.7 L528.88,1679.7 L529.03,1678.7 L529.17,1677.7 L529.32,1676.7 L529.46,1675.7 L529.6,1674.7 L529.74,1673.7 L529.89,1672.7 L530.03,1671.7 L530.17,1670.7 L530.31,1669.7 L530.45,1668.7 L530.6,1667.7 L530.74,1666.7 L530.88,1665.7 L531.02,1664.7 L531.16,1663.7 L531.3,1662.7 L531.44,1661.7 L531.58,1660.7 L531.72,1659.7 L531.86,1658.7 L532,1657.7 L532.13,1656.7 L532.27,1655.7 L532.41,1654.7 L532.55,1653.7 L532.69,1652.7 L532.83,1651.7 L532.96,1650.7 L533.1,1649.7 L533.24,1648.7 L533.38,1647.7 L533.52,1646.7 L533.65,1645.7 L533.79,1644.7 L533.93,1643.7 L534.07,1642.7 L534.21,1641.7 L534.35,1640.7 L534.5,1639.7 L534.64,1638.7 L534.78,1637.7 L534.93,1636.7 L535.08,1635.7 L535.23,1634.7 L535.38,1633.7 L535.53,1632.7 L535.69,1631.7 L535.85,1630.7 L536.01,1629.7 L536.17,1628.7 L536.33,1627.7 L536.5,1626.7 L536.67,1625.7 L536.84,1624.7 L537.01,1623.7 L537.18,1622.7 L537.35,1621.7 L537.53,1620.7 L537.71,1619.7 L537.88,1618.7 L538.06,1617.7 L538.24,1616.7 L538.42,1615.7 L538.59,1614.7 L538.77,1613.7 L538.95,1612.7 L539.13,1611.7 L539.31,1610.7 L539.48,1609.7 L539.66,1608.7 L539.84,1607.7 L540.01,1606.7 L540.19,1605.7 L540.36,1604.7 L540.53,1603.7 L540.71,1602.7 L540.88,1601.7 L541.05,1600.7 L541.22,1599.7 L541.39,1598.7 L541.56,1597.7 L541.73,1596.7 L541.9,1595.7 L542.07,1594.7 L542.24,1593.7 L542.41,1592.7 L542.57,1591.7 L542.74,1590.7 L542.91,1589.7 L543.07,1588.7 L543.23,1587.7 L543.4,1586.7 L543.56,1585.7 L543.72,1584.7 L543.89,1583.7 L544.05,1582.7 L544.21,1581.7 L544.37,1580.7 L544.52,1579.7 L544.68,1578.7 L544.84,1577.7 L544.99,1576.7 L545.15,1575.7 L545.3,1574.7 L545.46,1573.7 L545.61,1572.7 L545.76,1571.7 L545.91,1570.7 L546.06,1569.7 L546.21,1568.7 L546.36,1567.7 L546.51,1566.7 L546.65,1565.7 L546.8,1564.7 L546.95,1563.7 L547.09,1562.7 L547.24,1561.7 L547.38,1560.7 L547.52,1559.7 L547.67,1558.7 L547.81,1557.7 L547.95,1556.7 L548.09,1555.7 L548.23,1554.7 L548.37,1553.7 L548.51,1552.7 L548.65,1551.7 L548.79,1550.7 L548.93,1549.7 L549.07,1548.7 L549.2,1547.7 L549.34,1546.7 L549.48,1545.7 L549.61,1544.7 L549.75,1543.7 L549.88,1542.7 L550.02,1541.7 L550.15,1540.7 L550.28,1539.7 L550.42,1538.7 L550.55,1537.7 L550.68,1536.7 L550.81,1535.7 L550.95,1534.7 L551.08,1533.7 L551.21,1532.7 L551.34,1531.7 L551.47,1530.7 L551.6,1529.7 L551.73,1528.7 L551.86,1527.7 L551.99,1526.7 L552.12,1525.7 L552.25,1524.7 L552.38,1523.7 L552.51,1522.7 L552.64,1521.7 L552.77,1520.7 L552.9,1519.7 L553.03,1518.7 L553.16,1517.7 L553.29,1516.7 L553.42,1515.7 L553.55,1514.7 L553.68,1513.7 L553.81,1512.7 L553.94,1511.7 L554.07,1510.7 L554.2,1509.7 L554.33,1508.7 L554.46,1507.7 L554.59,1506.7 L554.72,1505.7 L554.85,1504.7 L554.97,1503.7 L555.1,1502.7 L555.23,1501.7 L555.35,1500.7 L555.48,1499.7 L555.6,1498.7 L555.73,1497.7 L555.85,1496.7 L555.97,1495.7 L556.09,1494.7 L556.21,1493.7 L556.32,1492.7 L556.44,1491.7 L556.55,1490.7 L556.67,1489.7 L556.78,1488.7 L556.89,1487.7 L557,1486.7 L557.11,1485.7 L557.22,1484.7 L557.33,1483.7 L557.44,1482.7 L557.55,1481.7 L557.66,1480.7 L557.77,1479.7 L557.88,1478.7 L557.99,1477.7 L558.1,1476.7 L558.21,1475.7 L558.32,1474.7 L558.44,1473.7 L558.55,1472.7 L558.67,1471.7 L558.78,1470.7 L558.9,1469.7 L559.02,1468.7 L559.14,1467.7 L559.25,1466.7 L559.37,1465.7 L559.49,1464.7 L559.61,1463.7 L559.72,1462.7 L559.84,1461.7 L559.95,1460.7 L560.07,1459.7 L560.18,1458.7 L560.29,1457.7 L560.4,1456.7 L560.51,1455.7 L560.62,1454.7 L560.73,1453.7 L560.83,1452.7 L560.94,1451.7 L561.05,1450.7 L561.15,1449.7 L561.26,1448.7 L561.36,1447.7 L561.47,1446.7 L561.57,1445.7 L561.68,1444.7 L561.79,1443.7 L561.89,1442.7 L562,1441.7 L562.11,1440.7 L562.22,1439.7 L562.32,1438.7 L562.43,1437.7 L562.54,1436.7 L562.65,1435.7 L562.76,1434.7 L562.87,1433.7 L562.98,1432.7 L563.09,1431.7 L563.19,1430.7 L563.3,1429.7 L563.41,1428.7 L563.52,1427.7 L563.62,1426.7 L563.72,1425.7 L563.83,1424.7 L563.93,1423.7 L564.03,1422.7 L564.13,1421.7 L564.23,1420.7 L564.32,1419.7 L564.42,1418.7 L564.51,1417.7 L564.6,1416.7 L564.69,1415.7 L564.78,1414.7 L564.87,1413.7 L564.96,1412.7 L565.04,1411.7 L565.13,1410.7 L565.21,1409.7 L565.29,1408.7 L565.37,1407.7 L565.45,1406.7 L565.53,1405.7 L565.6,1404.7 L565.68,1403.7 L565.75,1402.7 L565.82,1401.7 L565.9,1400.7 L565.97,1399.7 L566.04,1398.7 L566.11,1397.7 L566.17,1396.7 L566.24,1395.7 L566.31,1394.7 L566.37,1393.7 L566.43,1392.7 L566.5,1391.7 L566.56,1390.7 L566.62,1389.7 L566.68,1388.7 L566.74,1387.7 L566.79,1386.7 L566.85,1385.7 L566.9,1384.7 L566.96,1383.7 L567.01,1382.7 L567.07,1381.7 L567.12,1380.7 L567.17,1379.7 L567.22,1378.7 L567.27,1377.7 L567.32,1376.7 L567.36,1375.7 L567.41,1374.7 L567.46,1373.7 L567.5,1372.7 L567.55,1371.7 L567.59,1370.7 L567.63,1369.7 L567.68,1368.7 L567.72,1367.7 L567.76,1366.7 L567.8,1365.7 L567.84,1364.7 L567.87,1363.7 L567.91,1362.7 L567.95,1361.7 L567.98,1360.7 L568.02,1359.7 L568.05,1358.7 L568.08,1357.7 L568.11,1356.7 L568.14,1355.7 L568.18,1354.7 L568.2,1353.7 L568.23,1352.7 L568.26,1351.7 L568.29,1350.7 L568.32,1349.7 L568.34,1348.7 L568.37,1347.7 L568.39,1346.7 L568.42,1345.7 L568.44,1344.7 L568.47,1343.7 L568.49,1342.7 L568.52,1341.7 L568.54,1340.7 L568.56,1339.7 L568.58,1338.7 L568.61,1337.7 L568.63,1336.7 L568.65,1335.7 L568.67,1334.7 L568.69,1333.7 L568.72,1332.7 L568.74,1331.7 L568.76,1330.7 L568.78,1329.7 L568.8,1328.7 L568.82,1327.7 L568.84,1326.7 L568.86,1325.7 L568.88,1324.7 L568.9,1323.7 L568.92,1322.7 L568.94,1321.7 L568.96,1320.7 L568.98,1319.7 L569,1318.7 L569.02,1317.7 L569.04,1316.7 L569.06,1315.7 L569.08,1314.7 L569.1,1313.7 L569.12,1312.7 L569.14,1311.7 L569.16,1310.7 L569.18,1309.7 L569.21,1308.7 L569.23,1307.7 L569.25,1306.7 L569.28,1305.7 L569.31,1304.7 L569.33,1303.7 L569.36,1302.7 L569.39,1301.7 L569.42,1300.7 L569.45,1299.7 L569.49,1298.7 L569.52,1297.7 L569.56,1296.7 L569.59,1295.7 L569.63,1294.7 L569.67,1293.7 L569.71,1292.7 L569.75,1291.7 L569.8,1290.7 L569.84,1289.7 L569.89,1288.7 L569.94,1287.7 L569.99,1286.7 L570.04,1285.7 L570.09,1284.7 L570.14,1283.7 L570.2,1282.7 L570.25,1281.7 L570.31,1280.7 L570.36,1279.7 L570.42,1278.7 L570.48,1277.7 L570.54,1276.7 L570.6,1275.7 L570.67,1274.7 L570.73,1273.7 L570.79,1272.7 L570.86,1271.7 L570.92,1270.7 L570.99,1269.7 L571.06,1268.7 L571.13,1267.7 L571.2,1266.7 L571.28,1265.7 L571.35,1264.7 L571.43,1263.7 L571.51,1262.7 L571.6,1261.7 L571.8,1261.7 L571.81,1262.7 L571.82,1263.7 L571.84,1264.7 L571.85,1265.7 L571.86,1266.7 L571.88,1267.7 L571.89,1268.7 L571.9,1269.7 L571.92,1270.7 L571.93,1271.7 L571.94,1272.7 L571.96,1273.7 L571.97,1274.7 L571.99,1275.7 L572,1276.7 L572.02,1277.7 L572.03,1278.7 L572.05,1279.7 L572.06,1280.7 L572.08,1281.7 L572.1,1282.7 L572.11,1283.7 L572.13,1284.7 L572.15,1285.7 L572.16,1286.7 L572.18,1287.7 L572.2,1288.7 L572.22,1289.7 L572.23,1290.7 L572.25,1291.7 L572.27,1292.7 L572.29,1293.7 L572.31,1294.7 L572.32,1295.7 L572.34,1296.7 L572.36,1297.7 L572.38,1298.7 L572.4,1299.7 L572.42,1300.7 L572.44,1301.7 L572.46,1302.7 L572.48,1303.7 L572.5,1304.7 L572.52,1305.7 L572.55,1306.7 L572.57,1307.7 L572.59,1308.7 L572.61,1309.7 L572.63,1310.7 L572.66,1311.7 L572.68,1312.7 L572.7,1313.7 L572.73,1314.7 L572.75,1315.7 L572.78,1316.7 L572.8,1317.7 L572.83,1318.7 L572.85,1319.7 L572.88,1320.7 L572.91,1321.7 L572.93,1322.7 L572.96,1323.7 L572.99,1324.7 L573.02,1325.7 L573.05,1326.7 L573.08,1327.7 L573.11,1328.7 L573.14,1329.7 L573.17,1330.7 L573.2,1331.7 L573.23,1332.7 L573.26,1333.7 L573.3,1334.7 L573.33,1335.7 L573.36,1336.7 L573.4,1337.7 L573.43,1338.7 L573.47,1339.7 L573.5,1340.7 L573.54,1341.7 L573.58,1342.7 L573.62,1343.7 L573.65,1344.7 L573.69,1345.7 L573.73,1346.7 L573.77,1347.7 L573.81,1348.7 L573.85,1349.7 L573.9,1350.7 L573.94,1351.7 L573.98,1352.7 L574.03,1353.7 L574.07,1354.7 L574.12,1355.7 L574.16,1356.7 L574.21,1357.7 L574.25,1358.7 L574.3,1359.7 L574.35,1360.7 L574.4,1361.7 L574.45,1362.7 L574.5,1363.7 L574.55,1364.7 L574.6,1365.7 L574.66,1366.7 L574.71,1367.7 L574.76,1368.7 L574.82,1369.7 L574.88,1370.7 L574.93,1371.7 L574.99,1372.7 L575.05,1373.7 L575.11,1374.7 L575.17,1375.7 L575.23,1376.7 L575.3,1377.7 L575.36,1378.7 L575.43,1379.7 L575.49,1380.7 L575.56,1381.7 L575.63,1382.7 L575.7,1383.7 L575.77,1384.7 L575.84,1385.7 L575.91,1386.7 L575.99,1387.7 L576.06,1388.7 L576.14,1389.7 L576.22,1390.7 L576.3,1391.7 L576.38,1392.7 L576.46,1393.7 L576.55,1394.7 L576.64,1395.7 L576.72,1396.7 L576.81,1397.7 L576.9,1398.7 L577,1399.7 L577.09,1400.7 L577.19,1401.7 L577.28,1402.7 L577.38,1403.7 L577.48,1404.7 L577.59,1405.7 L577.69,1406.7 L577.8,1407.7 L577.9,1408.7 L578.01,1409.7 L578.12,1410.7 L578.24,1411.7 L578.35,1412.7 L578.47,1413.7 L578.59,1414.7 L578.71,1415.7 L578.84,1416.7 L578.96,1417.7 L579.09,1418.7 L579.22,1419.7 L579.36,1420.7 L579.49,1421.7 L579.63,1422.7 L579.77,1423.7 L579.91,1424.7 L580.06,1425.7 L580.21,1426.7 L580.36,1427.7 L580.51,1428.7 L580.67,1429.7 L580.83,1430.7 L580.99,1431.7 L581.15,1432.7 L581.32,1433.7 L581.48,1434.7 L581.66,1435.7 L581.83,1436.7 L582,1437.7 L582.18,1438.7 L582.36,1439.7 L582.55,1440.7 L582.74,1441.7 L582.92,1442.7 L583.12,1443.7 L583.31,1444.7 L583.51,1445.7 L583.71,1446.7 L583.92,1447.7 L584.12,1448.7 L584.33,1449.7 L584.54,1450.7 L584.76,1451.7 L584.98,1452.7 L585.2,1453.7 L585.42,1454.7 L585.64,1455.7 L585.87,1456.7 L586.1,1457.7 L586.32,1458.7 L586.55,1459.7 L586.79,1460.7 L587.02,1461.7 L587.25,1462.7 L587.49,1463.7 L587.72,1464.7 L587.96,1465.7 L588.19,1466.7 L588.43,1467.7 L588.67,1468.7 L588.91,1469.7 L589.15,1470.7 L589.39,1471.7 L589.63,1472.7 L589.87,1473.7 L590.11,1474.7 L590.35,1475.7 L590.6,1476.7 L590.84,1477.7 L591.08,1478.7 L591.32,1479.7 L591.57,1480.7 L591.81,1481.7 L592.06,1482.7 L592.3,1483.7 L592.55,1484.7 L592.79,1485.7 L593.04,1486.7 L593.28,1487.7 L593.53,1488.7 L593.78,1489.7 L594.02,1490.7 L594.27,1491.7 L594.52,1492.7 L594.76,1493.7 L595.01,1494.7 L595.26,1495.7 L595.5,1496.7 L595.75,1497.7 L596,1498.7 L596.24,1499.7 L596.49,1500.7 L596.74,1501.7 L596.99,1502.7 L597.24,1503.7 L597.48,1504.7 L597.73,1505.7 L597.98,1506.7 L598.23,1507.7 L598.48,1508.7 L598.73,1509.7 L598.98,1510.7 L599.23,1511.7 L599.48,1512.7 L599.73,1513.7 L599.98,1514.7 L600.23,1515.7 L600.49,1516.7 L600.74,1517.7 L600.99,1518.7 L601.24,1519.7 L601.5,1520.7 L601.75,1521.7 L602,1522.7 L602.26,1523.7 L602.51,1524.7 L602.76,1525.7 L603.02,1526.7 L603.27,1527.7 L603.53,1528.7 L603.78,1529.7 L604.04,1530.7 L604.3,1531.7 L604.55,1532.7 L604.81,1533.7 L605.06,1534.7 L605.32,1535.7 L605.57,1536.7 L605.83,1537.7 L606.08,1538.7 L606.34,1539.7 L606.59,1540.7 L606.85,1541.7 L607.1,1542.7 L607.36,1543.7 L607.61,1544.7 L607.87,1545.7 L608.12,1546.7 L608.37,1547.7 L608.63,1548.7 L608.88,1549.7 L609.14,1550.7 L609.39,1551.7 L609.64,1552.7 L609.89,1553.7 L610.15,1554.7 L610.4,1555.7 L610.65,1556.7 L610.9,1557.7 L611.15,1558.7 L611.4,1559.7 L611.65,1560.7 L611.9,1561.7 L612.15,1562.7 L612.4,1563.7 L612.64,1564.7 L612.89,1565.7 L613.13,1566.7 L613.38,1567.7 L613.62,1568.7 L613.86,1569.7 L614.1,1570.7 L614.34,1571.7 L614.57,1572.7 L614.81,1573.7 L615.04,1574.7 L615.27,1575.7 L615.5,1576.7 L615.73,1577.7 L615.96,1578.7 L616.19,1579.7 L616.41,1580.7 L616.64,1581.7 L616.86,1582.7 L617.08,1583.7 L617.3,1584.7 L617.52,1585.7 L617.74,1586.7 L617.95,1587.7 L618.17,1588.7 L618.39,1589.7 L618.6,1590.7 L618.82,1591.7 L619.04,1592.7 L619.25,1593.7 L619.47,1594.7 L619.68,1595.7 L619.9,1596.7 L620.11,1597.7 L620.33,1598.7 L620.54,1599.7 L620.76,1600.7 L620.98,1601.7 L621.19,1602.7 L621.41,1603.7 L621.63,1604.7 L621.85,1605.7 L622.06,1606.7 L622.28,1607.7 L622.5,1608.7 L622.72,1609.7 L622.94,1610.7 L623.17,1611.7 L623.39,1612.7 L623.61,1613.7 L623.84,1614.7 L624.07,1615.7 L624.29,1616.7 L624.52,1617.7 L624.75,1618.7 L624.98,1619.7 L625.22,1620.7 L625.45,1621.7 L625.69,1622.7 L625.93,1623.7 L626.16,1624.7 L626.4,1625.7 L626.65,1626.7 L626.89,1627.7 L627.13,1628.7 L627.38,1629.7 L627.62,1630.7 L627.87,1631.7 L628.12,1632.7 L628.36,1633.7 L628.61,1634.7 L628.86,1635.7 L629.11,1636.7 L629.36,1637.7 L629.62,1638.7 L629.87,1639.7 L630.12,1640.7 L630.37,1641.7 L630.62,1642.7 L630.87,1643.7 L631.13,1644.7 L631.38,1645.7 L631.63,1646.7 L631.89,1647.7 L632.14,1648.7 L632.39,1649.7 L632.65,1650.7 L632.9,1651.7 L633.15,1652.7 L633.41,1653.7 L633.66,1654.7 L633.91,1655.7 L634.17,1656.7 L634.42,1657.7 L634.67,1658.7 L634.92,1659.7 L635.17,1660.7 L635.42,1661.7 L635.67,1662.7 L635.92,1663.7 L636.17,1664.7 L636.42,1665.7 L636.67,1666.7 L636.91,1667.7 L637.16,1668.7 L637.4,1669.7 L637.65,1670.7 L637.89,1671.7 L638.13,1672.7 L638.37,1673.7 L638.61,1674.7 L638.85,1675.7 L639.09,1676.7 L639.32,1677.7 L639.56,1678.7 L639.79,1679.7 L640.03,1680.7 L640.26,1681.7 L640.49,1682.7 L640.72,1683.7 L640.95,1684.7 L641.18,1685.7 L641.41,1686.7 L641.63,1687.7 L641.86,1688.7 L642.08,1689.7 L642.3,1690.7 L642.52,1691.7 L642.74,1692.7 L642.96,1693.7 L643.18,1694.7 L643.4,1695.7 L643.61,1696.7 L643.83,1697.7 L644.04,1698.7 L644.25,1699.7 L644.46,1700.7 L644.67,1701.7 L644.88,1702.7 L645.09,1703.7 L645.3,1704.7 L645.5,1705.7 L645.7,1706.7 L645.91,1707.7 L646.11,1708.7 L646.31,1709.7 L646.5,1710.7 L646.7,1711.7 L646.9,1712.7 L647.09,1713.7 L647.28,1714.7 L647.47,1715.7 L647.66,1716.7 L647.85,1717.7 L648.03,1718.7 L648.21,1719.7 L648.39,1720.7 L648.57,1721.7 L648.75,1722.7 L648.92,1723.7 L649.1,1724.7 L649.27,1725.7 L649.44,1726.7 L649.61,1727.7 L649.78,1728.7 L649.94,1729.7 L650.1,1730.7 L650.27,1731.7 L650.43,1732.7 L650.59,1733.7 L650.74,1734.7 L650.9,1735.7 L651.06,1736.7 L651.21,1737.7 L651.36,1738.7 L651.51,1739.7 L651.66,1740.7 L651.81,1741.7 L651.96,1742.7 L652.11,1743.7 L652.26,1744.7 L652.4,1745.7 L652.55,1746.7 L652.7,1747.7 L652.84,1748.7 L652.98,1749.7 L653.13,1750.7 L653.27,1751.7 L653.41,1752.7 L653.55,1753.7 L653.69,1754.7 L653.83,1755.7 L653.97,1756.7 L654.1,1757.7 L654.24,1758.7 L654.37,1759.7 L654.51,1760.7 L654.64,1761.7 L654.77,1762.7 L654.9,1763.7 L655.03,1764.7 L655.16,1765.7 L655.29,1766.7 L655.41,1767.7 L655.53,1768.7 L655.65,1769.7 L655.78,1770.7 L655.89,1771.7 L656.01,1772.7 L656.13,1773.7 L656.24,1774.7 L656.35,1775.7 L656.46,1776.7 L656.57,1777.7 L656.68,1778.7 L656.79,1779.7 L656.89,1780.7 L657,1781.7 L657.1,1782.7 L657.2,1783.7 L657.3,1784.7 L657.4,1785.7 L657.49,1786.7 L657.59,1787.7 L657.68,1788.7 L657.77,1789.7 L657.86,1790.7 L657.95,1791.7 L658.03,1792.7 L658.12,1793.7 L658.2,1794.7 L658.28,1795.7 L658.36,1796.7 L658.43,1797.7 L658.51,1798.7 L658.58,1799.7 L658.65,1800.7 L658.72,1801.7 L658.79,1802.7 L658.86,1803.7 L658.92,1804.7 L658.99,1805.7 L659.05,1806.7 L659.11,1807.7 L659.17,1808.7 L659.22,1809.7 L659.28,1810.7 L659.33,1811.7 L659.39,1812.7 L659.44,1813.7 L659.49,1814.7 L659.54,1815.7 L659.58,1816.7 L659.63,1817.7 L659.67,1818.7 L659.71,1819.7 L659.75,1820.7 L659.79,1821.7 L659.83,1822.7 L659.86,1823.7 L659.9,1824.7 L659.93,1825.7 L659.96,1826.7 L659.99,1827.7 L660.02,1828.7 L660.05,1829.7 L660.08,1830.7 L660.1,1831.7 L660.13,1832.7 L660.15,1833.7 L660.17,1834.7 L660.19,1835.7 L660.21,1836.7 L660.23,1837.7 L660.25,1838.7 L660.26,1839.7 L660.28,1840.7 L660.29,1841.7 L660.31,1842.7 L660.32,1843.7 L660.33,1844.7 L660.34,1845.7 L660.35,1846.7 L660.36,1847.7 L660.36,1848.7 L660.37,1849.7 L660.37,1850.7 L660.38,1851.7 L660.38,1852.7 L660.39,1853.7 L660.39,1854.2" fill="none" stroke="#6b6b6b" stroke-width="1.7" stroke-linejoin="round"/>
<rect x="298" y="1850.5" width="420" height="3.7" fill="#ffffff" opacity="0.62"/>
<line x1="299.2" y1="1855.4" x2="716.8" y2="1855.4" stroke="#6b6b6b" stroke-width="2.2"/>
<line x1="508" y1="373" x2="679.4" y2="373" stroke="#000" stroke-width="4.2"/>
<path d="M268,61.6 L260.2,67.1 L260.2,361.6 L268,367.6" fill="none" stroke="#000" stroke-width="4" stroke-linejoin="miter"/>
<path d="M268,395.9 L260.2,401.4 L260.2,1148.4 L268,1154.4" fill="none" stroke="#000" stroke-width="4" stroke-linejoin="miter"/>
<path d="M268,1182.7 L260.2,1188.2 L260.2,1850.3 L268,1856.3" fill="none" stroke="#000" stroke-width="4" stroke-linejoin="miter"/>
<g font-family="'DejaVu Sans', Verdana, sans-serif" font-size="38.7" fill="#000">
<text x="68.5" y="190.9">Pre-GD</text>
<text x="68.5" y="229.8">initialing</text>
<text x="68.5" y="268.7">drivers</text>
<text x="68.5" y="764.6">Post-GD</text>
<text x="68.5" y="803.6">clonal/</text>
<text x="68.5" y="843">subclonal</text>
<text x="68.5" y="1507.9">Late</text>
<text x="68.5" y="1546.7">drivers</text>
<text x="696.2" y="367.6">Genome</text>
<text x="696.2" y="406.8">doubling</text>
</g>
</g>
<g font-family="'Liberation Sans', Arial, Helvetica, sans-serif" font-size="18.5" fill="#000">
<text x="1116.7" y="62.3" text-anchor="middle" font-size="26.3">Mutations</text>
<text x="1478.9" y="62.2" text-anchor="middle" font-size="26.3">Gene-level CNAs</text>
<text x="1116.2" y="708.4" text-anchor="middle" font-size="26.3">Arm-level CNAs</text>
<text x="1116.6" y="662.7" text-anchor="middle" font-size="26.3">Proportion</text>
<text x="1116.4" y="1416.2" text-anchor="middle" font-size="26.3">Proportion</text>
<text x="1841.8" y="554" text-anchor="middle" font-size="26.3">Proportion</text>
<rect x="1041" y="72" width="143.6" height="15.7" fill="#644b8c"/>
<text x="1032" y="86.85" text-anchor="end" font-style="italic">BRIP1</text>
<text x="1191" y="86.45" font-size="21">1 / 0</text>
<rect x="1041" y="92.04" width="143.6" height="15.7" fill="#644b8c"/>
<text x="1032" y="106.89" text-anchor="end" font-style="italic">CDK6</text>
<text x="1191" y="106.49" font-size="21">1 / 0</text>
<rect x="1041" y="112.08" width="143.6" height="15.7" fill="#644b8c"/>
<text x="1032" y="126.93" text-anchor="end" font-style="italic">CNTN6</text>
<text x="1191" y="126.53" font-size="21">1 / 0</text>
<rect x="1041" y="132.12" width="143.6" height="15.7" fill="#644b8c"/>
<text x="1032" y="146.97" text-anchor="end" font-style="italic">DDX5</text>
<text x="1191" y="146.57" font-size="21">1 / 0</text>
<rect x="1041" y="152.16" width="143.6" height="15.7" fill="#644b8c"/>
<text x="1032" y="167.01" text-anchor="end" font-style="italic">DKK2</text>
<text x="1191" y="166.61" font-size="21">1 / 0</text>
<rect x="1041" y="172.2" width="143.6" height="15.7" fill="#644b8c"/>
<text x="1032" y="187.05" text-anchor="end" font-style="italic">ERN1</text>
<text x="1191" y="186.65" font-size="21">1 / 0</text>
<rect x="1041" y="192.24" width="143.6" height="15.7" fill="#644b8c"/>
<text x="1032" y="207.09" text-anchor="end" font-style="italic">FCRL4</text>
<text x="1191" y="206.69" font-size="21">1 / 0</text>
<rect x="1041" y="212.28" width="143.6" height="15.7" fill="#644b8c"/>
<text x="1032" y="227.13" text-anchor="end" font-style="italic">FLI1</text>
<text x="1191" y="226.73" font-size="21">1 / 0</text>
<rect x="1041" y="232.32" width="143.6" height="15.7" fill="#644b8c"/>
<text x="1032" y="247.17" text-anchor="end" font-style="italic">KMT2D</text>
<text x="1191" y="246.77" font-size="21">1 / 0</text>
<rect x="1041" y="252.36" width="143.6" height="15.7" fill="#644b8c"/>
<text x="1032" y="267.21" text-anchor="end" font-style="italic">MUC16</text>
<text x="1191" y="266.81" font-size="21">1 / 0</text>
<rect x="1041" y="272.4" width="143.6" height="15.7" fill="#644b8c"/>
<text x="1032" y="287.25" text-anchor="end" font-style="italic">PIK3R2</text>
<text x="1191" y="286.85" font-size="21">1 / 0</text>
<rect x="1041" y="292.44" width="143.6" height="15.7" fill="#644b8c"/>
<text x="1032" y="307.29" text-anchor="end" font-style="italic">RECQL4</text>
<text x="1191" y="306.89" font-size="21">1 / 0</text>
<rect x="1041" y="312.48" width="143.6" height="15.7" fill="#644b8c"/>
<text x="1032" y="327.33" text-anchor="end" font-style="italic">SEPT9</text>
<text x="1191" y="326.93" font-size="21">1 / 0</text>
<rect x="1041" y="332.52" width="143.6" height="15.7" fill="#644b8c"/>
<text x="1032" y="347.37" text-anchor="end" font-style="italic">TEAD2</text>
<text x="1191" y="346.97" font-size="21">1 / 0</text>
<rect x="1041" y="352.56" width="143.6" height="15.7" fill="#644b8c"/>
<text x="1032" y="367.41" text-anchor="end" font-style="italic">TERT</text>
<text x="1191" y="367.01" font-size="21">1 / 0</text>
<rect x="1041" y="372.6" width="143.6" height="15.7" fill="#644b8c"/>
<text x="1032" y="387.45" text-anchor="end" font-style="italic">TP53</text>
<text x="1191" y="387.05" font-size="21">2 / 0</text>
<rect x="1041" y="392.64" width="143.6" height="15.7" fill="#808080"/>
<text x="1032" y="407.49" text-anchor="end" font-style="italic">BRD4</text>
<text x="1191" y="407.09" font-size="21">0 / 1</text>
<rect x="1041" y="412.68" width="143.6" height="15.7" fill="#808080"/>
<text x="1032" y="427.53" text-anchor="end" font-style="italic">CRTC1</text>
<text x="1191" y="427.13" font-size="21">0 / 1</text>
<rect x="1041" y="432.72" width="143.6" height="15.7" fill="#808080"/>
<text x="1032" y="447.57" text-anchor="end" font-style="italic">MLLT1</text>
<text x="1191" y="447.17" font-size="21">0 / 1</text>
<rect x="1041" y="452.76" width="143.6" height="15.7" fill="#808080"/>
<text x="1032" y="467.61" text-anchor="end" font-style="italic">PTPRB</text>
<text x="1191" y="467.21" font-size="21">0 / 1</text>
<rect x="1041" y="472.8" width="143.6" height="15.7" fill="#808080"/>
<text x="1032" y="487.65" text-anchor="end" font-style="italic">RASAL2</text>
<text x="1191" y="487.25" font-size="21">0 / 1</text>
<rect x="1041" y="492.84" width="143.6" height="15.7" fill="#000000"/>
<text x="1032" y="507.69" text-anchor="end" font-style="italic">KLF4</text>
<text x="1191" y="507.29" font-size="21">0 / 1</text>
<rect x="1041" y="512.88" width="143.6" height="15.7" fill="#000000"/>
<text x="1032" y="527.73" text-anchor="end" font-style="italic">KMT2B</text>
<text x="1191" y="527.33" font-size="21">0 / 1</text>
<rect x="1041" y="532.92" width="143.6" height="15.7" fill="#000000"/>
<text x="1032" y="547.77" text-anchor="end" font-style="italic">MYH9</text>
<text x="1191" y="547.37" font-size="21">0 / 1</text>
<rect x="1041" y="552.96" width="143.6" height="15.7" fill="#000000"/>
<text x="1032" y="567.81" text-anchor="end" font-style="italic">SPEN</text>
<text x="1191" y="567.41" font-size="21">0 / 1</text>
<rect x="1041" y="573" width="143.6" height="15.7" fill="#000000"/>
<text x="1032" y="587.85" text-anchor="end" font-style="italic">TCF3</text>
<text x="1191" y="587.45" font-size="21">0 / 1</text>
<text x="1041" y="613.3" text-anchor="middle" font-size="18.5">0</text>
<text x="1112.8" y="613.3" text-anchor="middle" font-size="18.5">0.5</text>
<text x="1184.6" y="613.3" text-anchor="middle" font-size="18.5">1</text>
<rect x="1403.4" y="71.8" width="144" height="14.9" fill="#644b8c"/>
<text x="1349" y="86.25" text-anchor="end" font-style="italic">ACVR1</text>
<text x="1354" y="86.25">AMP</text>
<text x="1554" y="85.85" font-size="21">1 / 0</text>
<rect x="1403.4" y="90.84" width="144" height="14.9" fill="#644b8c"/>
<text x="1349" y="105.29" text-anchor="end" font-style="italic">BCL6</text>
<text x="1354" y="105.29">AMP</text>
<text x="1554" y="104.89" font-size="21">1 / 0</text>
<rect x="1403.4" y="109.89" width="144" height="14.9" fill="#644b8c"/>
<text x="1349" y="124.34" text-anchor="end" font-style="italic">CD79B</text>
<text x="1354" y="124.34">AMP</text>
<text x="1554" y="123.94" font-size="21">1 / 0</text>
<rect x="1403.4" y="128.93" width="144" height="14.9" fill="#644b8c"/>
<text x="1349" y="143.38" text-anchor="end" font-style="italic">DDX5</text>
<text x="1354" y="143.38">AMP</text>
<text x="1554" y="142.98" font-size="21">1 / 0</text>
<rect x="1403.4" y="147.98" width="144" height="14.9" fill="#644b8c"/>
<text x="1349" y="162.43" text-anchor="end" font-style="italic">DVL3</text>
<text x="1354" y="162.43">AMP</text>
<text x="1554" y="162.03" font-size="21">1 / 0</text>
<rect x="1403.4" y="167.02" width="144" height="14.9" fill="#644b8c"/>
<text x="1349" y="181.47" text-anchor="end" font-style="italic">ETV5</text>
<text x="1354" y="181.47">AMP</text>
<text x="1554" y="181.07" font-size="21">1 / 0</text>
<rect x="1403.4" y="186.06" width="144" height="14.9" fill="#644b8c"/>
<text x="1349" y="200.51" text-anchor="end" font-style="italic">FOXA1</text>
<text x="1354" y="200.51">AMP</text>
<text x="1554" y="200.11" font-size="21">1 / 0</text>
<rect x="1403.4" y="205.11" width="144" height="14.9" fill="#644b8c"/>
<text x="1349" y="219.56" text-anchor="end" font-style="italic">FZD6</text>
<text x="1354" y="219.56">AMP</text>
<text x="1554" y="219.16" font-size="21">1 / 0</text>
<rect x="1403.4" y="224.15" width="144" height="14.9" fill="#644b8c"/>
<text x="1349" y="238.6" text-anchor="end" font-style="italic">GRB2</text>
<text x="1354" y="238.6">AMP</text>
<text x="1554" y="238.2" font-size="21">1 / 0</text>
<rect x="1403.4" y="243.2" width="144" height="14.9" fill="#644b8c"/>
<text x="1349" y="257.65" text-anchor="end" font-style="italic">HIPK2</text>
<text x="1354" y="257.65">AMP</text>
<text x="1554" y="257.25" font-size="21">1 / 0</text>
<rect x="1403.4" y="262.24" width="144" height="14.9" fill="#644b8c"/>
<text x="1349" y="276.69" text-anchor="end" font-style="italic">HLF</text>
<text x="1354" y="276.69">AMP</text>
<text x="1554" y="276.29" font-size="21">1 / 0</text>
<rect x="1403.4" y="281.28" width="144" height="14.9" fill="#644b8c"/>
<text x="1349" y="295.73" text-anchor="end" font-style="italic">IRS2</text>
<text x="1354" y="295.73">AMP</text>
<text x="1554" y="295.33" font-size="21">1 / 0</text>
<rect x="1403.4" y="300.33" width="144" height="14.9" fill="#644b8c"/>
<text x="1349" y="314.78" text-anchor="end" font-style="italic">JAK2</text>
<text x="1354" y="314.78">AMP</text>
<text x="1554" y="314.38" font-size="21">1 / 0</text>
<rect x="1403.4" y="319.37" width="144" height="14.9" fill="#644b8c"/>
<text x="1349" y="333.82" text-anchor="end" font-style="italic">KAT7</text>
<text x="1354" y="333.82">AMP</text>
<text x="1554" y="333.42" font-size="21">1 / 0</text>
<rect x="1403.4" y="338.42" width="144" height="14.9" fill="#644b8c"/>
<text x="1349" y="352.87" text-anchor="end" font-style="italic">KDR</text>
<text x="1354" y="352.87">AMP</text>
<text x="1554" y="352.47" font-size="21">1 / 0</text>
<rect x="1403.4" y="357.46" width="144" height="14.9" fill="#644b8c"/>
<text x="1349" y="371.91" text-anchor="end" font-style="italic">KIT</text>
<text x="1354" y="371.91">AMP</text>
<text x="1554" y="371.51" font-size="21">1 / 0</text>
<rect x="1403.4" y="376.5" width="144" height="14.9" fill="#644b8c"/>
<text x="1349" y="390.95" text-anchor="end" font-style="italic">LGR4</text>
<text x="1354" y="390.95">AMP</text>
<text x="1554" y="390.55" font-size="21">1 / 0</text>
<rect x="1403.4" y="395.55" width="144" height="14.9" fill="#644b8c"/>
<text x="1349" y="410" text-anchor="end" font-style="italic">LMO2</text>
<text x="1354" y="410">AMP</text>
<text x="1554" y="409.6" font-size="21">1 / 0</text>
<rect x="1403.4" y="414.59" width="144" height="14.9" fill="#644b8c"/>
<text x="1349" y="429.04" text-anchor="end" font-style="italic">LPP</text>
<text x="1354" y="429.04">AMP</text>
<text x="1554" y="428.64" font-size="21">1 / 0</text>
<rect x="1403.4" y="433.64" width="144" height="14.9" fill="#644b8c"/>
<text x="1349" y="448.09" text-anchor="end" font-style="italic">LRP5</text>
<text x="1354" y="448.09">AMP</text>
<text x="1554" y="447.69" font-size="21">1 / 0</text>
<rect x="1403.4" y="452.68" width="144" height="14.9" fill="#644b8c"/>
<text x="1349" y="467.13" text-anchor="end" font-style="italic">MAP3K13</text>
<text x="1354" y="467.13">AMP</text>
<text x="1554" y="466.73" font-size="21">1 / 0</text>
<rect x="1403.4" y="471.72" width="144" height="14.9" fill="#644b8c"/>
<text x="1349" y="486.17" text-anchor="end" font-style="italic">MSI2</text>
<text x="1354" y="486.17">AMP</text>
<text x="1554" y="485.77" font-size="21">1 / 0</text>
<rect x="1403.4" y="490.77" width="144" height="14.9" fill="#644b8c"/>
<text x="1349" y="505.22" text-anchor="end" font-style="italic">MUC16</text>
<text x="1354" y="505.22">AMP</text>
<text x="1554" y="504.82" font-size="21">1 / 0</text>
<rect x="1403.4" y="509.81" width="144" height="14.9" fill="#644b8c"/>
<text x="1349" y="524.26" text-anchor="end" font-style="italic">MYOD1</text>
<text x="1354" y="524.26">AMP</text>
<text x="1554" y="523.86" font-size="21">1 / 0</text>
<rect x="1403.4" y="528.86" width="144" height="14.9" fill="#644b8c"/>
<text x="1349" y="543.31" text-anchor="end" font-style="italic">NOTCH2</text>
<text x="1354" y="543.31">AMP</text>
<text x="1554" y="542.91" font-size="21">1 / 0</text>
<rect x="1403.4" y="547.9" width="144" height="14.9" fill="#644b8c"/>
<text x="1349" y="562.35" text-anchor="end" font-style="italic">PAX5</text>
<text x="1354" y="562.35">AMP</text>
<text x="1554" y="561.95" font-size="21">1 / 0</text>
<rect x="1403.4" y="566.94" width="144" height="14.9" fill="#644b8c"/>
<text x="1349" y="581.39" text-anchor="end" font-style="italic">PDCD1LG2</text>
<text x="1354" y="581.39">AMP</text>
<text x="1554" y="580.99" font-size="21">1 / 0</text>
<rect x="1403.4" y="585.99" width="144" height="14.9" fill="#644b8c"/>
<text x="1349" y="600.44" text-anchor="end" font-style="italic">PDGFRA</text>
<text x="1354" y="600.44">AMP</text>
<text x="1554" y="600.04" font-size="21">1 / 0</text>
<rect x="1403.4" y="605.03" width="144" height="14.9" fill="#644b8c"/>
<text x="1349" y="619.48" text-anchor="end" font-style="italic">PIK3CA</text>
<text x="1354" y="619.48">AMP</text>
<text x="1554" y="619.08" font-size="21">1 / 0</text>
<rect x="1403.4" y="624.08" width="144" height="14.9" fill="#644b8c"/>
<text x="1349" y="638.53" text-anchor="end" font-style="italic">PPM1D</text>
<text x="1354" y="638.53">AMP</text>
<text x="1554" y="638.13" font-size="21">1 / 0</text>
<rect x="1403.4" y="643.12" width="144" height="14.9" fill="#644b8c"/>
<text x="1349" y="657.57" text-anchor="end" font-style="italic">PRKAR1A</text>
<text x="1354" y="657.57">AMP</text>
<text x="1554" y="657.17" font-size="21">1 / 0</text>
<rect x="1403.4" y="662.16" width="144" height="14.9" fill="#644b8c"/>
<text x="1349" y="676.61" text-anchor="end" font-style="italic">PSIP1</text>
<text x="1354" y="676.61">AMP</text>
<text x="1554" y="676.21" font-size="21">1 / 0</text>
<rect x="1403.4" y="681.21" width="144" height="14.9" fill="#644b8c"/>
<text x="1349" y="695.66" text-anchor="end" font-style="italic">RECQL4</text>
<text x="1354" y="695.66">AMP</text>
<text x="1554" y="695.26" font-size="21">1 / 0</text>
<rect x="1403.4" y="700.25" width="144" height="14.9" fill="#644b8c"/>
<text x="1349" y="714.7" text-anchor="end" font-style="italic">RPS6</text>
<text x="1354" y="714.7">AMP</text>
<text x="1554" y="714.3" font-size="21">1 / 0</text>
<rect x="1403.4" y="719.3" width="144" height="14.9" fill="#644b8c"/>
<text x="1349" y="733.75" text-anchor="end" font-style="italic">RPS6KB1</text>
<text x="1354" y="733.75">AMP</text>
<text x="1554" y="733.35" font-size="21">1 / 0</text>
<rect x="1403.4" y="738.34" width="144" height="14.9" fill="#644b8c"/>
<text x="1349" y="752.79" text-anchor="end" font-style="italic">RSPO1</text>
<text x="1354" y="752.79">AMP</text>
<text x="1554" y="752.39" font-size="21">1 / 0</text>
<rect x="1403.4" y="757.38" width="144" height="14.9" fill="#644b8c"/>
<text x="1349" y="771.83" text-anchor="end" font-style="italic">RSPO3</text>
<text x="1354" y="771.83">AMP</text>
<text x="1554" y="771.43" font-size="21">1 / 0</text>
<rect x="1403.4" y="776.43" width="144" height="14.9" fill="#644b8c"/>
<text x="1349" y="790.88" text-anchor="end" font-style="italic">SGK1</text>
<text x="1354" y="790.88">AMP</text>
<text x="1554" y="790.48" font-size="21">1 / 0</text>
<rect x="1403.4" y="795.47" width="144" height="14.9" fill="#644b8c"/>
<text x="1349" y="809.92" text-anchor="end" font-style="italic">SRSF2</text>
<text x="1354" y="809.92">AMP</text>
<text x="1554" y="809.52" font-size="21">1 / 0</text>
<rect x="1403.4" y="814.52" width="144" height="14.9" fill="#644b8c"/>
<text x="1349" y="828.97" text-anchor="end" font-style="italic">WT1</text>
<text x="1354" y="828.97">AMP</text>
<text x="1554" y="828.57" font-size="21">1 / 0</text>
<rect x="1403.4" y="833.56" width="144" height="14.9" fill="#644b8c"/>
<text x="1349" y="848.01" text-anchor="end" font-style="italic">ARHGEF10</text>
<text x="1354" y="848.01">DEL</text>
<text x="1554" y="847.61" font-size="21">1 / 0</text>
<rect x="1403.4" y="852.6" width="144" height="14.9" fill="#644b8c"/>
<text x="1349" y="867.05" text-anchor="end" font-style="italic">ASXL2</text>
<text x="1354" y="867.05">DEL</text>
<text x="1554" y="866.65" font-size="21">1 / 0</text>
<rect x="1403.4" y="871.65" width="144" height="14.9" fill="#644b8c"/>
<text x="1349" y="886.1" text-anchor="end" font-style="italic">CREBBP</text>
<text x="1354" y="886.1">DEL</text>
<text x="1554" y="885.7" font-size="21">1 / 0</text>
<rect x="1403.4" y="890.69" width="144" height="14.9" fill="#644b8c"/>
<text x="1349" y="905.14" text-anchor="end" font-style="italic">DKK4</text>
<text x="1354" y="905.14">DEL</text>
<text x="1554" y="904.74" font-size="21">1 / 0</text>
<rect x="1403.4" y="909.74" width="144" height="14.9" fill="#644b8c"/>
<text x="1349" y="924.19" text-anchor="end" font-style="italic">DNMT3A</text>
<text x="1354" y="924.19">DEL</text>
<text x="1554" y="923.79" font-size="21">1 / 0</text>
<rect x="1403.4" y="928.78" width="144" height="14.9" fill="#644b8c"/>
<text x="1349" y="943.23" text-anchor="end" font-style="italic">JAK1</text>
<text x="1354" y="943.23">DEL</text>
<text x="1554" y="942.83" font-size="21">1 / 0</text>
<rect x="1403.4" y="947.82" width="144" height="14.9" fill="#644b8c"/>
<text x="1349" y="962.27" text-anchor="end" font-style="italic">LATS2</text>
<text x="1354" y="962.27">DEL</text>
<text x="1554" y="961.87" font-size="21">1 / 0</text>
<rect x="1403.4" y="966.87" width="144" height="14.9" fill="#644b8c"/>
<text x="1349" y="981.32" text-anchor="end" font-style="italic">MAP3K1</text>
<text x="1354" y="981.32">DEL</text>
<text x="1554" y="980.92" font-size="21">1 / 0</text>
<rect x="1403.4" y="985.91" width="144" height="14.9" fill="#644b8c"/>
<text x="1349" y="1000.36" text-anchor="end" font-style="italic">MGMT</text>
<text x="1354" y="1000.36">DEL</text>
<text x="1554" y="999.96" font-size="21">1 / 0</text>
<rect x="1403.4" y="1004.96" width="144" height="14.9" fill="#644b8c"/>
<text x="1349" y="1019.41" text-anchor="end" font-style="italic">MXI1</text>
<text x="1354" y="1019.41">DEL</text>
<text x="1554" y="1019.01" font-size="21">1 / 0</text>
<rect x="1403.4" y="1024" width="144" height="14.9" fill="#644b8c"/>
<text x="1349" y="1038.45" text-anchor="end" font-style="italic">NF1</text>
<text x="1354" y="1038.45">DEL</text>
<text x="1554" y="1038.05" font-size="21">1 / 0</text>
<rect x="1403.4" y="1043.04" width="144" height="14.9" fill="#644b8c"/>
<text x="1349" y="1057.49" text-anchor="end" font-style="italic">PIK3R1</text>
<text x="1354" y="1057.49">DEL</text>
<text x="1554" y="1057.09" font-size="21">1 / 0</text>
<rect x="1403.4" y="1062.09" width="144" height="14.9" fill="#644b8c"/>
<text x="1349" y="1076.54" text-anchor="end" font-style="italic">RB1</text>
<text x="1354" y="1076.54">DEL</text>
<text x="1554" y="1076.14" font-size="21">1 / 0</text>
<rect x="1403.4" y="1081.13" width="144" height="14.9" fill="#644b8c"/>
<text x="1349" y="1095.58" text-anchor="end" font-style="italic">SFRP1</text>
<text x="1354" y="1095.58">DEL</text>
<text x="1554" y="1095.18" font-size="21">1 / 0</text>
<rect x="1403.4" y="1100.18" width="144" height="14.9" fill="#644b8c"/>
<text x="1349" y="1114.63" text-anchor="end" font-style="italic">STK11</text>
<text x="1354" y="1114.63">DEL</text>
<text x="1554" y="1114.23" font-size="21">1 / 0</text>
<rect x="1403.4" y="1119.22" width="144" height="14.9" fill="#644b8c"/>
<text x="1349" y="1133.67" text-anchor="end" font-style="italic">TCF3</text>
<text x="1354" y="1133.67">DEL</text>
<text x="1554" y="1133.27" font-size="21">1 / 0</text>
<rect x="1403.4" y="1138.26" width="144" height="14.9" fill="#644b8c"/>
<text x="1349" y="1152.71" text-anchor="end" font-style="italic">TCF7L2</text>
<text x="1354" y="1152.71">DEL</text>
<text x="1554" y="1152.31" font-size="21">1 / 0</text>
<rect x="1403.4" y="1157.31" width="144" height="14.9" fill="#644b8c"/>
<text x="1349" y="1171.76" text-anchor="end" font-style="italic">CCND1</text>
<text x="1354" y="1171.76">AMP</text>
<text x="1554" y="1171.36" font-size="21">2 / 0</text>
<rect x="1403.4" y="1176.35" width="144" height="14.9" fill="#644b8c"/>
<text x="1349" y="1190.8" text-anchor="end" font-style="italic">FGF19</text>
<text x="1354" y="1190.8">AMP</text>
<text x="1554" y="1190.4" font-size="21">2 / 0</text>
<rect x="1403.4" y="1195.4" width="144" height="14.9" fill="#644b8c"/>
<text x="1349" y="1209.85" text-anchor="end" font-style="italic">FGF3</text>
<text x="1354" y="1209.85">AMP</text>
<text x="1554" y="1209.45" font-size="21">2 / 0</text>
<rect x="1403.4" y="1214.44" width="144" height="14.9" fill="#644b8c"/>
<text x="1349" y="1228.89" text-anchor="end" font-style="italic">FGF4</text>
<text x="1354" y="1228.89">AMP</text>
<text x="1554" y="1228.49" font-size="21">2 / 0</text>
<rect x="1403.4" y="1233.48" width="144" height="14.9" fill="#644b8c"/>
<text x="1349" y="1247.93" text-anchor="end" font-style="italic">MYB</text>
<text x="1354" y="1247.93">AMP</text>
<text x="1554" y="1247.53" font-size="21">2 / 0</text>
<rect x="1403.4" y="1252.53" width="144" height="14.9" fill="#644b8c"/>
<text x="1349" y="1266.98" text-anchor="end" font-style="italic">NRG1</text>
<text x="1354" y="1266.98">DEL</text>
<text x="1554" y="1266.58" font-size="21">2 / 0</text>
<rect x="1403.4" y="1271.57" width="144" height="14.9" fill="#644b8c"/>
<text x="1349" y="1286.02" text-anchor="end" font-style="italic">WRN</text>
<text x="1354" y="1286.02">DEL</text>
<text x="1554" y="1285.62" font-size="21">2 / 0</text>
<rect x="1403.4" y="1290.62" width="144" height="14.9" fill="#644b8c"/>
<text x="1349" y="1305.07" text-anchor="end" font-style="italic">MYC</text>
<text x="1354" y="1305.07">AMP</text>
<text x="1554" y="1304.67" font-size="21">3 / 0</text>
<rect x="1403.4" y="1309.66" width="144" height="14.9" fill="#644b8c"/>
<text x="1349" y="1324.11" text-anchor="end" font-style="italic">DUSP4</text>
<text x="1354" y="1324.11">DEL</text>
<text x="1554" y="1323.71" font-size="21">3 / 0</text>
<rect x="1403.4" y="1328.7" width="144" height="14.9" fill="#644b8c"/>
<text x="1349" y="1343.15" text-anchor="end" font-style="italic">LEPROTL1</text>
<text x="1354" y="1343.15">DEL</text>
<text x="1554" y="1342.75" font-size="21">3 / 0</text>
<text x="1403.4" y="1368.2" text-anchor="middle" font-size="18.5">0</text>
<text x="1475.4" y="1368.2" text-anchor="middle" font-size="18.5">0.5</text>
<text x="1547.4" y="1368.2" text-anchor="middle" font-size="18.5">1</text>
<rect x="1766" y="71.5" width="72.3" height="14.1" fill="#644b8c"/>
<rect x="1838" y="71.5" width="72" height="14.1" fill="#000000"/>
<text x="1712" y="85.55" text-anchor="end" font-style="italic">IGF1R</text>
<text x="1717" y="85.55">AMP</text>
<text x="1917" y="85.15" font-size="21">1 / 1</text>
<rect x="1766" y="89.48" width="72.3" height="14.1" fill="#644b8c"/>
<rect x="1838" y="89.48" width="72" height="14.1" fill="#000000"/>
<text x="1712" y="103.53" text-anchor="end" font-style="italic">SLC34A2</text>
<text x="1717" y="103.53">DEL</text>
<text x="1917" y="103.13" font-size="21">1 / 1</text>
<rect x="1766" y="107.46" width="144" height="14.1" fill="#000000"/>
<text x="1712" y="121.51" text-anchor="end" font-style="italic">AURKA</text>
<text x="1717" y="121.51">AMP</text>
<text x="1917" y="121.11" font-size="21">0 / 1</text>
<rect x="1766" y="125.44" width="144" height="14.1" fill="#000000"/>
<text x="1712" y="139.49" text-anchor="end" font-style="italic">GNAS</text>
<text x="1717" y="139.49">AMP</text>
<text x="1917" y="139.09" font-size="21">0 / 1</text>
<rect x="1766" y="143.42" width="144" height="14.1" fill="#000000"/>
<text x="1712" y="157.47" text-anchor="end" font-style="italic">IDH2</text>
<text x="1717" y="157.47">AMP</text>
<text x="1917" y="157.07" font-size="21">0 / 1</text>
<rect x="1766" y="161.4" width="144" height="14.1" fill="#000000"/>
<text x="1712" y="175.45" text-anchor="end" font-style="italic">MAFB</text>
<text x="1717" y="175.45">AMP</text>
<text x="1917" y="175.05" font-size="21">0 / 1</text>
<rect x="1766" y="179.38" width="144" height="14.1" fill="#000000"/>
<text x="1712" y="193.43" text-anchor="end" font-style="italic">NFATC2</text>
<text x="1717" y="193.43">AMP</text>
<text x="1917" y="193.03" font-size="21">0 / 1</text>
<rect x="1766" y="197.36" width="144" height="14.1" fill="#000000"/>
<text x="1712" y="211.41" text-anchor="end" font-style="italic">PLCG1</text>
<text x="1717" y="211.41">AMP</text>
<text x="1917" y="211.01" font-size="21">0 / 1</text>
<rect x="1766" y="215.34" width="144" height="14.1" fill="#000000"/>
<text x="1712" y="229.39" text-anchor="end" font-style="italic">SALL4</text>
<text x="1717" y="229.39">AMP</text>
<text x="1917" y="228.99" font-size="21">0 / 1</text>
<rect x="1766" y="233.32" width="144" height="14.1" fill="#000000"/>
<text x="1712" y="247.37" text-anchor="end" font-style="italic">SRC</text>
<text x="1717" y="247.37">AMP</text>
<text x="1917" y="246.97" font-size="21">0 / 1</text>
<rect x="1766" y="251.3" width="144" height="14.1" fill="#000000"/>
<text x="1712" y="265.35" text-anchor="end" font-style="italic">ATM</text>
<text x="1717" y="265.35">DEL</text>
<text x="1917" y="264.95" font-size="21">0 / 1</text>
<rect x="1766" y="269.28" width="144" height="14.1" fill="#000000"/>
<text x="1712" y="283.33" text-anchor="end" font-style="italic">BIRC3</text>
<text x="1717" y="283.33">DEL</text>
<text x="1917" y="282.93" font-size="21">0 / 1</text>
<rect x="1766" y="287.26" width="144" height="14.1" fill="#000000"/>
<text x="1712" y="301.31" text-anchor="end" font-style="italic">CASP3</text>
<text x="1717" y="301.31">DEL</text>
<text x="1917" y="300.91" font-size="21">0 / 1</text>
<rect x="1766" y="305.24" width="144" height="14.1" fill="#000000"/>
<text x="1712" y="319.29" text-anchor="end" font-style="italic">DCHS2</text>
<text x="1717" y="319.29">DEL</text>
<text x="1917" y="318.89" font-size="21">0 / 1</text>
<rect x="1766" y="323.22" width="144" height="14.1" fill="#000000"/>
<text x="1712" y="337.27" text-anchor="end" font-style="italic">DDX10</text>
<text x="1717" y="337.27">DEL</text>
<text x="1917" y="336.87" font-size="21">0 / 1</text>
<rect x="1766" y="341.2" width="144" height="14.1" fill="#000000"/>
<text x="1712" y="355.25" text-anchor="end" font-style="italic">FAT1</text>
<text x="1717" y="355.25">DEL</text>
<text x="1917" y="354.85" font-size="21">0 / 1</text>
<rect x="1766" y="359.18" width="144" height="14.1" fill="#000000"/>
<text x="1712" y="373.23" text-anchor="end" font-style="italic">FAT3</text>
<text x="1717" y="373.23">DEL</text>
<text x="1917" y="372.83" font-size="21">0 / 1</text>
<rect x="1766" y="377.16" width="144" height="14.1" fill="#000000"/>
<text x="1712" y="391.21" text-anchor="end" font-style="italic">FBXW7</text>
<text x="1717" y="391.21">DEL</text>
<text x="1917" y="390.81" font-size="21">0 / 1</text>
<rect x="1766" y="395.14" width="144" height="14.1" fill="#000000"/>
<text x="1712" y="409.19" text-anchor="end" font-style="italic">SDHD</text>
<text x="1717" y="409.19">DEL</text>
<text x="1917" y="408.79" font-size="21">0 / 1</text>
<rect x="1766" y="413.12" width="144" height="14.1" fill="#000000"/>
<text x="1712" y="427.17" text-anchor="end" font-style="italic">SFRP2</text>
<text x="1717" y="427.17">DEL</text>
<text x="1917" y="426.77" font-size="21">0 / 1</text>
<rect x="1766" y="431.1" width="144" height="14.1" fill="#000000"/>
<text x="1712" y="445.15" text-anchor="end" font-style="italic">ZBTB16</text>
<text x="1717" y="445.15">DEL</text>
<text x="1917" y="444.75" font-size="21">0 / 1</text>
<rect x="1766" y="449.08" width="144" height="14.1" fill="#000000"/>
<text x="1661.5" y="463.13" text-anchor="end" font-style="italic">NTRK3</text>
<text x="1672" y="463.13">AMP/DEL</text>
<text x="1917" y="462.73" font-size="21">0 / 2</text>
<rect x="1766" y="467.06" width="144" height="14.1" fill="#000000"/>
<text x="1661.5" y="481.11" text-anchor="end" font-style="italic">POLG</text>
<text x="1672" y="481.11">AMP/DEL</text>
<text x="1917" y="480.71" font-size="21">0 / 2</text>
<text x="1766" y="505.76" text-anchor="middle" font-size="18.5">0</text>
<text x="1838" y="505.76" text-anchor="middle" font-size="18.5">0.5</text>
<text x="1910" y="505.76" text-anchor="middle" font-size="18.5">1</text>
<rect x="1041" y="718.7" width="143.6" height="14.9" fill="#644b8c"/>
<text x="1031.5" y="733.15" text-anchor="end">19p DEL</text>
<text x="1191.5" y="732.75" font-size="21">1 / 0</text>
<rect x="1041" y="738.37" width="143.6" height="14.9" fill="#644b8c"/>
<text x="1031.5" y="752.82" text-anchor="end">19q DEL</text>
<text x="1191.5" y="752.42" font-size="21">1 / 0</text>
<rect x="1041" y="758.04" width="143.6" height="14.9" fill="#644b8c"/>
<text x="1031.5" y="772.49" text-anchor="end">20p DEL</text>
<text x="1191.5" y="772.09" font-size="21">1 / 0</text>
<rect x="1041" y="777.7" width="143.6" height="14.9" fill="#644b8c"/>
<text x="1031.5" y="792.15" text-anchor="end">2p DEL</text>
<text x="1191.5" y="791.75" font-size="21">1 / 0</text>
<rect x="1041" y="797.37" width="143.6" height="14.9" fill="#644b8c"/>
<text x="1031.5" y="811.82" text-anchor="end">2q DEL</text>
<text x="1191.5" y="811.42" font-size="21">1 / 0</text>
<rect x="1041" y="817.04" width="96.03" height="14.9" fill="#644b8c"/>
<rect x="1136.73" y="817.04" width="47.87" height="14.9" fill="#000000"/>
<text x="1031.5" y="831.49" text-anchor="end">17p DEL</text>
<text x="1191.5" y="831.09" font-size="21">2 / 1</text>
<rect x="1041" y="836.71" width="96.03" height="14.9" fill="#644b8c"/>
<rect x="1136.73" y="836.71" width="47.87" height="14.9" fill="#000000"/>
<text x="1031.5" y="851.16" text-anchor="end">3p DEL</text>
<text x="1191.5" y="850.76" font-size="21">2 / 1</text>
<rect x="1041" y="856.38" width="72.1" height="14.9" fill="#644b8c"/>
<rect x="1112.8" y="856.38" width="71.8" height="14.9" fill="#000000"/>
<text x="1031.5" y="870.83" text-anchor="end">1q  AMP/DEL</text>
<text x="1191.5" y="870.43" font-size="21">1 / 1</text>
<rect x="1041" y="876.04" width="72.1" height="14.9" fill="#644b8c"/>
<rect x="1112.8" y="876.04" width="71.8" height="14.9" fill="#000000"/>
<text x="1031.5" y="890.49" text-anchor="end">5p DEL</text>
<text x="1191.5" y="890.09" font-size="21">1 / 1</text>
<rect x="1041" y="895.71" width="72.1" height="14.9" fill="#644b8c"/>
<rect x="1112.8" y="895.71" width="71.8" height="14.9" fill="#000000"/>
<text x="1031.5" y="910.16" text-anchor="end">4q DEL</text>
<text x="1191.5" y="909.76" font-size="21">2 / 2</text>
<rect x="1041" y="915.38" width="72.1" height="14.9" fill="#644b8c"/>
<rect x="1112.8" y="915.38" width="71.8" height="14.9" fill="#000000"/>
<text x="1031.5" y="929.83" text-anchor="end">5q DEL</text>
<text x="1191.5" y="929.43" font-size="21">2 / 2</text>
<rect x="1041" y="935.05" width="72.1" height="14.9" fill="#644b8c"/>
<rect x="1112.8" y="935.05" width="24.23" height="14.9" fill="#808080"/>
<rect x="1136.73" y="935.05" width="47.87" height="14.9" fill="#000000"/>
<text x="1031.5" y="949.5" text-anchor="end">14q  AMP/DEL</text>
<text x="1191.5" y="949.1" font-size="21">3 / 3</text>
<rect x="1041" y="954.72" width="57.74" height="14.9" fill="#644b8c"/>
<rect x="1098.44" y="954.72" width="86.16" height="14.9" fill="#000000"/>
<text x="1031.5" y="969.17" text-anchor="end">11q  AMP/DEL</text>
<text x="1191.5" y="968.77" font-size="21">2 / 3</text>
<rect x="1041" y="974.38" width="48.17" height="14.9" fill="#644b8c"/>
<rect x="1088.87" y="974.38" width="48.17" height="14.9" fill="#808080"/>
<rect x="1136.73" y="974.38" width="47.87" height="14.9" fill="#000000"/>
<text x="1031.5" y="988.83" text-anchor="end">13q DEL</text>
<text x="1191.5" y="988.43" font-size="21">1 / 2</text>
<rect x="1041" y="994.05" width="36.2" height="14.9" fill="#644b8c"/>
<rect x="1076.9" y="994.05" width="107.7" height="14.9" fill="#000000"/>
<text x="1031.5" y="1008.5" text-anchor="end">15q DEL</text>
<text x="1191.5" y="1008.1" font-size="21">1 / 3</text>
<rect x="1041" y="1013.72" width="29.02" height="14.9" fill="#644b8c"/>
<rect x="1069.72" y="1013.72" width="57.74" height="14.9" fill="#808080"/>
<rect x="1127.16" y="1013.72" width="57.44" height="14.9" fill="#000000"/>
<text x="1031.5" y="1028.17" text-anchor="end">17q  AMP/DEL</text>
<text x="1191.5" y="1027.77" font-size="21">1 / 4</text>
<rect x="1041" y="1033.39" width="24.23" height="14.9" fill="#644b8c"/>
<rect x="1064.93" y="1033.39" width="24.23" height="14.9" fill="#808080"/>
<rect x="1088.87" y="1033.39" width="95.73" height="14.9" fill="#000000"/>
<text x="1031.5" y="1047.84" text-anchor="end">4p  AMP/DEL</text>
<text x="1191.5" y="1047.44" font-size="21">1 / 5</text>
<rect x="1041" y="1053.06" width="143.6" height="14.9" fill="#808080"/>
<text x="1031.5" y="1067.51" text-anchor="end">1p DEL</text>
<text x="1191.5" y="1067.11" font-size="21">0 / 1</text>
<rect x="1041" y="1072.72" width="143.6" height="14.9" fill="#808080"/>
<text x="1031.5" y="1087.17" text-anchor="end">7q AMP</text>
<text x="1191.5" y="1086.77" font-size="21">0 / 1</text>
<rect x="1041" y="1092.39" width="143.6" height="14.9" fill="#808080"/>
<text x="1031.5" y="1106.84" text-anchor="end">9q AMP</text>
<text x="1191.5" y="1106.44" font-size="21">0 / 1</text>
<rect x="1041" y="1112.06" width="86.46" height="14.9" fill="#808080"/>
<rect x="1127.16" y="1112.06" width="57.44" height="14.9" fill="#000000"/>
<text x="1031.5" y="1126.51" text-anchor="end">8p DEL</text>
<text x="1191.5" y="1126.11" font-size="21">0 / 5</text>
<rect x="1041" y="1131.73" width="143.6" height="14.9" fill="#000000"/>
<text x="1031.5" y="1146.18" text-anchor="end">10p DEL</text>
<text x="1191.5" y="1145.78" font-size="21">0 / 1</text>
<rect x="1041" y="1151.4" width="143.6" height="14.9" fill="#000000"/>
<text x="1031.5" y="1165.85" text-anchor="end">10q DEL</text>
<text x="1191.5" y="1165.45" font-size="21">0 / 1</text>
<rect x="1041" y="1171.06" width="143.6" height="14.9" fill="#000000"/>
<text x="1031.5" y="1185.51" text-anchor="end">11p DEL</text>
<text x="1191.5" y="1185.11" font-size="21">0 / 1</text>
<rect x="1041" y="1190.73" width="143.6" height="14.9" fill="#000000"/>
<text x="1031.5" y="1205.18" text-anchor="end">18q DEL</text>
<text x="1191.5" y="1204.78" font-size="21">0 / 1</text>
<rect x="1041" y="1210.4" width="143.6" height="14.9" fill="#000000"/>
<text x="1031.5" y="1224.85" text-anchor="end">21p DEL</text>
<text x="1191.5" y="1224.45" font-size="21">0 / 1</text>
<rect x="1041" y="1230.07" width="143.6" height="14.9" fill="#000000"/>
<text x="1031.5" y="1244.52" text-anchor="end">7p DEL</text>
<text x="1191.5" y="1244.12" font-size="21">0 / 1</text>
<rect x="1041" y="1249.74" width="143.6" height="14.9" fill="#000000"/>
<text x="1031.5" y="1264.19" text-anchor="end">8q DEL</text>
<text x="1191.5" y="1263.79" font-size="21">0 / 1</text>
<rect x="1041" y="1269.4" width="143.6" height="14.9" fill="#000000"/>
<text x="1031.5" y="1283.85" text-anchor="end">16p DEL</text>
<text x="1191.5" y="1283.45" font-size="21">0 / 2</text>
<rect x="1041" y="1289.07" width="143.6" height="14.9" fill="#000000"/>
<text x="1031.5" y="1303.52" text-anchor="end">16q DEL</text>
<text x="1191.5" y="1303.12" font-size="21">0 / 2</text>
<rect x="1041" y="1308.74" width="143.6" height="14.9" fill="#000000"/>
<text x="1031.5" y="1323.19" text-anchor="end">3q  AMP/DEL</text>
<text x="1191.5" y="1322.79" font-size="21">0 / 3</text>
<rect x="1041" y="1328.41" width="143.6" height="14.9" fill="#000000"/>
<text x="1031.5" y="1342.86" text-anchor="end">22q DEL</text>
<text x="1191.5" y="1342.46" font-size="21">0 / 4</text>
<text x="1041" y="1367.91" text-anchor="middle" font-size="18.5">0</text>
<text x="1112.8" y="1367.91" text-anchor="middle" font-size="18.5">0.5</text>
<text x="1184.6" y="1367.91" text-anchor="middle" font-size="18.5">1</text>
</g>
<rect x="1670.6" y="642" width="328" height="95.4" rx="4" fill="#fff" stroke="#a9a5a3" stroke-width="1.3"/>
<rect x="1678.8" y="651" width="42.2" height="15" fill="#5f3f96"/>
<text x="1737" y="666" font-family="'Liberation Sans', Arial, Helvetica, sans-serif" font-size="21">Pre-WGD clonal alteration</text>
<rect x="1678.8" y="680.6" width="42.2" height="15" fill="#808080"/>
<text x="1737" y="695.6" font-family="'Liberation Sans', Arial, Helvetica, sans-serif" font-size="21">Post-WGD clonal alteration</text>
<rect x="1678.8" y="710.2" width="42.2" height="15" fill="#000000"/>
<text x="1737" y="725.2" font-family="'Liberation Sans', Arial, Helvetica, sans-serif" font-size="21">Subclonal alteration</text>
<g font-family="'Liberation Sans', Arial, Helvetica, sans-serif" fill="#000">
<path d="M1365.5,1623.8 A158.7,158.7 0 1 0 1265.22,1771.36 L1243.02,1715.29 A98.4,98.4 0 1 1 1305.2,1623.8 Z" fill="#3b439c" stroke="#3b439c" stroke-width="0.6"/>
<path d="M1265.22,1771.36 A158.7,158.7 0 0 0 1345.87,1700.25 L1293.03,1671.2 A98.4,98.4 0 0 1 1243.02,1715.29 Z" fill="#ba2428" stroke="#ba2428" stroke-width="0.6"/>
<path d="M1345.87,1700.25 A158.7,158.7 0 0 0 1365.5,1623.8 L1305.2,1623.8 A98.4,98.4 0 0 1 1293.03,1671.2 Z" fill="#0b7665" stroke="#0b7665" stroke-width="0.6"/>
<line x1="1304.7" y1="1623.8" x2="1366" y2="1623.8" stroke="#ffffff" stroke-opacity="0.55" stroke-width="0.9"/>
<line x1="1242.84" y1="1714.83" x2="1265.41" y2="1771.82" stroke="#ffffff" stroke-opacity="0.55" stroke-width="0.9"/>
<line x1="1292.59" y1="1670.96" x2="1346.31" y2="1700.5" stroke="#ffffff" stroke-opacity="0.55" stroke-width="0.9"/>
<text transform="translate(1103,1547.2) rotate(34.2)" text-anchor="middle" dy="0.358em" fill="#fff" font-size="23.5">81%</text>
<text transform="translate(1296,1720.1) rotate(-311.4)" text-anchor="middle" dy="0.358em" fill="#fff" font-size="23.5">11%</text>
<text transform="translate(1330.3,1664.1) rotate(-345.6)" text-anchor="middle" dy="0.358em" fill="#fff" font-size="23.5">8%</text>
<text x="1218.6" y="1631.1" text-anchor="middle" font-size="24">Before WGD</text>
<path d="M1909.6,1623.8 A158.7,158.7 0 1 0 1674.45,1762.87 L1703.5,1710.03 A98.4,98.4 0 1 1 1849.3,1623.8 Z" fill="#3b439c" stroke="#3b439c" stroke-width="0.6"/>
<path d="M1674.45,1762.87 A158.7,158.7 0 0 0 1844.18,1752.19 L1808.74,1703.41 A98.4,98.4 0 0 1 1703.5,1710.03 Z" fill="#ba2428" stroke="#ba2428" stroke-width="0.6"/>
<path d="M1844.18,1752.19 A158.7,158.7 0 0 0 1909.6,1623.8 L1849.3,1623.8 A98.4,98.4 0 0 1 1808.74,1703.41 Z" fill="#0b7665" stroke="#0b7665" stroke-width="0.6"/>
<line x1="1848.8" y1="1623.8" x2="1910.1" y2="1623.8" stroke="#ffffff" stroke-opacity="0.55" stroke-width="0.9"/>
<line x1="1703.74" y1="1709.59" x2="1674.2" y2="1763.31" stroke="#ffffff" stroke-opacity="0.55" stroke-width="0.9"/>
<line x1="1808.44" y1="1703" x2="1844.48" y2="1752.6" stroke="#ffffff" stroke-opacity="0.55" stroke-width="0.9"/>
<text transform="translate(1683.5,1515.3) rotate(59.4)" text-anchor="middle" dy="0.358em" fill="#fff" font-size="23.5">67%</text>
<text transform="translate(1772.2,1750.9) rotate(-273.6)" text-anchor="middle" dy="0.358em" fill="#fff" font-size="23.5">18%</text>
<text transform="translate(1869.2,1689.7) rotate(-333)" text-anchor="middle" dy="0.358em" fill="#fff" font-size="23.5">15%</text>
<text x="1758.8" y="1631.1" text-anchor="middle" font-size="24">After WGD</text>
</g>
<rect x="1096.7" y="1835.4" width="764.7" height="35.9" rx="4" fill="#fff" stroke="#a9a5a3" stroke-width="1.3"/>
<rect x="1104.8" y="1843.9" width="42.2" height="14.9" fill="#3b439c"/>
<text x="1163" y="1858.8" font-family="'Liberation Sans', Arial, Helvetica, sans-serif" font-size="21">Age signature</text>
<rect x="1334.2" y="1843.9" width="42.2" height="14.9" fill="#ba2428"/>
<text x="1392.5" y="1858.8" font-family="'Liberation Sans', Arial, Helvetica, sans-serif" font-size="21">APOBEC signature</text>
<rect x="1614" y="1843.9" width="42.2" height="14.9" fill="#0b7665"/>
<text x="1672.3" y="1858.8" font-family="'Liberation Sans', Arial, Helvetica, sans-serif" font-size="21">Unknown signature</text>
</svg>
</body></html>
